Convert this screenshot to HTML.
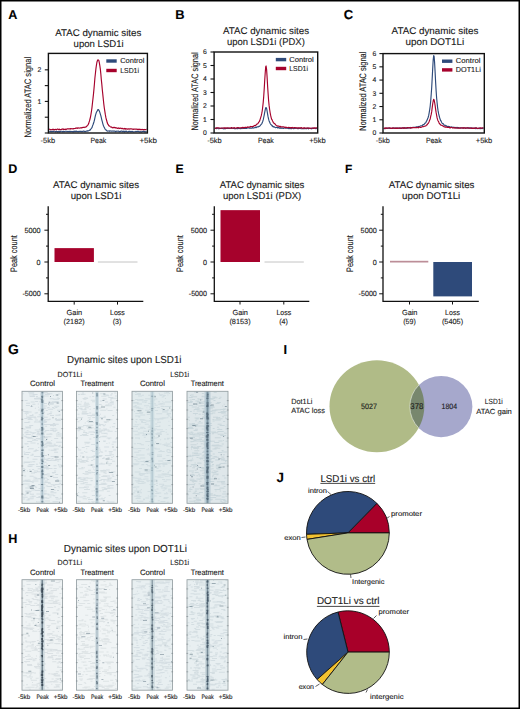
<!DOCTYPE html>
<html><head><meta charset="utf-8"><title>Figure</title>
<style>html,body{margin:0;padding:0;background:#fff;}body{width:520px;height:709px;overflow:hidden;font-family:"Liberation Sans",sans-serif;}svg{display:block;}</style>
</head><body>
<svg width="520" height="709" viewBox="0 0 520 709" font-family="Liberation Sans, sans-serif" text-rendering="geometricPrecision" fill="#1a1a1a"><style>text{stroke:#1a1a1a;stroke-width:0.12px;}</style>
<text x="8.30" y="19.40" font-size="12.6" font-weight="bold" fill="#000">A</text>
<text x="175.30" y="18.80" font-size="12.9" font-weight="bold" fill="#000">B</text>
<text x="343.80" y="19.10" font-size="13.0" font-weight="bold" fill="#000">C</text>
<text x="8.30" y="172.90" font-size="12.5" font-weight="bold" fill="#000">D</text>
<text x="175.40" y="172.80" font-size="12.3" font-weight="bold" fill="#000">E</text>
<text x="345.10" y="172.60" font-size="11.9" font-weight="bold" fill="#000">F</text>
<text x="8.00" y="354.00" font-size="13.9" font-weight="bold" fill="#000">G</text>
<text x="8.20" y="542.90" font-size="12.6" font-weight="bold" fill="#000">H</text>
<text x="283.60" y="353.60" font-size="12.9" font-weight="bold" fill="#000">I</text>
<text x="276.40" y="481.80" font-size="13.4" font-weight="bold" fill="#000">J</text>
<polyline points="49.2,131.45 49.7,131.33 50.2,131.68 50.7,131.27 51.2,131.60 51.7,131.48 52.2,131.26 52.6,131.58 53.1,131.25 53.6,131.52 54.1,131.27 54.6,131.28 55.1,131.51 55.6,131.79 56.1,131.30 56.6,131.37 57.1,131.65 57.6,131.87 58.1,131.61 58.5,131.49 59.0,131.89 59.5,131.24 60.0,131.80 60.5,131.40 61.0,131.30 61.5,131.28 62.0,131.41 62.5,131.76 63.0,131.32 63.5,131.59 64.0,131.63 64.4,131.44 64.9,131.56 65.4,131.22 65.9,131.21 66.4,131.31 66.9,131.64 67.4,131.46 67.9,131.38 68.4,131.56 68.9,131.47 69.4,131.35 69.9,131.69 70.4,131.62 70.8,131.30 71.3,131.53 71.8,131.49 72.3,131.72 72.8,131.62 73.3,131.30 73.8,131.78 74.3,131.17 74.8,131.37 75.3,131.60 75.8,131.17 76.3,131.40 76.7,131.08 77.2,131.51 77.7,131.57 78.2,131.43 78.7,131.64 79.2,131.24 79.7,131.50 80.2,131.42 80.7,131.40 81.2,131.30 81.7,131.56 82.2,131.63 82.7,131.29 83.1,131.42 83.6,130.99 84.1,131.43 84.6,131.38 85.1,131.61 85.6,131.47 86.1,131.08 86.6,131.12 87.1,131.28 87.6,130.77 88.1,130.99 88.6,130.66 89.0,130.45 89.5,130.16 90.0,130.32 90.5,129.41 91.0,128.89 91.5,128.22 92.0,127.59 92.5,125.86 93.0,124.74 93.5,123.23 94.0,121.71 94.5,119.80 94.9,117.90 95.4,115.59 95.9,113.91 96.4,112.31 96.9,111.43 97.4,110.62 97.9,109.63 98.4,109.69 98.9,110.24 99.4,111.18 99.9,112.67 100.4,114.35 100.9,115.93 101.3,117.66 101.8,119.87 102.3,121.69 102.8,123.55 103.3,125.36 103.8,126.52 104.3,127.53 104.8,128.53 105.3,129.32 105.8,129.46 106.3,130.48 106.8,130.72 107.2,131.02 107.7,131.13 108.2,130.96 108.7,131.05 109.2,130.89 109.7,131.30 110.2,130.93 110.7,130.95 111.2,131.06 111.7,131.04 112.2,131.17 112.7,130.98 113.1,130.95 113.6,131.07 114.1,131.04 114.6,131.23 115.1,131.00 115.6,131.61 116.1,131.43 116.6,131.11 117.1,131.19 117.6,131.27 118.1,131.29 118.6,131.13 119.1,131.64 119.5,131.75 120.0,131.39 120.5,131.41 121.0,131.14 121.5,131.15 122.0,131.33 122.5,131.28 123.0,131.68 123.5,131.22 124.0,131.13 124.5,131.78 125.0,131.49 125.4,131.23 125.9,131.51 126.4,131.16 126.9,131.51 127.4,131.83 127.9,131.76 128.4,131.64 128.9,131.34 129.4,131.42 129.9,131.29 130.4,131.71 130.9,131.55 131.4,131.72 131.8,131.41 132.3,131.34 132.8,131.76 133.3,131.88 133.8,131.79 134.3,131.76 134.8,131.77 135.3,131.72 135.8,131.36 136.3,131.57 136.8,131.45 137.3,131.23 137.7,131.23 138.2,131.41 138.7,131.39 139.2,131.70 139.7,131.88 140.2,131.53 140.7,131.87 141.2,131.91 141.7,131.89 142.2,131.47 142.7,131.37 143.2,131.38 143.6,131.36 144.1,131.36 144.6,131.66 145.1,131.85 145.6,131.81 146.1,131.56 146.6,131.68" fill="none" stroke="#2e4a7a" stroke-width="1.15" stroke-linejoin="round"/>
<polyline points="49.2,129.71 49.7,129.20 50.2,129.60 50.7,129.77 51.2,129.68 51.7,129.66 52.2,129.46 52.6,129.25 53.1,129.67 53.6,129.34 54.1,129.67 54.6,129.78 55.1,129.37 55.6,129.37 56.1,129.74 56.6,129.58 57.1,129.18 57.6,129.14 58.1,129.15 58.5,129.67 59.0,129.59 59.5,129.11 60.0,129.58 60.5,129.67 61.0,129.43 61.5,129.20 62.0,129.32 62.5,129.01 63.0,128.91 63.5,129.57 64.0,129.32 64.4,129.21 64.9,129.48 65.4,129.10 65.9,129.39 66.4,129.33 66.9,128.87 67.4,128.87 67.9,128.87 68.4,128.81 68.9,129.02 69.4,128.76 69.9,128.83 70.4,128.60 70.8,129.11 71.3,128.68 71.8,128.71 72.3,128.76 72.8,128.94 73.3,128.56 73.8,128.87 74.3,128.53 74.8,128.51 75.3,128.45 75.8,128.05 76.3,128.30 76.7,128.07 77.2,127.89 77.7,128.39 78.2,127.90 78.7,128.06 79.2,128.18 79.7,128.01 80.2,127.79 80.7,127.87 81.2,127.84 81.7,127.94 82.2,127.40 82.7,127.65 83.1,127.36 83.6,127.30 84.1,127.55 84.6,127.25 85.1,127.14 85.6,127.09 86.1,126.95 86.6,126.30 87.1,125.99 87.6,125.35 88.1,124.62 88.6,123.79 89.0,122.40 89.5,120.92 90.0,118.99 90.5,117.01 91.0,114.09 91.5,110.99 92.0,107.35 92.5,102.74 93.0,98.41 93.5,93.82 94.0,88.68 94.5,83.05 94.9,77.99 95.4,73.44 95.9,68.86 96.4,65.29 96.9,62.27 97.4,60.71 97.9,59.83 98.4,60.01 98.9,60.65 99.4,63.20 99.9,66.21 100.4,69.67 100.9,74.61 101.3,79.51 101.8,84.07 102.3,89.72 102.8,94.37 103.3,99.23 103.8,104.05 104.3,108.00 104.8,111.13 105.3,114.45 105.8,117.17 106.3,119.27 106.8,121.00 107.2,122.56 107.7,124.01 108.2,124.43 108.7,125.51 109.2,125.96 109.7,126.07 110.2,126.60 110.7,127.04 111.2,127.14 111.7,126.96 112.2,127.72 112.7,127.67 113.1,127.88 113.6,127.34 114.1,127.52 114.6,127.43 115.1,128.00 115.6,127.71 116.1,127.66 116.6,127.92 117.1,128.32 117.6,128.31 118.1,127.97 118.6,127.95 119.1,128.54 119.5,128.35 120.0,128.49 120.5,128.11 121.0,128.14 121.5,128.62 122.0,128.49 122.5,128.28 123.0,128.93 123.5,128.76 124.0,128.92 124.5,128.46 125.0,129.04 125.4,128.52 125.9,129.12 126.4,128.86 126.9,128.82 127.4,129.00 127.9,129.29 128.4,128.86 128.9,128.79 129.4,129.10 129.9,128.92 130.4,128.86 130.9,128.92 131.4,128.86 131.8,128.99 132.3,129.09 132.8,129.10 133.3,129.44 133.8,129.13 134.3,129.29 134.8,129.08 135.3,129.22 135.8,129.00 136.3,129.18 136.8,129.02 137.3,129.54 137.7,129.42 138.2,129.18 138.7,129.39 139.2,129.72 139.7,129.15 140.2,129.65 140.7,129.39 141.2,129.44 141.7,129.69 142.2,129.38 142.7,129.47 143.2,129.60 143.6,129.81 144.1,129.37 144.6,129.71 145.1,129.63 145.6,129.58 146.1,129.43 146.6,129.39" fill="none" stroke="#a6022c" stroke-width="1.15" stroke-linejoin="round"/>
<rect x="48.4" y="53.4" width="99.00" height="79.60" fill="none" stroke="#111" stroke-width="1.4"/>
<line x1="44.8" y1="69.83" x2="48.4" y2="69.83" stroke="#111" stroke-width="1.1"/>
<text x="41.40" y="72.23" font-size="6.8" text-anchor="end">2</text>
<line x1="44.8" y1="85.62" x2="48.4" y2="85.62" stroke="#111" stroke-width="1.1"/>
<line x1="44.8" y1="101.41" x2="48.4" y2="101.41" stroke="#111" stroke-width="1.1"/>
<text x="41.40" y="103.81" font-size="6.8" text-anchor="end">1</text>
<line x1="44.8" y1="117.21" x2="48.4" y2="117.21" stroke="#111" stroke-width="1.1"/>
<line x1="44.8" y1="133.00" x2="48.4" y2="133.00" stroke="#111" stroke-width="1.1"/>
<text x="98.30" y="35.90" font-size="9.7" text-anchor="middle" textLength="86.10" lengthAdjust="spacingAndGlyphs">ATAC dynamic sites</text>
<text x="98.65" y="46.90" font-size="9.7" text-anchor="middle" textLength="50.10" lengthAdjust="spacingAndGlyphs">upon LSD1i</text>
<rect x="106.3" y="59.3" width="10.4" height="3.4" fill="#2e4a7a"/>
<rect x="106.3" y="68.8" width="10.4" height="3.4" fill="#a6022c"/>
<text x="120.20" y="63.00" font-size="7.2" textLength="24.20" lengthAdjust="spacingAndGlyphs">Control</text>
<text x="120.20" y="72.70" font-size="7.2" textLength="18.80" lengthAdjust="spacingAndGlyphs">LSD1i</text>
<text x="30.50" y="97.25" font-size="9.4" text-anchor="middle" textLength="80.70" lengthAdjust="spacingAndGlyphs" transform="rotate(-90 30.50 97.25)">Normalized ATAC signal</text>
<text x="47.80" y="143.00" font-size="7.6" text-anchor="middle" textLength="14.50" lengthAdjust="spacingAndGlyphs">-5kb</text>
<text x="98.40" y="143.00" font-size="7.6" text-anchor="middle" textLength="15.80" lengthAdjust="spacingAndGlyphs">Peak</text>
<text x="148.20" y="143.00" font-size="7.6" text-anchor="middle" textLength="17.50" lengthAdjust="spacingAndGlyphs">+5kb</text>
<polyline points="214.9,128.19 215.4,128.24 215.9,128.20 216.4,128.67 216.9,128.33 217.4,128.26 217.9,128.20 218.3,128.73 218.8,128.75 219.3,128.61 219.8,128.34 220.3,128.31 220.8,128.34 221.3,128.46 221.8,128.25 222.3,128.45 222.8,128.32 223.3,128.80 223.8,128.81 224.3,128.51 224.8,128.30 225.2,128.80 225.7,128.34 226.2,128.37 226.7,128.12 227.2,128.38 227.7,128.45 228.2,128.47 228.7,128.25 229.2,128.46 229.7,128.11 230.2,128.29 230.7,128.16 231.2,128.38 231.7,128.13 232.1,128.11 232.6,128.30 233.1,128.25 233.6,128.49 234.1,128.45 234.6,128.60 235.1,128.53 235.6,128.57 236.1,128.68 236.6,128.33 237.1,128.28 237.6,128.74 238.1,128.15 238.6,128.55 239.0,128.49 239.5,128.06 240.0,128.61 240.5,128.64 241.0,128.45 241.5,128.52 242.0,128.56 242.5,128.08 243.0,128.34 243.5,128.32 244.0,128.54 244.5,128.51 245.0,128.51 245.5,128.33 245.9,128.53 246.4,128.37 246.9,128.36 247.4,128.02 247.9,127.86 248.4,127.92 248.9,128.05 249.4,127.85 249.9,128.34 250.4,128.12 250.9,128.14 251.4,128.10 251.9,128.10 252.3,127.93 252.8,127.54 253.3,128.05 253.8,127.96 254.3,127.72 254.8,127.67 255.3,127.68 255.8,127.17 256.3,127.54 256.8,127.08 257.3,126.81 257.8,126.78 258.3,126.92 258.8,126.32 259.2,126.42 259.7,126.26 260.2,125.52 260.7,124.95 261.2,124.41 261.7,123.78 262.2,122.86 262.7,121.50 263.2,119.92 263.7,117.50 264.2,115.07 264.7,112.33 265.2,109.92 265.7,107.66 266.1,107.48 266.6,108.47 267.1,111.03 267.6,114.04 268.1,116.97 268.6,119.19 269.1,120.94 269.6,122.05 270.1,123.29 270.6,124.10 271.1,124.78 271.6,125.07 272.1,126.05 272.6,125.92 273.0,126.76 273.5,126.97 274.0,126.54 274.5,127.02 275.0,127.42 275.5,127.65 276.0,127.40 276.5,127.37 277.0,127.41 277.5,128.00 278.0,127.56 278.5,127.87 279.0,127.62 279.5,127.93 279.9,128.28 280.4,127.74 280.9,128.26 281.4,128.07 281.9,128.36 282.4,128.26 282.9,127.95 283.4,128.44 283.9,128.18 284.4,127.87 284.9,127.87 285.4,128.23 285.9,128.22 286.3,128.13 286.8,128.03 287.3,128.18 287.8,128.17 288.3,128.55 288.8,127.97 289.3,128.51 289.8,128.58 290.3,128.08 290.8,128.65 291.3,128.51 291.8,128.65 292.3,128.23 292.8,128.29 293.2,128.31 293.7,128.74 294.2,128.46 294.7,128.31 295.2,128.36 295.7,128.26 296.2,128.10 296.7,128.14 297.2,128.66 297.7,128.28 298.2,128.74 298.7,128.26 299.2,128.28 299.7,128.45 300.1,128.23 300.6,128.36 301.1,128.77 301.6,128.72 302.1,128.67 302.6,128.55 303.1,128.75 303.6,128.77 304.1,128.50 304.6,128.62 305.1,128.15 305.6,128.63 306.1,128.44 306.6,128.65 307.0,128.58 307.5,128.33 308.0,128.16 308.5,128.78 309.0,128.22 309.5,128.46 310.0,128.38 310.5,128.34 311.0,128.65 311.5,128.82 312.0,128.32 312.5,128.60 313.0,128.35 313.5,128.53 313.9,128.42 314.4,128.26 314.9,128.26 315.4,128.29 315.9,128.78 316.4,128.50 316.9,128.30" fill="none" stroke="#2e4a7a" stroke-width="1.15" stroke-linejoin="round"/>
<polyline points="214.9,128.43 215.4,128.49 215.9,128.10 216.4,127.88 216.9,127.92 217.4,127.84 217.9,128.02 218.3,127.84 218.8,127.94 219.3,127.95 219.8,128.16 220.3,128.38 220.8,128.28 221.3,128.04 221.8,128.04 222.3,128.11 222.8,128.00 223.3,127.97 223.8,127.77 224.3,127.92 224.8,128.40 225.2,127.81 225.7,128.06 226.2,128.15 226.7,128.31 227.2,127.85 227.7,127.88 228.2,127.86 228.7,127.96 229.2,127.98 229.7,128.33 230.2,128.25 230.7,128.26 231.2,127.66 231.7,127.66 232.1,128.12 232.6,128.24 233.1,127.94 233.6,128.01 234.1,127.59 234.6,127.85 235.1,128.21 235.6,128.13 236.1,128.14 236.6,128.21 237.1,127.69 237.6,127.58 238.1,127.59 238.6,127.83 239.0,127.93 239.5,128.09 240.0,127.92 240.5,127.85 241.0,127.91 241.5,127.67 242.0,127.71 242.5,127.33 243.0,127.82 243.5,127.41 244.0,127.86 244.5,127.64 245.0,127.36 245.5,127.20 245.9,127.25 246.4,127.48 246.9,127.48 247.4,127.01 247.9,126.93 248.4,127.19 248.9,127.17 249.4,126.96 249.9,126.77 250.4,126.96 250.9,126.45 251.4,126.56 251.9,126.56 252.3,126.79 252.8,126.44 253.3,126.45 253.8,126.00 254.3,125.65 254.8,125.44 255.3,125.71 255.8,125.25 256.3,124.67 256.8,124.11 257.3,124.03 257.8,123.67 258.3,122.92 258.8,122.13 259.2,121.61 259.7,120.82 260.2,119.14 260.7,117.55 261.2,115.95 261.7,113.72 262.2,111.01 262.7,106.97 263.2,102.65 263.7,96.62 264.2,89.11 264.7,80.56 265.2,72.93 265.7,66.70 266.1,65.97 266.6,69.64 267.1,77.13 267.6,85.98 268.1,93.48 268.6,100.49 269.1,105.39 269.6,109.27 270.1,112.49 270.6,115.14 271.1,117.30 271.6,119.09 272.1,119.82 272.6,121.05 273.0,121.79 273.5,123.05 274.0,123.07 274.5,123.53 275.0,123.97 275.5,124.59 276.0,125.27 276.5,125.55 277.0,125.69 277.5,126.10 278.0,126.25 278.5,126.00 279.0,126.06 279.5,126.72 279.9,126.71 280.4,126.33 280.9,126.87 281.4,126.77 281.9,126.85 282.4,126.90 282.9,126.85 283.4,126.80 283.9,127.06 284.4,127.16 284.9,127.64 285.4,127.10 285.9,127.73 286.3,127.24 286.8,127.39 287.3,127.75 287.8,127.78 288.3,127.54 288.8,127.30 289.3,127.62 289.8,127.58 290.3,127.99 290.8,127.50 291.3,127.64 291.8,128.04 292.3,127.45 292.8,127.73 293.2,128.03 293.7,128.01 294.2,127.52 294.7,127.53 295.2,127.57 295.7,128.18 296.2,127.73 296.7,128.08 297.2,128.20 297.7,127.82 298.2,127.78 298.7,128.27 299.2,128.04 299.7,127.80 300.1,128.13 300.6,127.86 301.1,127.84 301.6,127.66 302.1,128.19 302.6,128.31 303.1,128.12 303.6,128.34 304.1,127.70 304.6,127.86 305.1,128.03 305.6,128.37 306.1,128.38 306.6,127.99 307.0,127.90 307.5,128.03 308.0,128.07 308.5,128.38 309.0,127.87 309.5,128.30 310.0,128.26 310.5,128.33 311.0,128.30 311.5,128.18 312.0,127.99 312.5,127.99 313.0,128.02 313.5,128.32 313.9,127.83 314.4,127.92 314.9,128.31 315.4,127.96 315.9,127.83 316.4,127.81 316.9,128.18" fill="none" stroke="#a6022c" stroke-width="1.15" stroke-linejoin="round"/>
<rect x="214.1" y="52.0" width="103.60" height="81.00" fill="none" stroke="#111" stroke-width="1.4"/>
<line x1="210.5" y1="133.00" x2="214.1" y2="133.00" stroke="#111" stroke-width="1.1"/>
<text x="206.90" y="135.40" font-size="6.8" text-anchor="end">0</text>
<line x1="210.5" y1="119.50" x2="214.1" y2="119.50" stroke="#111" stroke-width="1.1"/>
<text x="206.90" y="121.90" font-size="6.8" text-anchor="end">1</text>
<line x1="210.5" y1="106.00" x2="214.1" y2="106.00" stroke="#111" stroke-width="1.1"/>
<text x="206.90" y="108.40" font-size="6.8" text-anchor="end">2</text>
<line x1="210.5" y1="92.50" x2="214.1" y2="92.50" stroke="#111" stroke-width="1.1"/>
<text x="206.90" y="94.90" font-size="6.8" text-anchor="end">3</text>
<line x1="210.5" y1="79.00" x2="214.1" y2="79.00" stroke="#111" stroke-width="1.1"/>
<text x="206.90" y="81.40" font-size="6.8" text-anchor="end">4</text>
<line x1="210.5" y1="65.50" x2="214.1" y2="65.50" stroke="#111" stroke-width="1.1"/>
<text x="206.90" y="67.90" font-size="6.8" text-anchor="end">5</text>
<line x1="210.5" y1="52.00" x2="214.1" y2="52.00" stroke="#111" stroke-width="1.1"/>
<text x="206.90" y="54.40" font-size="6.8" text-anchor="end">6</text>
<text x="266.05" y="34.00" font-size="9.7" text-anchor="middle" textLength="85.90" lengthAdjust="spacingAndGlyphs">ATAC dynamic sites</text>
<text x="265.85" y="45.20" font-size="9.7" text-anchor="middle" textLength="77.90" lengthAdjust="spacingAndGlyphs">upon LSD1i (PDX)</text>
<rect x="275.8" y="57.9" width="10.4" height="3.4" fill="#2e4a7a"/>
<rect x="275.8" y="66.8" width="10.4" height="3.4" fill="#a6022c"/>
<text x="289.20" y="61.60" font-size="7.2" textLength="24.60" lengthAdjust="spacingAndGlyphs">Control</text>
<text x="289.20" y="70.70" font-size="7.2" textLength="18.80" lengthAdjust="spacingAndGlyphs">LSD1i</text>
<text x="198.00" y="91.50" font-size="9.4" text-anchor="middle" textLength="78.20" lengthAdjust="spacingAndGlyphs" transform="rotate(-90 198.00 91.50)">Normalized ATAC signal</text>
<text x="214.50" y="143.00" font-size="7.6" text-anchor="middle" textLength="14.50" lengthAdjust="spacingAndGlyphs">-5kb</text>
<text x="265.90" y="143.00" font-size="7.6" text-anchor="middle" textLength="15.80" lengthAdjust="spacingAndGlyphs">Peak</text>
<text x="317.50" y="143.00" font-size="7.6" text-anchor="middle" textLength="16.60" lengthAdjust="spacingAndGlyphs">+5kb</text>
<polyline points="383.8,128.21 384.3,128.66 384.8,128.59 385.3,128.66 385.8,128.15 386.3,128.02 386.8,128.03 387.3,128.30 387.7,128.45 388.2,128.26 388.7,128.11 389.2,128.23 389.7,128.37 390.2,128.40 390.7,128.45 391.2,128.51 391.7,128.38 392.2,127.99 392.7,128.49 393.2,128.10 393.7,128.29 394.2,128.14 394.7,128.39 395.2,128.01 395.6,128.03 396.1,128.02 396.6,127.95 397.1,128.46 397.6,128.23 398.1,128.05 398.6,128.09 399.1,128.50 399.6,128.15 400.1,127.94 400.6,128.33 401.1,128.21 401.6,128.44 402.1,127.80 402.6,128.05 403.0,128.28 403.5,128.28 404.0,128.32 404.5,127.69 405.0,127.85 405.5,127.71 406.0,127.74 406.5,128.27 407.0,127.97 407.5,128.19 408.0,127.78 408.5,128.10 409.0,127.78 409.5,127.62 410.0,127.96 410.5,128.04 410.9,127.42 411.4,127.73 411.9,127.71 412.4,127.39 412.9,127.45 413.4,127.24 413.9,127.24 414.4,127.22 414.9,127.40 415.4,127.38 415.9,127.00 416.4,126.79 416.9,126.93 417.4,127.09 417.9,126.65 418.3,126.64 418.8,126.45 419.3,126.74 419.8,126.42 420.3,125.93 420.8,125.79 421.3,125.81 421.8,125.70 422.3,125.53 422.8,124.88 423.3,124.62 423.8,124.65 424.3,124.05 424.8,123.50 425.3,122.98 425.8,122.81 426.2,121.62 426.7,120.93 427.2,119.73 427.7,118.50 428.2,117.27 428.7,115.45 429.2,112.62 429.7,109.50 430.2,106.06 430.7,100.85 431.2,94.55 431.7,87.53 432.2,78.11 432.7,68.64 433.2,59.79 433.7,55.48 434.1,56.37 434.6,62.67 435.1,71.88 435.6,81.90 436.1,90.53 436.6,97.77 437.1,102.81 437.6,107.59 438.1,110.88 438.6,113.72 439.1,115.65 439.6,117.51 440.1,119.10 440.6,120.56 441.1,120.97 441.5,122.05 442.0,122.96 442.5,123.66 443.0,123.63 443.5,124.01 444.0,124.96 444.5,125.31 445.0,125.26 445.5,125.21 446.0,126.05 446.5,125.88 447.0,126.42 447.5,126.38 448.0,126.67 448.5,126.34 449.0,126.90 449.4,126.61 449.9,126.84 450.4,127.24 450.9,127.31 451.4,126.94 451.9,127.03 452.4,127.23 452.9,127.37 453.4,127.33 453.9,127.20 454.4,127.34 454.9,127.72 455.4,127.88 455.9,127.32 456.4,127.72 456.8,127.89 457.3,127.42 457.8,128.01 458.3,127.54 458.8,127.90 459.3,127.89 459.8,127.97 460.3,127.77 460.8,127.87 461.3,128.00 461.8,127.91 462.3,128.09 462.8,127.96 463.3,127.97 463.8,127.70 464.3,128.13 464.7,128.05 465.2,127.89 465.7,128.27 466.2,128.30 466.7,128.08 467.2,127.90 467.7,128.12 468.2,127.87 468.7,127.89 469.2,128.12 469.7,127.89 470.2,128.14 470.7,128.20 471.2,127.88 471.7,128.30 472.1,127.92 472.6,128.38 473.1,128.42 473.6,128.24 474.1,127.93 474.6,128.25 475.1,128.17 475.6,128.57 476.1,128.01 476.6,128.52 477.1,128.62 477.6,128.44 478.1,128.51 478.6,128.08 479.1,128.63 479.6,128.29 480.0,128.62 480.5,128.60 481.0,128.08 481.5,128.52 482.0,128.62 482.5,128.02 483.0,128.22 483.5,128.51" fill="none" stroke="#2e4a7a" stroke-width="1.15" stroke-linejoin="round"/>
<polyline points="383.8,127.92 384.3,128.44 384.8,128.00 385.3,128.38 385.8,127.91 386.3,128.16 386.8,128.45 387.3,127.95 387.7,127.98 388.2,128.15 388.7,128.02 389.2,127.82 389.7,127.92 390.2,127.90 390.7,128.44 391.2,128.26 391.7,128.41 392.2,127.90 392.7,128.33 393.2,127.86 393.7,128.14 394.2,128.22 394.7,128.02 395.2,128.38 395.6,128.15 396.1,128.16 396.6,128.37 397.1,127.82 397.6,128.44 398.1,128.18 398.6,128.02 399.1,128.29 399.6,127.92 400.1,128.42 400.6,128.13 401.1,127.97 401.6,128.25 402.1,128.02 402.6,127.82 403.0,128.22 403.5,127.72 404.0,128.26 404.5,127.85 405.0,128.12 405.5,128.35 406.0,128.06 406.5,128.11 407.0,127.85 407.5,127.63 408.0,127.64 408.5,127.71 409.0,128.03 409.5,127.88 410.0,127.93 410.5,128.18 410.9,127.63 411.4,127.69 411.9,127.97 412.4,127.51 412.9,127.48 413.4,127.70 413.9,127.51 414.4,127.66 414.9,127.54 415.4,127.77 415.9,127.74 416.4,127.44 416.9,127.70 417.4,127.56 417.9,127.28 418.3,127.80 418.8,127.27 419.3,127.15 419.8,127.05 420.3,127.36 420.8,127.45 421.3,127.31 421.8,126.96 422.3,126.76 422.8,126.47 423.3,126.78 423.8,126.57 424.3,126.26 424.8,126.27 425.3,125.90 425.8,125.98 426.2,125.53 426.7,124.82 427.2,124.83 427.7,123.70 428.2,123.39 428.7,122.50 429.2,121.40 429.7,120.03 430.2,118.98 430.7,116.47 431.2,114.38 431.7,111.64 432.2,107.56 432.7,103.90 433.2,101.01 433.7,99.23 434.1,99.76 434.6,102.28 435.1,105.32 435.6,109.10 436.1,112.44 436.6,115.06 437.1,117.91 437.6,119.63 438.1,121.01 438.6,121.65 439.1,123.14 439.6,123.81 440.1,124.21 440.6,124.90 441.1,125.11 441.5,125.30 442.0,125.51 442.5,125.84 443.0,125.92 443.5,126.31 444.0,126.77 444.5,126.87 445.0,127.10 445.5,127.11 446.0,126.90 446.5,127.18 447.0,127.18 447.5,127.50 448.0,127.37 448.5,127.25 449.0,127.56 449.4,127.84 449.9,127.36 450.4,127.86 450.9,127.29 451.4,127.49 451.9,127.51 452.4,127.89 452.9,128.06 453.4,127.94 453.9,127.67 454.4,128.08 454.9,127.71 455.4,127.67 455.9,128.15 456.4,127.97 456.8,128.03 457.3,128.03 457.8,128.26 458.3,127.92 458.8,128.19 459.3,128.10 459.8,128.22 460.3,127.94 460.8,128.15 461.3,128.05 461.8,127.87 462.3,127.81 462.8,128.11 463.3,127.73 463.8,128.32 464.3,127.79 464.7,127.72 465.2,127.78 465.7,128.36 466.2,127.96 466.7,127.82 467.2,127.74 467.7,127.76 468.2,128.22 468.7,128.18 469.2,128.23 469.7,128.26 470.2,127.80 470.7,128.17 471.2,128.01 471.7,128.33 472.1,128.34 472.6,128.39 473.1,127.82 473.6,128.38 474.1,128.41 474.6,128.44 475.1,127.85 475.6,127.93 476.1,127.86 476.6,127.81 477.1,128.38 477.6,128.36 478.1,128.24 478.6,128.37 479.1,128.24 479.6,128.00 480.0,127.87 480.5,127.87 481.0,128.33 481.5,127.95 482.0,128.03 482.5,128.11 483.0,127.83 483.5,127.99" fill="none" stroke="#a6022c" stroke-width="1.15" stroke-linejoin="round"/>
<rect x="383.0" y="53.6" width="101.30" height="79.40" fill="none" stroke="#111" stroke-width="1.4"/>
<line x1="379.4" y1="133.00" x2="383.0" y2="133.00" stroke="#111" stroke-width="1.1"/>
<text x="376.30" y="135.40" font-size="6.8" text-anchor="end">0</text>
<line x1="379.4" y1="119.77" x2="383.0" y2="119.77" stroke="#111" stroke-width="1.1"/>
<text x="376.30" y="122.17" font-size="6.8" text-anchor="end">1</text>
<line x1="379.4" y1="106.53" x2="383.0" y2="106.53" stroke="#111" stroke-width="1.1"/>
<text x="376.30" y="108.93" font-size="6.8" text-anchor="end">2</text>
<line x1="379.4" y1="93.30" x2="383.0" y2="93.30" stroke="#111" stroke-width="1.1"/>
<text x="376.30" y="95.70" font-size="6.8" text-anchor="end">3</text>
<line x1="379.4" y1="80.07" x2="383.0" y2="80.07" stroke="#111" stroke-width="1.1"/>
<text x="376.30" y="82.47" font-size="6.8" text-anchor="end">4</text>
<line x1="379.4" y1="66.83" x2="383.0" y2="66.83" stroke="#111" stroke-width="1.1"/>
<text x="376.30" y="69.23" font-size="6.8" text-anchor="end">5</text>
<line x1="379.4" y1="53.60" x2="383.0" y2="53.60" stroke="#111" stroke-width="1.1"/>
<text x="376.30" y="56.00" font-size="6.8" text-anchor="end">6</text>
<text x="435.00" y="34.00" font-size="9.7" text-anchor="middle" textLength="86.80" lengthAdjust="spacingAndGlyphs">ATAC dynamic sites</text>
<text x="434.80" y="45.20" font-size="9.7" text-anchor="middle" textLength="58.80" lengthAdjust="spacingAndGlyphs">upon DOT1Li</text>
<rect x="442.0" y="59.5" width="10.4" height="3.4" fill="#2e4a7a"/>
<rect x="442.0" y="68.2" width="10.4" height="3.4" fill="#a6022c"/>
<text x="455.80" y="63.20" font-size="7.2" textLength="24.70" lengthAdjust="spacingAndGlyphs">Control</text>
<text x="455.80" y="72.10" font-size="7.2" textLength="25.00" lengthAdjust="spacingAndGlyphs">DOT1Li</text>
<text x="366.50" y="91.20" font-size="9.4" text-anchor="middle" textLength="78.90" lengthAdjust="spacingAndGlyphs" transform="rotate(-90 366.50 91.20)">Normalized ATAC signal</text>
<text x="382.80" y="143.00" font-size="7.6" text-anchor="middle" textLength="14.00" lengthAdjust="spacingAndGlyphs">-5kb</text>
<text x="433.80" y="143.00" font-size="7.6" text-anchor="middle" textLength="15.80" lengthAdjust="spacingAndGlyphs">Peak</text>
<text x="484.00" y="143.00" font-size="7.6" text-anchor="middle" textLength="16.50" lengthAdjust="spacingAndGlyphs">+5kb</text>
<rect x="54.5" y="248.12" width="39.40" height="13.88" fill="#a6022c"/>
<line x1="97.9" y1="262.0" x2="137.5" y2="262.0" stroke="#c4c4c4" stroke-width="1"/>
<polyline points="48.2,206.2 48.2,301.4 143.3,301.4" fill="none" stroke="#111" stroke-width="1.3"/>
<line x1="46.0" y1="214.30" x2="48.2" y2="214.30" stroke="#111" stroke-width="1"/>
<line x1="44.400000000000006" y1="230.20" x2="48.2" y2="230.20" stroke="#111" stroke-width="1"/>
<text x="40.60" y="232.80" font-size="7.4" text-anchor="end" textLength="16.20" lengthAdjust="spacingAndGlyphs">5000</text>
<line x1="46.0" y1="246.10" x2="48.2" y2="246.10" stroke="#111" stroke-width="1"/>
<line x1="44.400000000000006" y1="262.00" x2="48.2" y2="262.00" stroke="#111" stroke-width="1"/>
<text x="40.60" y="264.60" font-size="7.4" text-anchor="end" textLength="4.00" lengthAdjust="spacingAndGlyphs">0</text>
<line x1="46.0" y1="277.90" x2="48.2" y2="277.90" stroke="#111" stroke-width="1"/>
<line x1="44.400000000000006" y1="293.80" x2="48.2" y2="293.80" stroke="#111" stroke-width="1"/>
<text x="40.60" y="296.40" font-size="7.4" text-anchor="end" textLength="18.20" lengthAdjust="spacingAndGlyphs">-5000</text>
<line x1="74.2" y1="301.4" x2="74.2" y2="304.59999999999997" stroke="#111" stroke-width="1"/>
<line x1="117.5" y1="301.4" x2="117.5" y2="304.59999999999997" stroke="#111" stroke-width="1"/>
<text x="74.40" y="314.60" font-size="7.4" text-anchor="middle" textLength="15.60" lengthAdjust="spacingAndGlyphs">Gain</text>
<text x="74.20" y="323.80" font-size="7.4" text-anchor="middle" textLength="21.20" lengthAdjust="spacingAndGlyphs">(2182)</text>
<text x="117.40" y="314.60" font-size="7.4" text-anchor="middle" textLength="14.80" lengthAdjust="spacingAndGlyphs">Loss</text>
<text x="117.00" y="323.80" font-size="7.4" text-anchor="middle" textLength="8.70" lengthAdjust="spacingAndGlyphs">(3)</text>
<text x="96.05" y="188.30" font-size="9.7" text-anchor="middle" textLength="85.90" lengthAdjust="spacingAndGlyphs">ATAC dynamic sites</text>
<text x="96.05" y="199.30" font-size="9.7" text-anchor="middle" textLength="50.70" lengthAdjust="spacingAndGlyphs">upon LSD1i</text>
<text x="17.00" y="253.60" font-size="9.4" text-anchor="middle" textLength="36.80" lengthAdjust="spacingAndGlyphs" transform="rotate(-90 17.00 253.60)">Peak count</text>
<rect x="220.5" y="210.15" width="39.50" height="51.85" fill="#a6022c"/>
<line x1="264.5" y1="262.0" x2="303.8" y2="262.0" stroke="#c4c4c4" stroke-width="1"/>
<polyline points="214.3,206.2 214.3,301.3 309.3,301.3" fill="none" stroke="#111" stroke-width="1.3"/>
<line x1="212.10000000000002" y1="214.30" x2="214.3" y2="214.30" stroke="#111" stroke-width="1"/>
<line x1="210.5" y1="230.20" x2="214.3" y2="230.20" stroke="#111" stroke-width="1"/>
<text x="207.00" y="232.80" font-size="7.4" text-anchor="end" textLength="16.20" lengthAdjust="spacingAndGlyphs">5000</text>
<line x1="212.10000000000002" y1="246.10" x2="214.3" y2="246.10" stroke="#111" stroke-width="1"/>
<line x1="210.5" y1="262.00" x2="214.3" y2="262.00" stroke="#111" stroke-width="1"/>
<text x="207.00" y="264.60" font-size="7.4" text-anchor="end" textLength="4.00" lengthAdjust="spacingAndGlyphs">0</text>
<line x1="212.10000000000002" y1="277.90" x2="214.3" y2="277.90" stroke="#111" stroke-width="1"/>
<line x1="210.5" y1="293.80" x2="214.3" y2="293.80" stroke="#111" stroke-width="1"/>
<text x="207.00" y="296.40" font-size="7.4" text-anchor="end" textLength="18.20" lengthAdjust="spacingAndGlyphs">-5000</text>
<line x1="240.0" y1="301.3" x2="240.0" y2="304.5" stroke="#111" stroke-width="1"/>
<line x1="283.8" y1="301.3" x2="283.8" y2="304.5" stroke="#111" stroke-width="1"/>
<text x="240.20" y="314.60" font-size="7.4" text-anchor="middle" textLength="15.60" lengthAdjust="spacingAndGlyphs">Gain</text>
<text x="240.00" y="323.80" font-size="7.4" text-anchor="middle" textLength="21.20" lengthAdjust="spacingAndGlyphs">(8153)</text>
<text x="283.80" y="314.60" font-size="7.4" text-anchor="middle" textLength="14.80" lengthAdjust="spacingAndGlyphs">Loss</text>
<text x="283.50" y="323.80" font-size="7.4" text-anchor="middle" textLength="8.70" lengthAdjust="spacingAndGlyphs">(4)</text>
<text x="262.10" y="188.30" font-size="9.7" text-anchor="middle" textLength="84.60" lengthAdjust="spacingAndGlyphs">ATAC dynamic sites</text>
<text x="262.15" y="199.30" font-size="9.7" text-anchor="middle" textLength="78.30" lengthAdjust="spacingAndGlyphs">upon LSD1i (PDX)</text>
<text x="183.00" y="253.60" font-size="9.4" text-anchor="middle" textLength="36.80" lengthAdjust="spacingAndGlyphs" transform="rotate(-90 183.00 253.60)">Peak count</text>
<rect x="390.0" y="260.8" width="38.30" height="1.7" fill="#bc8e98"/>
<rect x="433.3" y="262.00" width="38.70" height="34.38" fill="#2e4a7a"/>
<polyline points="383.0,206.2 383.0,301.3 478.8,301.3" fill="none" stroke="#111" stroke-width="1.3"/>
<line x1="380.8" y1="214.30" x2="383.0" y2="214.30" stroke="#111" stroke-width="1"/>
<line x1="379.2" y1="230.20" x2="383.0" y2="230.20" stroke="#111" stroke-width="1"/>
<text x="376.80" y="232.80" font-size="7.4" text-anchor="end" textLength="16.20" lengthAdjust="spacingAndGlyphs">5000</text>
<line x1="380.8" y1="246.10" x2="383.0" y2="246.10" stroke="#111" stroke-width="1"/>
<line x1="379.2" y1="262.00" x2="383.0" y2="262.00" stroke="#111" stroke-width="1"/>
<text x="376.80" y="264.60" font-size="7.4" text-anchor="end" textLength="4.00" lengthAdjust="spacingAndGlyphs">0</text>
<line x1="380.8" y1="277.90" x2="383.0" y2="277.90" stroke="#111" stroke-width="1"/>
<line x1="379.2" y1="293.80" x2="383.0" y2="293.80" stroke="#111" stroke-width="1"/>
<text x="376.80" y="296.40" font-size="7.4" text-anchor="end" textLength="18.20" lengthAdjust="spacingAndGlyphs">-5000</text>
<line x1="409.5" y1="301.3" x2="409.5" y2="304.5" stroke="#111" stroke-width="1"/>
<line x1="452.5" y1="301.3" x2="452.5" y2="304.5" stroke="#111" stroke-width="1"/>
<text x="409.70" y="314.60" font-size="7.4" text-anchor="middle" textLength="15.60" lengthAdjust="spacingAndGlyphs">Gain</text>
<text x="409.50" y="323.80" font-size="7.4" text-anchor="middle" textLength="12.50" lengthAdjust="spacingAndGlyphs">(59)</text>
<text x="452.50" y="314.60" font-size="7.4" text-anchor="middle" textLength="14.80" lengthAdjust="spacingAndGlyphs">Loss</text>
<text x="452.50" y="323.80" font-size="7.4" text-anchor="middle" textLength="21.20" lengthAdjust="spacingAndGlyphs">(5405)</text>
<text x="431.60" y="188.30" font-size="9.7" text-anchor="middle" textLength="85.60" lengthAdjust="spacingAndGlyphs">ATAC dynamic sites</text>
<text x="431.15" y="199.30" font-size="9.7" text-anchor="middle" textLength="58.30" lengthAdjust="spacingAndGlyphs">upon DOT1Li</text>
<text x="352.70" y="253.60" font-size="9.4" text-anchor="middle" textLength="36.80" lengthAdjust="spacingAndGlyphs" transform="rotate(-90 352.70 253.60)">Peak count</text>
<text x="124.30" y="363.20" font-size="10.2" text-anchor="middle" textLength="114.40" lengthAdjust="spacingAndGlyphs">Dynamic sites upon LSD1i</text>
<text x="69.80" y="376.80" font-size="7.4" text-anchor="middle" textLength="24.40" lengthAdjust="spacingAndGlyphs">DOT1Li</text>
<text x="179.65" y="376.80" font-size="7.4" text-anchor="middle" textLength="19.00" lengthAdjust="spacingAndGlyphs">LSD1i</text>
<text x="42.50" y="386.30" font-size="7.8" text-anchor="middle" textLength="25.00" lengthAdjust="spacingAndGlyphs">Control</text>
<text x="97.15" y="386.30" font-size="7.8" text-anchor="middle" textLength="33.10" lengthAdjust="spacingAndGlyphs">Treatment</text>
<text x="152.40" y="386.30" font-size="7.8" text-anchor="middle" textLength="25.00" lengthAdjust="spacingAndGlyphs">Control</text>
<text x="207.25" y="386.30" font-size="7.8" text-anchor="middle" textLength="33.00" lengthAdjust="spacingAndGlyphs">Treatment</text>
<rect x="22.0" y="391.3" width="40.50" height="112.00" fill="#eaf0f2"/>
<path d="M24.1 475.5h2v1h-2zM51.5 458.1h2v1h-2zM53.7 459.9h3v1h-3zM53.0 395.0h1v1h-1zM50.1 429.9h4v1h-4zM24.0 454.1h5v1h-5zM52.4 401.6h5v1h-5zM32.0 439.7h6v1h-6zM29.6 475.7h4v1h-4zM22.5 445.8h1v1h-1zM48.0 482.7h3v1h-3zM44.2 497.3h3v1h-3zM31.7 495.8h4v1h-4zM53.2 495.2h2v1h-2zM41.2 403.7h2v1h-2zM49.1 445.7h5v1h-5zM41.9 403.1h5v1h-5zM35.8 435.9h2v1h-2zM55.2 473.9h3v1h-3zM55.1 394.4h3v1h-3zM33.8 438.9h2v1h-2zM40.3 433.5h4v1h-4zM30.5 442.5h5v1h-5zM43.6 467.7h4v1h-4zM45.5 430.1h4v1h-4zM42.1 487.4h2v1h-2zM46.7 473.5h3v1h-3zM39.9 467.7h2v1h-2zM44.3 405.5h2v1h-2zM46.0 468.5h3v1h-3zM29.2 424.9h4v1h-4zM51.1 459.8h5v1h-5zM27.7 418.9h5v1h-5zM45.1 430.1h2v1h-2zM34.7 412.5h2v1h-2zM57.0 409.8h5v1h-5zM25.8 434.0h5v1h-5zM52.4 472.6h2v1h-2zM32.4 403.7h3v1h-3zM33.2 489.3h1v1h-1zM23.6 435.7h3v1h-3zM37.1 416.2h6v1h-6zM32.6 394.0h5v1h-5zM45.2 436.3h2v1h-2zM30.8 485.8h5v1h-5zM42.3 474.3h5v1h-5zM53.5 465.3h3v1h-3zM53.0 477.1h5v1h-5zM42.7 416.8h5v1h-5zM46.6 441.7h2v1h-2zM32.1 469.0h2v1h-2zM31.2 435.8h3v1h-3zM44.3 419.2h5v1h-5zM40.1 393.8h3v1h-3zM36.2 466.1h6v1h-6zM28.5 463.9h6v1h-6zM22.7 483.4h6v1h-6zM23.8 451.6h1v1h-1zM49.4 496.6h2v1h-2zM42.0 402.8h2v1h-2zM38.7 414.2h4v1h-4zM41.2 462.2h3v1h-3zM34.8 429.5h6v1h-6zM55.4 414.8h5v1h-5zM28.7 448.3h5v1h-5zM50.7 459.4h1v1h-1zM24.3 421.9h5v1h-5zM24.6 399.9h3v1h-3zM45.5 466.1h3v1h-3zM31.8 416.4h4v1h-4zM36.3 496.9h5v1h-5zM60.0 497.7h2v1h-2zM30.1 405.9h3v1h-3zM24.6 479.7h6v1h-6zM40.1 453.7h2v1h-2zM53.2 407.7h2v1h-2zM44.6 482.0h5v1h-5zM36.3 501.6h6v1h-6zM40.9 405.4h6v1h-6zM38.2 478.1h6v1h-6zM32.4 433.1h2v1h-2zM59.6 466.5h2v1h-2zM22.4 471.3h3v1h-3zM35.9 463.8h2v1h-2zM40.5 438.9h2v1h-2zM25.3 490.6h5v1h-5zM57.5 485.9h2v1h-2zM25.6 453.9h1v1h-1zM52.0 407.1h2v1h-2zM34.0 455.9h6v1h-6zM22.7 496.7h5v1h-5zM32.5 458.7h5v1h-5zM27.4 417.4h4v1h-4zM37.6 478.3h6v1h-6zM56.6 479.0h2v1h-2zM45.4 467.6h2v1h-2zM25.4 491.1h6v1h-6zM50.6 484.2h4v1h-4zM41.0 415.1h2v1h-2zM51.2 440.0h1v1h-1zM43.9 420.8h1v1h-1zM53.6 443.8h2v1h-2zM24.4 443.2h4v1h-4zM48.8 418.8h2v1h-2zM42.7 486.9h2v1h-2zM28.5 427.0h1v1h-1zM41.9 465.0h5v1h-5zM38.1 438.6h6v1h-6zM24.9 461.9h5v1h-5zM44.9 393.9h5v1h-5zM48.9 494.4h1v1h-1zM52.9 402.0h2v1h-2zM40.2 490.7h3v1h-3zM30.6 437.5h1v1h-1zM35.1 486.7h2v1h-2zM35.2 477.5h2v1h-2zM50.0 414.9h4v1h-4zM34.9 419.4h3v1h-3zM54.5 423.9h1v1h-1zM39.0 428.4h6v1h-6zM55.4 429.7h2v1h-2zM47.1 479.0h2v1h-2zM29.6 470.3h2v1h-2zM44.5 461.7h2v1h-2zM56.1 435.6h6v1h-6zM54.1 451.8h4v1h-4zM37.8 403.6h1v1h-1zM29.7 493.3h1v1h-1zM49.8 398.2h4v1h-4zM55.0 459.1h4v1h-4zM27.6 466.0h4v1h-4zM43.1 466.8h5v1h-5zM23.8 461.5h2v1h-2zM48.9 402.8h5v1h-5zM55.2 438.1h2v1h-2zM57.9 464.0h1v1h-1zM55.3 406.9h2v1h-2zM43.6 420.1h2v1h-2zM29.3 395.4h2v1h-2zM39.1 462.5h1v1h-1zM41.7 449.2h1v1h-1zM26.3 481.1h6v1h-6zM47.3 436.3h4v1h-4zM22.8 434.3h1v1h-1zM58.0 464.4h4v1h-4zM40.3 437.1h2v1h-2zM25.5 443.7h1v1h-1zM46.1 438.7h2v1h-2zM48.9 405.0h1v1h-1zM25.3 487.6h6v1h-6zM40.2 422.0h2v1h-2zM31.0 472.6h4v1h-4zM57.3 432.0h2v1h-2zM47.2 486.0h5v1h-5zM48.8 424.0h5v1h-5zM47.8 442.4h4v1h-4zM56.9 397.4h2v1h-2zM22.7 393.2h1v1h-1zM46.3 459.9h5v1h-5zM33.8 472.1h3v1h-3zM58.6 483.8h2v1h-2zM24.4 432.2h4v1h-4zM48.4 443.5h4v1h-4zM27.8 479.6h2v1h-2zM58.5 409.7h2v1h-2zM36.5 434.2h6v1h-6zM37.6 421.6h6v1h-6zM41.5 423.9h6v1h-6zM46.5 463.5h1v1h-1zM50.3 428.3h6v1h-6zM48.4 393.3h4v1h-4zM45.1 425.7h2v1h-2zM58.3 418.8h3v1h-3zM47.6 458.0h3v1h-3zM52.9 422.9h2v1h-2zM34.8 421.2h1v1h-1zM44.5 481.7h2v1h-2zM23.7 483.6h6v1h-6zM52.5 501.2h6v1h-6zM32.7 485.6h2v1h-2zM40.9 477.4h6v1h-6zM35.1 401.0h3v1h-3zM39.7 433.7h4v1h-4zM47.7 494.5h6v1h-6zM34.0 398.0h2v1h-2zM39.5 414.4h3v1h-3zM44.5 392.6h2v1h-2zM39.3 401.3h3v1h-3zM34.3 398.5h6v1h-6zM43.7 490.6h3v1h-3zM40.0 444.2h6v1h-6zM29.5 415.1h4v1h-4zM29.3 469.0h1v1h-1zM44.2 431.2h2v1h-2zM39.8 408.1h6v1h-6zM58.2 446.1h1v1h-1zM25.9 461.5h6v1h-6zM25.1 426.5h6v1h-6zM35.7 448.9h1v1h-1zM26.0 414.2h1v1h-1zM51.7 445.3h6v1h-6zM30.0 493.8h4v1h-4zM38.4 496.1h2v1h-2zM42.4 458.8h6v1h-6zM31.9 395.8h2v1h-2zM60.0 433.4h2v1h-2zM24.3 453.1h1v1h-1zM46.2 445.3h6v1h-6zM53.1 398.7h6v1h-6zM45.3 493.4h4v1h-4zM55.8 420.0h5v1h-5zM30.7 401.5h4v1h-4zM40.0 411.8h5v1h-5zM27.7 498.2h6v1h-6zM30.0 395.9h5v1h-5zM58.0 398.1h2v1h-2zM54.8 484.0h4v1h-4zM32.3 448.3h1v1h-1zM44.9 500.4h5v1h-5zM26.2 426.7h1v1h-1zM58.8 466.3h1v1h-1zM44.7 440.3h2v1h-2zM26.0 427.4h5v1h-5zM37.1 433.0h2v1h-2zM28.5 417.9h3v1h-3zM57.0 490.1h2v1h-2zM48.8 413.1h3v1h-3zM28.4 483.5h1v1h-1zM58.6 487.3h1v1h-1zM27.2 441.0h5v1h-5zM58.3 434.1h1v1h-1zM46.7 441.5h1v1h-1zM34.5 417.4h2v1h-2zM46.7 407.4h1v1h-1zM50.2 411.5h2v1h-2zM42.7 407.6h3v1h-3zM27.4 437.8h6v1h-6zM28.2 421.5h2v1h-2zM32.4 480.4h6v1h-6zM40.9 426.7h2v1h-2zM26.5 499.6h3v1h-3zM46.8 478.6h1v1h-1zM43.5 483.8h2v1h-2zM32.3 413.9h1v1h-1zM38.7 420.5h2v1h-2zM57.4 402.4h2v1h-2zM38.1 409.5h2v1h-2zM46.9 424.0h6v1h-6zM22.9 480.7h5v1h-5zM41.7 440.5h2v1h-2zM50.5 449.7h6v1h-6zM35.9 396.1h2v1h-2zM30.4 454.7h3v1h-3zM54.3 449.2h2v1h-2zM49.3 413.3h2v1h-2zM54.5 489.8h1v1h-1zM39.6 421.8h5v1h-5zM27.5 465.6h2v1h-2zM50.6 456.0h5v1h-5zM22.7 468.0h2v1h-2zM37.0 471.3h4v1h-4zM42.5 430.0h1v1h-1zM54.2 487.0h2v1h-2zM25.6 436.8h3v1h-3zM38.5 487.9h6v1h-6zM31.7 453.8h2v1h-2zM23.7 469.1h2v1h-2zM43.7 392.1h4v1h-4zM55.8 498.5h4v1h-4zM27.0 470.5h1v1h-1zM50.4 492.3h6v1h-6zM46.4 433.7h6v1h-6zM52.7 423.8h6v1h-6zM59.4 446.2h1v1h-1zM23.2 480.4h4v1h-4zM23.1 498.4h2v1h-2zM45.8 410.1h2v1h-2zM31.8 481.8h2v1h-2zM23.1 493.9h1v1h-1zM29.1 393.6h5v1h-5zM45.2 442.8h4v1h-4zM48.9 403.0h2v1h-2zM25.5 411.4h6v1h-6zM27.0 446.1h2v1h-2zM49.6 403.7h4v1h-4zM38.1 406.7h1v1h-1zM30.5 416.7h4v1h-4zM42.3 474.0h5v1h-5zM58.2 393.6h2v1h-2zM35.9 438.0h5v1h-5zM42.7 395.6h6v1h-6zM52.5 429.0h1v1h-1zM54.1 470.6h2v1h-2zM55.6 480.4h6v1h-6zM53.2 485.2h2v1h-2zM34.9 407.8h1v1h-1zM54.9 419.1h5v1h-5zM46.8 392.9h3v1h-3zM42.9 399.2h1v1h-1zM29.7 465.5h3v1h-3zM27.6 498.7h2v1h-2zM56.1 441.7h6v1h-6zM53.8 489.2h1v1h-1zM23.6 462.4h1v1h-1zM57.1 460.4h2v1h-2zM41.2 493.7h5v1h-5zM25.9 405.0h4v1h-4zM39.2 496.6h1v1h-1zM26.6 430.0h2v1h-2zM26.9 457.2h2v1h-2zM54.7 400.9h4v1h-4zM41.5 408.0h4v1h-4zM42.2 489.3h1v1h-1zM43.6 421.9h3v1h-3zM25.4 451.9h5v1h-5zM37.7 468.3h6v1h-6zM46.9 413.8h2v1h-2zM35.1 490.1h5v1h-5zM45.5 443.4h2v1h-2zM23.5 428.4h2v1h-2zM41.7 433.9h2v1h-2zM36.5 493.6h4v1h-4zM55.0 417.9h2v1h-2zM34.0 421.4h4v1h-4zM33.5 476.8h2v1h-2zM43.2 458.5h2v1h-2zM39.0 398.4h2v1h-2zM53.1 430.7h3v1h-3zM26.0 416.5h6v1h-6zM48.1 408.7h5v1h-5zM47.6 407.1h2v1h-2zM45.7 485.4h2v1h-2zM50.7 402.1h6v1h-6zM47.5 475.5h6v1h-6zM32.2 461.2h3v1h-3zM54.2 405.7h5v1h-5zM25.8 436.9h6v1h-6zM43.3 446.6h4v1h-4zM27.7 485.4h4v1h-4zM55.4 458.6h2v1h-2zM53.7 468.1h3v1h-3zM49.7 423.9h2v1h-2zM41.7 457.3h3v1h-3zM33.5 478.5h5v1h-5zM55.9 433.6h6v1h-6zM29.3 425.2h2v1h-2zM38.8 433.2h2v1h-2zM25.6 493.2h2v1h-2zM59.0 458.7h2v1h-2zM58.6 414.2h2v1h-2zM55.2 497.1h3v1h-3zM24.1 454.0h1v1h-1zM33.4 450.8h3v1h-3zM42.7 501.8h2v1h-2zM51.9 471.9h4v1h-4zM36.7 431.1h3v1h-3zM46.6 441.6h4v1h-4zM48.6 449.6h1v1h-1zM38.2 446.9h1v1h-1zM41.9 455.0h5v1h-5zM58.9 445.3h2v1h-2zM50.6 490.9h3v1h-3zM34.6 450.1h4v1h-4zM25.4 431.6h6v1h-6zM59.4 482.8h2v1h-2zM28.6 464.0h4v1h-4zM48.4 482.2h2v1h-2zM54.2 438.1h4v1h-4zM42.2 481.7h2v1h-2zM41.4 412.4h2v1h-2zM24.6 454.0h2v1h-2zM36.0 501.3h1v1h-1zM47.5 468.0h5v1h-5zM52.9 425.5h1v1h-1zM41.6 492.8h5v1h-5zM53.4 456.3h3v1h-3zM23.3 410.9h5v1h-5zM41.1 421.0h6v1h-6zM53.6 448.4h5v1h-5zM44.1 437.0h2v1h-2zM28.0 448.8h1v1h-1zM26.1 402.7h4v1h-4zM58.2 445.7h2v1h-2zM44.9 480.6h3v1h-3zM47.6 467.2h1v1h-1zM33.9 470.6h4v1h-4zM32.7 395.2h2v1h-2zM25.8 491.4h5v1h-5zM24.6 412.8h4v1h-4zM36.1 397.6h4v1h-4zM43.8 497.5h3v1h-3zM24.3 417.9h3v1h-3zM24.0 494.4h2v1h-2zM28.2 392.3h6v1h-6zM50.0 425.1h6v1h-6zM31.3 489.5h4v1h-4zM31.7 434.6h1v1h-1zM42.7 437.2h5v1h-5zM54.6 445.1h3v1h-3zM51.7 401.3h6v1h-6zM35.9 412.2h2v1h-2zM37.3 431.7h2v1h-2zM42.5 434.2h2v1h-2zM46.3 497.7h3v1h-3zM52.8 430.4h3v1h-3zM37.0 443.2h2v1h-2zM31.3 395.5h2v1h-2zM23.2 480.5h5v1h-5zM49.1 401.8h2v1h-2zM43.0 478.5h2v1h-2zM38.2 483.9h4v1h-4zM30.4 432.2h6v1h-6zM49.7 433.2h2v1h-2zM29.8 496.6h4v1h-4z" fill="#b4c4cc" opacity="0.42"/>
<path d="M29.6 486.4h4v1h-4zM58.9 501.8h1v1h-1zM54.6 456.5h4v1h-4zM42.6 436.2h2v1h-2zM29.9 487.9h4v1h-4zM48.7 401.7h1v1h-1zM50.2 476.0h2v1h-2zM47.9 454.3h1v1h-1zM22.9 470.1h2v1h-2zM52.5 417.2h1v1h-1zM48.1 403.6h1v1h-1zM55.1 480.5h4v1h-4zM29.6 470.9h2v1h-2zM31.1 405.5h1v1h-1zM32.7 436.1h3v1h-3zM50.9 489.1h3v1h-3zM58.7 411.1h1v1h-1zM48.1 464.9h2v1h-2zM56.3 394.4h2v1h-2zM31.5 485.1h3v1h-3zM56.6 402.4h2v1h-2zM26.7 492.4h2v1h-2zM50.0 396.1h1v1h-1zM46.0 439.1h1v1h-1z" fill="#3f5868" opacity="0.5"/>
<rect x="40.25" y="391.3" width="4" height="112.00" fill="#c9dae2" opacity="0.75"/>
<rect x="41.55" y="391.3" width="1.4" height="112.00" fill="#7890a0" opacity="0.4"/>
<path d="M41.4 408.8h2.2v1.5h-2.2zM41.3 495.4h2v1h-2zM41.1 470.6h2v2h-2zM41.6 455.0h2.1v1h-2.1zM41.0 477.2h2.2v1h-2.2zM41.3 456.1h2.3v1h-2.3zM41.1 395.7h2.1v1.5h-2.1zM41.3 401.1h2.1v2h-2.1zM40.8 459.4h2.4v1h-2.4zM41.3 496.2h1.7v1.5h-1.7zM41.5 473.0h2.1v2h-2.1zM41.1 466.2h1.9v1h-1.9zM41.7 412.5h1.9v1.5h-1.9zM41.7 409.6h1.6v1h-1.6zM40.9 419.1h1.9v1.5h-1.9zM41.5 401.8h1.7v1h-1.7zM41.6 469.5h1.5v1h-1.5zM41.4 392.2h2.1v1h-2.1zM40.9 430.3h2.3v1h-2.3zM41.4 418.1h2v1h-2zM41.0 475.4h1.9v1h-1.9zM41.5 442.4h2v1h-2zM41.4 423.5h1.5v1h-1.5zM41.4 490.3h1.4v1h-1.4zM40.9 441.0h2.1v1.5h-2.1zM41.2 454.3h1.8v1h-1.8zM41.9 443.2h1.4v2h-1.4zM41.9 470.6h1.5v1.5h-1.5zM41.4 445.5h1.5v1h-1.5zM41.0 427.1h2.2v1h-2.2zM41.6 460.8h2v1.5h-2zM41.4 400.2h2.1v1h-2.1zM41.0 484.1h2.2v1h-2.2zM41.4 449.5h2.4v1h-2.4zM41.3 470.8h1.5v1.5h-1.5zM41.2 462.9h1.8v1h-1.8zM41.3 452.3h1.8v1.5h-1.8zM41.5 396.1h1.6v2h-1.6zM41.1 495.7h2.3v2h-2.3zM41.3 501.3h2.1v1h-2.1zM41.2 416.7h1.5v2h-1.5zM41.5 396.0h1.5v1h-1.5zM41.1 432.6h1.6v2h-1.6zM41.1 399.5h1.5v2h-1.5zM40.7 398.5h2.3v1h-2.3zM40.9 409.7h2.3v2h-2.3zM41.2 466.0h2.2v2h-2.2zM41.5 427.3h1.5v1h-1.5zM41.2 497.6h2.4v1h-2.4zM41.3 428.1h2.1v2h-2.1zM41.2 444.6h2.4v1.5h-2.4zM41.2 450.1h2.3v1h-2.3zM41.6 473.1h1.6v1h-1.6zM41.3 432.6h2.1v2h-2.1zM41.3 418.1h1.8v1.5h-1.8z" fill="#2f4858" opacity="0.5"/>
<rect x="22.0" y="391.3" width="40.50" height="112.00" fill="none" stroke="#939ea2" stroke-width="0.85"/>
<path d="M21.4 400.6h1.8M61.3 400.6h1.8M21.4 410.0h1.8M61.3 410.0h1.8M21.4 419.3h1.8M61.3 419.3h1.8M21.4 428.6h1.8M61.3 428.6h1.8M21.4 438.0h1.8M61.3 438.0h1.8M21.4 447.3h1.8M61.3 447.3h1.8M21.4 456.6h1.8M61.3 456.6h1.8M21.4 466.0h1.8M61.3 466.0h1.8M21.4 475.3h1.8M61.3 475.3h1.8M21.4 484.6h1.8M61.3 484.6h1.8M21.4 494.0h1.8M61.3 494.0h1.8" stroke="#7a858a" stroke-width="0.6"/>
<text x="24.10" y="511.70" font-size="6.4" text-anchor="middle" textLength="12.20" lengthAdjust="spacingAndGlyphs" fill="#222">-5kb</text>
<text x="42.65" y="511.70" font-size="6.4" text-anchor="middle" textLength="12.30" lengthAdjust="spacingAndGlyphs" fill="#222">Peak</text>
<text x="60.70" y="511.70" font-size="6.4" text-anchor="middle" textLength="13.80" lengthAdjust="spacingAndGlyphs" fill="#222">+5kb</text>
<rect x="76.5" y="391.3" width="41.00" height="112.00" fill="#ecf1f3"/>
<path d="M85.8 498.5h1v1h-1zM97.8 404.0h2v1h-2zM105.6 463.3h6v1h-6zM97.2 419.4h2v1h-2zM85.3 442.2h3v1h-3zM97.6 404.1h4v1h-4zM109.9 454.2h4v1h-4zM90.8 399.7h6v1h-6zM81.8 447.1h3v1h-3zM102.8 475.2h4v1h-4zM101.5 497.6h1v1h-1zM80.5 483.3h4v1h-4zM97.2 498.5h3v1h-3zM98.4 477.2h2v1h-2zM91.1 459.9h2v1h-2zM85.7 432.7h3v1h-3zM104.5 497.1h1v1h-1zM88.0 469.7h3v1h-3zM110.8 401.3h3v1h-3zM83.7 404.3h6v1h-6zM107.6 410.1h5v1h-5zM106.6 480.4h5v1h-5zM100.9 482.7h5v1h-5zM86.2 448.3h1v1h-1zM111.3 471.3h4v1h-4zM109.0 430.6h1v1h-1zM97.9 480.3h2v1h-2zM78.1 492.1h1v1h-1zM86.6 412.9h2v1h-2zM77.6 500.8h3v1h-3zM81.0 393.9h3v1h-3zM79.7 420.1h1v1h-1zM98.1 423.6h2v1h-2zM100.5 483.9h5v1h-5zM108.7 451.0h4v1h-4zM103.8 421.3h5v1h-5zM77.3 429.4h3v1h-3zM95.5 445.0h2v1h-2zM108.3 395.5h1v1h-1zM100.6 462.8h2v1h-2zM91.1 444.1h4v1h-4zM103.4 441.1h2v1h-2zM110.3 459.0h2v1h-2zM91.0 449.9h1v1h-1zM111.1 456.7h2v1h-2zM85.1 482.0h1v1h-1zM93.4 455.3h5v1h-5zM111.9 426.3h3v1h-3zM99.0 428.4h2v1h-2zM86.6 488.3h1v1h-1zM78.5 407.7h4v1h-4zM81.9 434.0h5v1h-5zM96.5 420.5h1v1h-1zM97.7 456.1h4v1h-4zM114.9 395.4h2v1h-2zM109.7 402.1h4v1h-4zM106.5 461.5h2v1h-2zM80.3 479.0h5v1h-5zM104.2 488.0h6v1h-6zM103.0 425.2h2v1h-2zM88.5 431.6h6v1h-6zM98.7 430.3h6v1h-6zM102.9 428.5h4v1h-4zM88.7 427.3h5v1h-5zM93.4 432.1h6v1h-6zM107.9 501.6h2v1h-2zM82.0 392.4h2v1h-2zM99.9 436.3h6v1h-6zM98.1 425.0h3v1h-3zM99.3 407.5h2v1h-2zM87.7 471.8h5v1h-5zM100.8 498.2h4v1h-4zM113.1 456.0h1v1h-1zM99.8 425.2h1v1h-1zM114.7 431.0h2v1h-2zM100.5 471.2h6v1h-6zM109.8 426.8h1v1h-1zM87.4 420.0h2v1h-2zM106.7 460.8h1v1h-1zM103.8 415.7h2v1h-2zM93.6 490.2h3v1h-3zM110.0 463.1h2v1h-2zM86.1 397.9h2v1h-2zM99.9 400.4h2v1h-2zM104.9 455.1h6v1h-6zM81.6 412.4h5v1h-5zM100.2 393.3h4v1h-4zM112.2 415.0h2v1h-2zM110.1 394.6h2v1h-2zM92.0 466.6h3v1h-3zM83.5 486.9h2v1h-2zM78.4 460.7h6v1h-6zM106.6 500.7h2v1h-2zM86.4 442.8h3v1h-3zM77.8 426.6h1v1h-1zM111.8 397.8h5v1h-5zM102.6 483.8h4v1h-4zM80.4 408.8h2v1h-2zM97.1 484.4h2v1h-2zM108.1 438.3h2v1h-2zM101.6 487.2h4v1h-4zM102.0 458.0h2v1h-2zM85.6 459.9h2v1h-2zM101.3 475.9h6v1h-6zM99.1 463.5h6v1h-6zM112.4 441.6h4v1h-4zM90.7 450.1h2v1h-2zM81.9 392.6h2v1h-2zM80.5 480.9h3v1h-3zM82.6 461.0h2v1h-2zM105.1 401.5h3v1h-3zM101.4 405.1h1v1h-1zM95.1 452.9h4v1h-4zM86.7 458.5h2v1h-2zM82.1 411.2h5v1h-5zM107.1 477.6h5v1h-5zM77.9 477.5h4v1h-4zM93.8 486.5h2v1h-2zM101.2 429.6h2v1h-2zM90.2 415.0h6v1h-6zM107.9 403.5h6v1h-6zM77.3 480.7h5v1h-5zM102.0 430.3h3v1h-3zM98.5 436.9h2v1h-2zM112.1 460.8h3v1h-3zM78.0 393.9h2v1h-2zM92.2 417.1h5v1h-5zM89.3 438.6h2v1h-2zM88.3 501.4h2v1h-2zM114.5 478.9h2v1h-2zM109.1 487.6h3v1h-3zM113.4 406.7h2v1h-2zM87.7 428.2h2v1h-2zM109.4 419.2h3v1h-3zM103.0 457.6h2v1h-2zM84.7 397.4h3v1h-3zM84.0 489.1h6v1h-6zM78.6 477.0h2v1h-2zM83.6 487.0h3v1h-3zM103.1 480.5h2v1h-2zM114.2 392.6h2v1h-2zM82.6 472.9h2v1h-2zM106.4 442.9h1v1h-1zM80.2 429.1h3v1h-3zM102.2 489.0h5v1h-5zM99.9 413.8h1v1h-1zM101.2 395.8h5v1h-5zM98.5 455.1h4v1h-4zM80.5 393.8h5v1h-5zM79.3 403.8h2v1h-2zM113.1 449.6h3v1h-3zM83.9 467.3h1v1h-1zM101.1 451.8h2v1h-2zM97.7 484.3h1v1h-1zM90.6 415.4h1v1h-1zM104.9 421.7h2v1h-2zM77.4 421.3h2v1h-2zM84.5 396.9h1v1h-1zM95.9 431.6h6v1h-6zM89.6 396.2h1v1h-1zM97.1 452.2h3v1h-3zM91.3 501.3h5v1h-5zM102.2 435.7h5v1h-5zM97.5 433.9h2v1h-2zM91.7 434.1h2v1h-2zM106.9 490.7h3v1h-3zM77.0 458.7h5v1h-5zM103.4 472.2h2v1h-2zM108.5 464.8h2v1h-2zM110.0 478.1h1v1h-1zM78.6 468.2h5v1h-5zM103.1 440.4h2v1h-2zM88.0 498.9h5v1h-5zM95.5 463.1h1v1h-1zM95.9 457.0h3v1h-3zM85.6 461.1h3v1h-3zM107.6 430.8h5v1h-5zM92.3 449.7h1v1h-1zM100.8 482.8h4v1h-4zM101.6 451.6h1v1h-1zM112.3 476.1h2v1h-2zM111.7 443.8h2v1h-2zM89.1 456.7h5v1h-5zM84.9 407.3h4v1h-4zM95.0 449.4h6v1h-6zM83.0 432.0h4v1h-4zM82.9 482.3h5v1h-5zM83.4 496.2h3v1h-3zM107.6 487.4h6v1h-6zM89.5 431.5h1v1h-1zM104.9 405.2h6v1h-6zM103.8 433.0h2v1h-2zM90.5 480.3h2v1h-2zM87.8 464.7h4v1h-4zM92.0 501.7h2v1h-2zM80.8 461.7h5v1h-5zM105.1 475.4h5v1h-5zM77.0 406.0h2v1h-2zM96.3 417.8h3v1h-3zM96.9 480.1h2v1h-2zM77.5 413.8h2v1h-2zM86.3 456.8h4v1h-4zM104.4 421.9h2v1h-2zM86.6 420.9h2v1h-2zM80.2 461.8h3v1h-3zM79.9 405.8h6v1h-6zM86.8 477.8h6v1h-6zM105.1 433.1h1v1h-1zM104.9 424.2h1v1h-1zM92.9 458.7h3v1h-3zM90.3 434.1h2v1h-2zM81.5 459.9h4v1h-4zM101.3 432.7h6v1h-6zM84.0 486.6h5v1h-5zM106.6 433.5h1v1h-1zM91.9 494.9h4v1h-4zM103.6 394.4h5v1h-5zM97.3 494.8h4v1h-4zM106.5 437.4h5v1h-5zM83.4 398.8h3v1h-3zM95.2 448.1h3v1h-3zM77.1 417.3h6v1h-6zM92.2 396.1h2v1h-2zM87.2 428.0h5v1h-5zM105.6 404.6h3v1h-3zM109.4 454.6h2v1h-2zM80.8 401.3h1v1h-1zM84.2 441.8h6v1h-6zM100.2 470.1h6v1h-6zM109.1 452.4h3v1h-3zM91.6 456.1h5v1h-5zM107.4 487.9h3v1h-3zM89.1 412.6h2v1h-2zM84.1 451.1h1v1h-1zM86.3 426.2h4v1h-4zM102.3 424.6h2v1h-2zM95.9 438.0h3v1h-3zM88.9 419.0h1v1h-1zM106.8 486.2h3v1h-3zM88.5 406.1h2v1h-2zM97.4 432.9h2v1h-2zM101.3 470.0h3v1h-3zM90.8 480.1h2v1h-2zM94.3 469.6h2v1h-2zM78.6 426.3h5v1h-5zM79.3 496.6h4v1h-4zM87.9 421.8h6v1h-6zM91.9 413.7h6v1h-6zM107.6 457.0h2v1h-2zM92.0 471.9h3v1h-3zM110.5 398.0h2v1h-2zM108.9 405.3h3v1h-3zM109.9 399.5h2v1h-2zM94.9 393.2h4v1h-4zM96.7 480.0h5v1h-5zM85.1 471.1h3v1h-3zM87.2 414.9h5v1h-5zM82.3 477.4h6v1h-6zM84.1 402.7h5v1h-5zM84.7 401.7h1v1h-1zM93.1 464.3h1v1h-1zM103.9 440.4h2v1h-2zM82.6 397.9h3v1h-3zM81.5 409.3h5v1h-5zM87.8 417.3h3v1h-3zM105.8 469.6h4v1h-4zM82.3 492.3h5v1h-5zM97.9 415.3h2v1h-2zM99.7 417.1h6v1h-6zM89.7 408.8h1v1h-1zM85.4 451.8h2v1h-2zM84.6 408.0h1v1h-1zM93.3 466.6h2v1h-2zM78.3 430.4h1v1h-1zM109.5 501.6h5v1h-5zM96.0 423.7h4v1h-4zM77.5 477.9h2v1h-2zM84.7 422.5h1v1h-1zM99.8 451.3h2v1h-2zM84.7 443.5h1v1h-1zM107.5 484.9h6v1h-6zM99.0 424.7h2v1h-2zM98.6 498.4h4v1h-4zM84.3 408.4h2v1h-2zM78.7 428.4h2v1h-2zM94.8 428.0h3v1h-3zM83.7 478.6h2v1h-2zM107.9 471.5h2v1h-2zM80.4 452.5h3v1h-3zM82.4 435.0h6v1h-6zM78.1 448.3h1v1h-1zM93.1 468.5h1v1h-1zM98.4 430.6h3v1h-3zM104.7 472.7h2v1h-2zM83.3 495.5h2v1h-2zM77.0 462.8h2v1h-2zM93.3 408.1h6v1h-6zM81.0 418.0h1v1h-1zM95.9 450.8h2v1h-2zM89.6 418.8h1v1h-1zM96.3 447.5h4v1h-4zM113.3 422.9h2v1h-2zM84.2 405.6h4v1h-4zM104.7 450.6h2v1h-2zM111.0 393.3h2v1h-2zM96.0 478.9h1v1h-1zM84.5 473.7h4v1h-4zM106.4 408.6h1v1h-1zM115.1 438.4h2v1h-2zM95.7 423.8h4v1h-4zM80.1 455.5h1v1h-1zM86.2 477.2h2v1h-2zM102.7 398.5h4v1h-4zM79.6 428.8h2v1h-2zM78.4 459.9h1v1h-1zM83.0 425.1h5v1h-5zM108.7 442.6h1v1h-1zM77.2 495.4h2v1h-2zM106.2 395.2h3v1h-3zM85.2 472.6h6v1h-6zM82.7 479.7h5v1h-5zM81.6 413.5h6v1h-6zM103.1 469.8h2v1h-2zM116.1 479.0h1v1h-1zM78.2 449.6h3v1h-3zM111.7 474.6h2v1h-2zM79.0 487.3h5v1h-5zM110.1 478.4h1v1h-1zM102.4 498.8h1v1h-1zM82.7 498.2h4v1h-4zM104.1 446.4h5v1h-5zM108.6 495.1h2v1h-2zM106.2 483.5h1v1h-1zM100.2 409.8h6v1h-6zM107.7 478.2h3v1h-3zM94.4 474.2h6v1h-6zM96.2 496.0h4v1h-4zM79.5 478.1h1v1h-1zM85.5 484.2h6v1h-6zM86.0 456.5h2v1h-2zM85.4 446.0h4v1h-4zM108.3 397.1h5v1h-5zM104.5 479.2h5v1h-5zM104.2 429.4h5v1h-5zM92.0 401.2h3v1h-3zM100.6 479.0h5v1h-5zM97.9 483.9h5v1h-5zM87.3 424.8h6v1h-6zM77.4 403.8h4v1h-4zM93.2 437.0h6v1h-6zM94.4 428.6h2v1h-2zM80.0 435.1h2v1h-2zM100.0 423.9h3v1h-3zM115.9 412.3h1v1h-1zM92.0 451.0h3v1h-3zM81.4 467.0h2v1h-2zM91.6 490.6h1v1h-1zM87.0 497.3h3v1h-3zM83.2 430.4h2v1h-2zM97.8 490.3h6v1h-6z" fill="#b4c4cc" opacity="0.385"/>
<path d="M88.3 426.8h3v1h-3zM105.6 458.6h4v1h-4zM92.2 392.6h1v1h-1zM80.9 418.7h1v1h-1zM106.3 419.3h4v1h-4zM102.8 500.3h2v1h-2zM101.0 406.5h4v1h-4zM102.4 400.0h2v1h-2zM88.9 421.0h4v1h-4zM90.7 464.6h2v1h-2zM111.9 480.9h3v1h-3zM112.5 446.6h1v1h-1zM103.4 393.6h2v1h-2zM98.8 441.0h1v1h-1zM109.2 472.1h4v1h-4zM78.1 427.5h3v1h-3zM77.1 495.0h1v1h-1zM82.3 456.5h2v1h-2zM95.3 501.7h4v1h-4zM106.2 462.4h1v1h-1zM100.9 418.3h2v1h-2z" fill="#3f5868" opacity="0.45"/>
<rect x="95.00" y="391.3" width="4" height="112.00" fill="#cddde4" opacity="0.8"/>
<rect x="96.30" y="391.3" width="1.4" height="112.00" fill="#8aa2b0" opacity="0.4"/>
<path d="M96.1 394.4h2v2h-2zM96.2 480.3h1.8v2h-1.8zM96.0 499.0h1.7v1.5h-1.7zM96.2 483.5h1.5v1h-1.5zM95.7 429.9h2v1h-2zM96.1 473.0h1.4v1.5h-1.4zM96.3 456.3h2.1v1.5h-2.1zM95.8 412.2h2.2v2h-2.2zM96.3 427.0h1.4v1h-1.4zM95.9 431.5h1.9v2h-1.9zM96.6 414.1h1.5v2h-1.5zM95.9 436.6h1.7v1.5h-1.7zM96.4 422.3h1.2v2h-1.2zM95.9 421.9h2v2h-2zM96.2 423.4h1.7v1.5h-1.7zM96.2 392.9h1.6v1.5h-1.6zM96.0 495.2h1.6v1h-1.6zM95.6 488.1h2.1v2h-2.1zM96.3 470.0h2v1h-2zM96.2 498.2h1.8v1h-1.8zM96.4 435.1h2v1.5h-2zM96.1 446.7h1.6v1h-1.6zM96.2 407.4h1.9v2h-1.9zM95.8 490.9h1.9v1.5h-1.9zM95.7 493.5h1.9v1h-1.9zM96.0 465.2h2.1v2h-2.1zM96.5 471.9h1.4v1h-1.4zM96.5 465.6h1.4v1h-1.4zM96.1 490.6h2.1v2h-2.1zM96.1 406.1h2.1v2h-2.1zM95.7 421.9h1.8v1.5h-1.8zM95.9 491.2h1.8v1.5h-1.8zM96.3 499.0h1.9v1.5h-1.9zM96.1 448.6h1.2v1.5h-1.2zM96.5 442.0h1.4v2h-1.4z" fill="#3f5868" opacity="0.4"/>
<rect x="76.5" y="391.3" width="41.00" height="112.00" fill="none" stroke="#939ea2" stroke-width="0.85"/>
<path d="M75.9 400.6h1.8M116.3 400.6h1.8M75.9 410.0h1.8M116.3 410.0h1.8M75.9 419.3h1.8M116.3 419.3h1.8M75.9 428.6h1.8M116.3 428.6h1.8M75.9 438.0h1.8M116.3 438.0h1.8M75.9 447.3h1.8M116.3 447.3h1.8M75.9 456.6h1.8M116.3 456.6h1.8M75.9 466.0h1.8M116.3 466.0h1.8M75.9 475.3h1.8M116.3 475.3h1.8M75.9 484.6h1.8M116.3 484.6h1.8M75.9 494.0h1.8M116.3 494.0h1.8" stroke="#7a858a" stroke-width="0.6"/>
<text x="78.60" y="511.70" font-size="6.4" text-anchor="middle" textLength="12.20" lengthAdjust="spacingAndGlyphs" fill="#222">-5kb</text>
<text x="97.15" y="511.70" font-size="6.4" text-anchor="middle" textLength="12.30" lengthAdjust="spacingAndGlyphs" fill="#222">Peak</text>
<text x="115.20" y="511.70" font-size="6.4" text-anchor="middle" textLength="13.80" lengthAdjust="spacingAndGlyphs" fill="#222">+5kb</text>
<rect x="132.0" y="391.3" width="40.50" height="112.00" fill="#e2ebed"/>
<path d="M151.4 499.5h2v1h-2zM152.2 480.7h4v1h-4zM153.2 443.2h1v1h-1zM140.6 461.1h3v1h-3zM168.9 450.2h2v1h-2zM140.6 479.2h2v1h-2zM143.0 499.1h2v1h-2zM151.6 395.0h4v1h-4zM138.2 481.1h6v1h-6zM148.4 398.6h2v1h-2zM141.9 401.5h5v1h-5zM147.9 448.1h1v1h-1zM147.0 465.2h4v1h-4zM163.6 497.7h1v1h-1zM157.2 419.4h2v1h-2zM149.0 406.4h5v1h-5zM168.1 488.8h3v1h-3zM148.6 429.3h4v1h-4zM136.5 409.9h2v1h-2zM138.9 472.9h6v1h-6zM132.9 477.4h4v1h-4zM156.2 413.3h6v1h-6zM139.9 475.0h2v1h-2zM165.3 474.1h6v1h-6zM168.1 471.4h1v1h-1zM132.9 430.7h5v1h-5zM132.8 486.9h3v1h-3zM158.4 451.0h5v1h-5zM145.1 409.7h4v1h-4zM143.3 430.7h5v1h-5zM134.0 410.9h1v1h-1zM148.3 394.8h2v1h-2zM148.2 402.9h5v1h-5zM165.7 431.8h1v1h-1zM150.2 400.7h3v1h-3zM162.4 444.2h2v1h-2zM165.4 485.4h6v1h-6zM152.5 447.7h4v1h-4zM145.7 464.1h2v1h-2zM159.2 496.0h2v1h-2zM148.0 472.5h4v1h-4zM138.2 490.6h3v1h-3zM137.2 393.0h3v1h-3zM159.9 450.3h2v1h-2zM132.7 483.3h1v1h-1zM135.2 477.8h6v1h-6zM166.0 450.6h2v1h-2zM165.7 429.0h1v1h-1zM164.1 445.1h4v1h-4zM163.9 392.4h5v1h-5zM166.6 433.8h2v1h-2zM136.1 488.5h1v1h-1zM149.0 454.8h2v1h-2zM156.2 492.5h5v1h-5zM134.6 471.6h6v1h-6zM165.8 410.3h1v1h-1zM155.8 470.4h5v1h-5zM159.5 443.4h2v1h-2zM154.7 404.7h3v1h-3zM154.4 398.5h3v1h-3zM162.6 489.8h2v1h-2zM147.6 478.6h1v1h-1zM139.9 473.1h6v1h-6zM133.6 402.0h5v1h-5zM162.7 395.8h2v1h-2zM147.9 495.5h1v1h-1zM161.7 396.5h2v1h-2zM155.2 493.1h4v1h-4zM133.9 443.3h2v1h-2zM160.2 403.1h3v1h-3zM135.7 407.4h5v1h-5zM138.1 448.1h4v1h-4zM152.1 497.2h1v1h-1zM166.1 391.8h3v1h-3zM133.3 463.2h6v1h-6zM151.8 460.0h1v1h-1zM160.7 450.9h4v1h-4zM134.2 451.8h5v1h-5zM149.6 465.6h2v1h-2zM159.0 394.3h4v1h-4zM149.5 484.0h6v1h-6zM136.9 463.4h2v1h-2zM157.8 500.2h2v1h-2zM167.4 451.9h4v1h-4zM158.0 401.3h2v1h-2zM164.5 485.3h2v1h-2zM135.8 421.8h1v1h-1zM161.2 407.9h2v1h-2zM153.0 428.6h4v1h-4zM132.6 399.9h2v1h-2zM158.9 476.3h1v1h-1zM152.0 441.9h2v1h-2zM166.4 455.0h3v1h-3zM167.0 472.5h2v1h-2zM135.0 394.0h6v1h-6zM160.2 395.0h1v1h-1zM137.0 492.2h5v1h-5zM162.1 411.5h6v1h-6zM149.0 469.6h2v1h-2zM162.2 485.0h2v1h-2zM144.9 402.1h1v1h-1zM138.3 496.1h3v1h-3zM164.8 475.8h5v1h-5zM157.8 474.5h6v1h-6zM142.7 419.2h2v1h-2zM152.1 429.2h3v1h-3zM164.1 493.3h4v1h-4zM132.4 476.7h2v1h-2zM166.0 479.3h2v1h-2zM138.1 395.5h4v1h-4zM142.9 460.8h6v1h-6zM134.7 405.1h2v1h-2zM138.2 450.2h3v1h-3zM155.5 418.6h5v1h-5zM166.7 448.9h3v1h-3zM165.1 401.5h6v1h-6zM140.6 475.0h2v1h-2zM160.1 439.2h1v1h-1zM170.8 411.1h1v1h-1zM155.0 410.0h3v1h-3zM142.2 434.8h5v1h-5zM142.0 394.7h2v1h-2zM162.5 462.4h5v1h-5zM166.9 462.6h4v1h-4zM137.4 399.3h4v1h-4zM159.3 425.2h1v1h-1zM160.7 450.7h1v1h-1zM146.4 407.3h1v1h-1zM160.4 463.2h1v1h-1zM157.0 421.8h4v1h-4zM147.6 490.9h6v1h-6zM143.8 436.7h2v1h-2zM138.3 500.8h5v1h-5zM165.8 442.5h1v1h-1zM163.8 395.0h2v1h-2zM158.9 403.4h6v1h-6zM162.7 465.6h2v1h-2zM156.0 485.0h2v1h-2zM167.5 409.0h1v1h-1zM155.4 426.0h5v1h-5zM139.1 407.5h2v1h-2zM164.9 397.9h1v1h-1zM157.0 454.5h2v1h-2zM134.7 424.3h2v1h-2zM164.6 406.0h2v1h-2zM146.1 471.4h2v1h-2zM146.3 473.0h2v1h-2zM146.2 449.3h2v1h-2zM166.2 492.0h1v1h-1zM143.1 433.6h2v1h-2zM133.3 463.2h6v1h-6zM161.2 485.8h2v1h-2zM156.6 443.7h2v1h-2zM132.6 402.6h6v1h-6zM163.2 417.5h3v1h-3zM150.7 445.4h1v1h-1zM150.2 470.2h1v1h-1zM148.0 445.1h1v1h-1zM166.8 438.6h2v1h-2zM136.9 399.1h1v1h-1zM149.1 418.0h2v1h-2zM153.3 399.5h2v1h-2zM150.6 415.4h2v1h-2zM163.5 497.9h4v1h-4zM145.1 398.2h6v1h-6zM151.7 418.1h3v1h-3zM151.6 426.5h2v1h-2zM135.5 420.9h1v1h-1zM161.3 406.1h3v1h-3zM147.7 426.7h6v1h-6zM142.9 478.7h2v1h-2zM137.0 500.3h1v1h-1zM141.8 447.9h3v1h-3zM155.1 448.4h5v1h-5zM157.3 467.4h1v1h-1zM153.2 417.4h1v1h-1zM156.8 407.0h3v1h-3zM137.8 480.3h2v1h-2zM160.4 486.2h2v1h-2zM157.2 463.5h2v1h-2zM140.2 457.6h5v1h-5zM135.2 415.6h5v1h-5zM143.4 499.3h1v1h-1zM138.8 474.3h6v1h-6zM139.5 398.9h4v1h-4zM158.7 393.0h1v1h-1zM140.9 444.3h3v1h-3zM162.9 473.6h4v1h-4zM166.9 460.2h5v1h-5zM139.6 443.5h2v1h-2zM170.2 442.0h2v1h-2zM169.3 475.0h2v1h-2zM148.1 429.5h1v1h-1zM157.0 454.4h5v1h-5zM137.8 483.0h6v1h-6zM138.3 481.2h1v1h-1zM148.6 453.6h4v1h-4zM145.8 420.4h5v1h-5zM136.6 497.6h4v1h-4zM166.8 501.8h2v1h-2zM154.3 489.5h2v1h-2zM138.8 438.3h1v1h-1zM155.1 441.5h1v1h-1zM141.6 454.5h3v1h-3zM164.9 497.2h2v1h-2zM169.0 470.2h2v1h-2zM134.3 492.6h1v1h-1zM169.9 491.4h1v1h-1zM143.5 498.3h1v1h-1zM137.0 399.7h6v1h-6zM163.6 480.7h3v1h-3zM156.9 456.0h5v1h-5zM141.3 464.3h3v1h-3zM156.7 432.4h4v1h-4zM166.8 412.9h4v1h-4zM155.3 419.6h1v1h-1zM139.0 468.0h3v1h-3zM156.7 437.1h2v1h-2zM141.5 482.4h4v1h-4zM158.2 460.5h5v1h-5zM140.1 427.8h3v1h-3zM149.6 429.1h1v1h-1zM156.3 463.1h6v1h-6zM149.9 427.4h2v1h-2zM169.4 401.4h2v1h-2zM152.9 435.9h2v1h-2zM166.4 417.3h2v1h-2zM157.0 433.6h5v1h-5zM160.6 405.7h3v1h-3zM156.5 488.6h2v1h-2zM133.7 406.6h1v1h-1zM155.0 463.0h3v1h-3zM153.8 495.6h3v1h-3zM151.8 429.7h4v1h-4zM147.1 411.0h6v1h-6zM157.9 466.3h3v1h-3zM137.8 432.4h6v1h-6zM159.1 483.8h5v1h-5zM139.4 419.0h5v1h-5zM167.0 413.3h4v1h-4zM161.1 463.2h6v1h-6zM163.4 458.0h2v1h-2zM154.9 476.3h6v1h-6zM140.0 393.3h1v1h-1zM147.1 453.5h4v1h-4zM135.0 392.1h1v1h-1zM135.6 419.1h2v1h-2zM141.0 420.9h2v1h-2zM159.7 417.7h5v1h-5zM136.7 494.8h1v1h-1zM137.9 428.6h2v1h-2zM144.8 423.8h4v1h-4zM149.0 420.1h5v1h-5zM168.4 420.7h1v1h-1zM135.8 460.5h2v1h-2zM166.3 406.1h5v1h-5zM157.0 429.3h6v1h-6zM137.5 458.4h3v1h-3zM161.2 474.5h4v1h-4zM155.8 434.1h6v1h-6zM132.9 426.0h5v1h-5zM163.5 402.0h1v1h-1zM137.8 479.2h4v1h-4zM162.0 479.0h3v1h-3zM155.9 482.7h2v1h-2zM153.1 406.9h3v1h-3zM167.7 415.4h2v1h-2zM153.8 418.2h6v1h-6zM151.3 449.2h2v1h-2zM159.8 395.0h2v1h-2zM133.1 448.2h5v1h-5zM156.5 467.9h2v1h-2zM139.2 411.9h4v1h-4zM170.0 490.8h2v1h-2zM138.3 416.6h2v1h-2zM143.8 469.3h6v1h-6zM165.8 479.3h5v1h-5zM147.3 449.3h2v1h-2zM134.4 458.9h2v1h-2zM143.7 427.5h1v1h-1zM138.0 494.5h2v1h-2zM149.8 413.4h2v1h-2zM162.8 470.9h1v1h-1zM144.6 470.7h6v1h-6zM143.5 399.9h4v1h-4zM134.7 434.3h5v1h-5zM134.8 480.3h3v1h-3zM140.3 426.7h4v1h-4zM166.9 437.8h3v1h-3zM145.3 440.9h5v1h-5zM164.9 459.9h5v1h-5zM162.2 401.3h1v1h-1zM137.3 486.3h2v1h-2zM136.9 443.0h4v1h-4zM133.6 464.2h4v1h-4zM157.7 476.7h6v1h-6zM151.5 407.6h3v1h-3zM135.6 498.0h5v1h-5zM133.5 492.0h1v1h-1zM137.0 403.4h5v1h-5zM144.6 482.0h1v1h-1zM162.2 410.3h4v1h-4zM147.0 480.7h2v1h-2zM144.1 405.2h5v1h-5zM149.7 452.5h2v1h-2zM142.4 473.4h1v1h-1zM163.9 443.8h5v1h-5zM155.2 423.5h2v1h-2zM146.8 413.9h3v1h-3zM136.7 413.0h6v1h-6zM136.2 481.4h3v1h-3zM162.7 394.7h2v1h-2zM149.1 501.0h4v1h-4zM169.3 459.5h2v1h-2zM138.8 473.8h2v1h-2zM158.2 464.4h2v1h-2zM164.3 486.9h1v1h-1zM144.6 478.5h4v1h-4zM155.3 490.9h2v1h-2zM140.9 426.7h2v1h-2zM168.3 424.9h2v1h-2zM145.0 433.4h4v1h-4zM169.0 393.0h1v1h-1zM146.6 461.8h5v1h-5zM159.4 418.6h4v1h-4zM160.4 501.0h5v1h-5zM138.3 408.2h5v1h-5zM141.9 464.0h2v1h-2zM148.4 425.5h3v1h-3zM152.7 428.7h2v1h-2zM134.2 490.5h6v1h-6zM164.4 488.6h2v1h-2zM164.8 497.0h2v1h-2zM155.2 463.6h6v1h-6zM163.2 484.6h1v1h-1zM167.2 443.5h3v1h-3zM161.2 487.6h3v1h-3zM159.9 431.4h2v1h-2zM136.2 427.7h1v1h-1zM167.4 394.4h1v1h-1zM135.0 399.1h2v1h-2zM134.1 486.5h5v1h-5zM146.3 480.2h5v1h-5zM143.7 461.4h3v1h-3zM149.2 490.9h4v1h-4zM161.6 473.2h5v1h-5zM154.0 403.3h2v1h-2zM168.1 490.5h4v1h-4zM151.1 437.6h1v1h-1zM140.2 414.6h5v1h-5zM145.3 497.4h4v1h-4zM162.4 463.9h5v1h-5zM133.6 456.8h4v1h-4zM133.2 406.1h3v1h-3zM139.5 423.7h1v1h-1zM160.6 431.0h4v1h-4zM162.4 458.3h2v1h-2zM140.8 489.1h1v1h-1zM147.4 433.6h5v1h-5zM135.0 437.6h5v1h-5zM143.7 427.9h2v1h-2zM166.2 445.8h5v1h-5zM149.3 465.4h6v1h-6zM155.2 433.3h2v1h-2zM151.3 479.4h6v1h-6zM133.0 463.3h2v1h-2zM136.1 454.4h6v1h-6zM168.2 414.5h1v1h-1zM167.4 485.6h1v1h-1zM163.7 497.0h5v1h-5zM148.9 408.7h4v1h-4zM137.7 461.3h2v1h-2zM133.3 406.6h6v1h-6zM141.3 422.1h5v1h-5zM140.3 461.0h3v1h-3zM135.9 392.2h1v1h-1zM166.5 409.9h2v1h-2zM140.3 419.8h6v1h-6zM161.8 417.2h4v1h-4zM166.6 413.9h2v1h-2zM158.2 403.7h4v1h-4zM158.6 470.0h3v1h-3zM164.0 438.5h2v1h-2zM134.2 495.8h4v1h-4zM164.4 487.5h3v1h-3zM151.3 437.4h6v1h-6zM149.7 462.1h2v1h-2zM144.4 476.2h4v1h-4zM170.1 416.7h2v1h-2zM146.2 459.9h6v1h-6zM144.1 461.7h2v1h-2zM135.4 412.9h3v1h-3zM137.0 424.3h2v1h-2zM150.0 440.2h3v1h-3zM149.8 495.9h4v1h-4zM151.4 443.7h3v1h-3z" fill="#b8c8cf" opacity="0.385"/>
<path d="M137.5 410.3h4v1h-4zM146.0 433.9h1v1h-1zM148.0 430.7h1v1h-1zM144.7 469.4h3v1h-3zM156.1 443.0h3v1h-3zM152.0 396.2h4v1h-4zM145.4 461.1h3v1h-3zM167.4 460.0h3v1h-3zM153.9 464.8h1v1h-1zM169.2 407.6h1v1h-1zM158.0 435.6h2v1h-2zM154.7 466.4h2v1h-2zM162.7 408.9h2v1h-2zM146.8 411.7h4v1h-4zM137.6 491.4h1v1h-1zM156.3 480.6h1v1h-1zM150.6 431.7h3v1h-3z" fill="#3f5868" opacity="0.45"/>
<rect x="150.25" y="391.3" width="4" height="112.00" fill="#c8dadf" opacity="0.8"/>
<rect x="151.55" y="391.3" width="1.4" height="112.00" fill="#9cb4c0" opacity="0.45"/>
<path d="M151.3 430.2h1.9v1.5h-1.9zM151.3 444.2h1.7v2h-1.7zM151.7 453.9h1.7v1h-1.7zM151.4 434.3h1.5v1h-1.5zM151.8 428.2h1.4v1h-1.4zM150.9 433.2h2v1h-2zM151.3 480.4h1.2v1h-1.2zM151.3 439.7h1.4v1h-1.4zM151.6 452.3h2v1h-2zM151.6 408.0h1.8v1h-1.8zM151.3 486.2h1.8v1h-1.8zM151.1 469.7h1.7v1h-1.7zM150.9 395.8h2v1h-2zM151.8 427.7h1.2v1h-1.2zM151.3 409.5h1.3v1.5h-1.3zM151.3 498.4h1.7v2h-1.7zM151.5 436.7h1.5v2h-1.5zM151.4 501.2h2v1h-2zM151.8 490.0h1.3v1h-1.3zM151.8 460.2h1.6v2h-1.6zM151.0 489.1h1.6v2h-1.6zM151.2 457.8h1.9v2h-1.9zM151.1 407.9h1.6v1h-1.6zM151.2 467.5h1.6v1h-1.6zM151.6 493.3h1.6v1h-1.6z" fill="#4a6474" opacity="0.35"/>
<rect x="132.0" y="391.3" width="40.50" height="112.00" fill="none" stroke="#939ea2" stroke-width="0.85"/>
<path d="M131.4 400.6h1.8M171.3 400.6h1.8M131.4 410.0h1.8M171.3 410.0h1.8M131.4 419.3h1.8M171.3 419.3h1.8M131.4 428.6h1.8M171.3 428.6h1.8M131.4 438.0h1.8M171.3 438.0h1.8M131.4 447.3h1.8M171.3 447.3h1.8M131.4 456.6h1.8M171.3 456.6h1.8M131.4 466.0h1.8M171.3 466.0h1.8M131.4 475.3h1.8M171.3 475.3h1.8M131.4 484.6h1.8M171.3 484.6h1.8M131.4 494.0h1.8M171.3 494.0h1.8" stroke="#7a858a" stroke-width="0.6"/>
<text x="134.10" y="511.70" font-size="6.4" text-anchor="middle" textLength="12.20" lengthAdjust="spacingAndGlyphs" fill="#222">-5kb</text>
<text x="152.65" y="511.70" font-size="6.4" text-anchor="middle" textLength="12.30" lengthAdjust="spacingAndGlyphs" fill="#222">Peak</text>
<text x="170.70" y="511.70" font-size="6.4" text-anchor="middle" textLength="13.80" lengthAdjust="spacingAndGlyphs" fill="#222">+5kb</text>
<rect x="187.0" y="391.3" width="41.00" height="112.00" fill="#dfe7ea"/>
<path d="M214.8 437.3h6v1h-6zM194.0 433.6h5v1h-5zM201.8 497.6h5v1h-5zM221.1 459.5h4v1h-4zM221.7 412.7h2v1h-2zM217.7 478.6h2v1h-2zM187.4 455.6h6v1h-6zM199.5 475.2h2v1h-2zM218.1 428.8h2v1h-2zM218.5 445.6h4v1h-4zM220.3 500.8h2v1h-2zM222.1 475.2h3v1h-3zM203.7 400.7h2v1h-2zM221.2 456.4h3v1h-3zM213.7 392.1h3v1h-3zM215.6 403.0h4v1h-4zM221.0 458.5h2v1h-2zM203.8 471.8h3v1h-3zM190.4 441.2h2v1h-2zM191.0 446.1h2v1h-2zM197.9 398.8h5v1h-5zM198.0 432.5h2v1h-2zM221.6 501.8h4v1h-4zM216.1 468.1h3v1h-3zM214.2 442.0h5v1h-5zM198.2 467.1h6v1h-6zM204.0 404.7h5v1h-5zM216.9 481.2h5v1h-5zM189.4 500.7h2v1h-2zM214.1 495.1h4v1h-4zM211.8 433.2h2v1h-2zM197.3 447.5h2v1h-2zM205.2 401.2h3v1h-3zM214.5 489.1h6v1h-6zM205.1 443.4h2v1h-2zM190.1 423.7h5v1h-5zM219.4 412.1h6v1h-6zM212.1 475.3h2v1h-2zM193.9 446.8h5v1h-5zM193.6 491.7h2v1h-2zM205.5 478.4h2v1h-2zM197.3 398.3h2v1h-2zM222.1 459.3h2v1h-2zM189.5 433.9h6v1h-6zM218.4 440.6h4v1h-4zM203.7 443.4h1v1h-1zM213.5 473.8h2v1h-2zM212.4 444.7h2v1h-2zM222.3 493.5h4v1h-4zM207.3 404.8h2v1h-2zM202.9 410.1h2v1h-2zM221.8 443.4h2v1h-2zM208.9 402.5h2v1h-2zM215.8 456.7h3v1h-3zM200.5 402.1h2v1h-2zM223.2 500.0h3v1h-3zM206.4 422.8h2v1h-2zM202.1 452.0h2v1h-2zM216.9 426.7h2v1h-2zM191.9 423.0h3v1h-3zM200.4 477.5h5v1h-5zM211.9 444.7h5v1h-5zM194.3 497.4h5v1h-5zM211.0 431.4h5v1h-5zM194.2 424.0h4v1h-4zM195.9 499.0h5v1h-5zM203.9 414.7h1v1h-1zM195.4 447.6h1v1h-1zM217.0 417.8h1v1h-1zM214.3 493.9h1v1h-1zM213.3 470.3h2v1h-2zM197.8 499.2h1v1h-1zM225.5 426.2h1v1h-1zM212.5 448.5h4v1h-4zM222.0 456.7h2v1h-2zM193.5 454.9h6v1h-6zM222.1 416.3h2v1h-2zM223.1 421.1h2v1h-2zM205.6 427.3h5v1h-5zM202.4 468.6h3v1h-3zM210.8 468.6h1v1h-1zM191.4 474.0h3v1h-3zM207.1 438.8h2v1h-2zM210.1 496.9h6v1h-6zM226.4 460.4h1v1h-1zM200.9 432.6h5v1h-5zM208.5 431.2h2v1h-2zM197.1 407.2h2v1h-2zM193.1 403.8h2v1h-2zM214.8 409.3h6v1h-6zM207.9 402.2h4v1h-4zM202.7 451.6h3v1h-3zM216.0 417.7h1v1h-1zM196.4 475.2h2v1h-2zM221.7 431.1h2v1h-2zM190.5 444.3h6v1h-6zM203.4 444.2h3v1h-3zM196.1 465.6h1v1h-1zM189.0 500.7h6v1h-6zM222.8 458.3h2v1h-2zM194.9 420.3h2v1h-2zM198.7 401.4h6v1h-6zM190.1 474.9h5v1h-5zM207.5 495.0h1v1h-1zM213.6 410.6h2v1h-2zM199.4 492.1h3v1h-3zM205.5 494.1h5v1h-5zM189.0 405.1h4v1h-4zM212.6 473.5h6v1h-6zM208.8 398.0h6v1h-6zM188.7 396.9h4v1h-4zM214.3 470.7h4v1h-4zM202.0 416.9h4v1h-4zM203.9 464.6h2v1h-2zM196.8 443.2h1v1h-1zM195.2 435.6h5v1h-5zM203.0 450.8h2v1h-2zM225.5 428.6h2v1h-2zM212.7 428.1h2v1h-2zM203.1 467.6h1v1h-1zM189.9 401.0h3v1h-3zM208.7 501.0h1v1h-1zM190.8 447.1h5v1h-5zM196.8 402.6h3v1h-3zM208.3 441.0h3v1h-3zM224.1 481.5h1v1h-1zM192.0 399.0h3v1h-3zM192.1 467.3h3v1h-3zM193.8 500.3h5v1h-5zM188.9 470.6h5v1h-5zM189.9 480.1h6v1h-6zM189.4 456.0h2v1h-2zM196.8 410.4h5v1h-5zM199.9 470.2h6v1h-6zM193.5 439.9h2v1h-2zM187.4 401.7h2v1h-2zM202.5 417.6h5v1h-5zM212.6 420.4h2v1h-2zM191.8 433.6h1v1h-1zM195.1 408.5h5v1h-5zM199.5 488.2h6v1h-6zM198.9 491.9h4v1h-4zM206.5 494.8h6v1h-6zM223.6 462.7h3v1h-3zM206.8 413.3h6v1h-6zM194.7 471.9h4v1h-4zM201.7 448.0h2v1h-2zM223.3 460.0h4v1h-4zM205.1 447.2h5v1h-5zM203.4 457.6h3v1h-3zM208.3 422.0h1v1h-1zM208.9 440.8h6v1h-6zM207.2 419.1h2v1h-2zM204.9 433.0h6v1h-6zM198.6 483.2h2v1h-2zM219.6 444.9h1v1h-1zM211.4 472.1h5v1h-5zM199.6 425.4h6v1h-6zM190.6 431.4h2v1h-2zM194.6 417.4h5v1h-5zM202.2 472.8h6v1h-6zM211.7 468.2h2v1h-2zM208.4 429.3h2v1h-2zM188.5 497.8h3v1h-3zM219.7 487.5h4v1h-4zM218.2 416.9h2v1h-2zM205.4 471.0h2v1h-2zM213.4 445.4h5v1h-5zM194.9 490.6h2v1h-2zM215.4 490.4h1v1h-1zM201.8 497.3h6v1h-6zM203.5 426.3h2v1h-2zM193.8 409.0h5v1h-5zM189.6 466.1h2v1h-2zM200.0 485.6h2v1h-2zM204.1 412.8h1v1h-1zM214.3 447.8h6v1h-6zM222.9 440.1h1v1h-1zM224.5 500.7h3v1h-3zM202.7 412.1h1v1h-1zM187.7 432.6h6v1h-6zM198.3 405.6h6v1h-6zM211.9 412.4h1v1h-1zM210.1 454.8h1v1h-1zM198.6 413.7h2v1h-2zM216.5 418.2h6v1h-6zM209.2 455.0h3v1h-3zM192.0 454.7h2v1h-2zM210.8 458.1h4v1h-4zM204.1 417.8h4v1h-4zM198.9 437.6h3v1h-3zM187.9 416.8h2v1h-2zM225.2 418.1h2v1h-2zM201.8 428.4h6v1h-6zM201.8 395.8h2v1h-2zM206.2 425.1h6v1h-6zM216.3 444.5h3v1h-3zM189.4 433.6h1v1h-1zM210.3 410.9h2v1h-2zM218.0 452.1h4v1h-4zM193.3 497.2h3v1h-3zM216.4 474.2h2v1h-2zM199.5 487.8h1v1h-1zM187.4 401.9h5v1h-5zM194.5 392.1h1v1h-1zM206.3 423.5h3v1h-3zM199.6 432.3h5v1h-5zM193.3 448.0h5v1h-5zM191.6 423.6h3v1h-3zM194.9 488.5h4v1h-4zM219.9 458.1h2v1h-2zM207.8 423.0h4v1h-4zM211.7 470.7h1v1h-1zM191.2 464.1h6v1h-6zM210.7 406.8h4v1h-4zM217.2 429.0h5v1h-5zM188.1 490.8h3v1h-3zM202.7 409.5h2v1h-2zM194.3 450.3h5v1h-5zM202.9 417.3h2v1h-2zM211.5 409.8h6v1h-6zM218.6 398.0h2v1h-2zM195.5 497.6h3v1h-3zM201.5 396.3h5v1h-5zM204.5 413.4h4v1h-4zM189.9 410.9h2v1h-2zM197.2 462.8h2v1h-2zM214.3 476.7h2v1h-2zM205.3 426.3h5v1h-5zM206.7 470.7h4v1h-4zM209.1 406.5h5v1h-5zM198.9 413.8h2v1h-2zM216.0 495.4h4v1h-4zM194.9 440.5h6v1h-6zM198.3 405.5h6v1h-6zM199.8 441.1h6v1h-6zM218.9 463.7h2v1h-2zM190.5 460.6h1v1h-1zM221.3 498.9h4v1h-4zM192.5 480.6h5v1h-5zM194.3 483.0h1v1h-1zM188.2 459.9h4v1h-4zM204.2 483.3h2v1h-2zM203.4 417.9h5v1h-5zM195.1 490.8h2v1h-2zM210.5 406.1h2v1h-2zM189.8 399.6h2v1h-2zM213.5 397.2h4v1h-4zM197.7 422.4h5v1h-5zM219.4 487.7h5v1h-5zM209.8 498.8h3v1h-3zM221.0 481.1h4v1h-4zM197.4 425.6h5v1h-5zM206.8 459.2h5v1h-5zM217.7 433.8h6v1h-6zM204.2 478.4h4v1h-4zM218.3 495.3h3v1h-3zM198.1 473.8h2v1h-2zM204.9 406.3h6v1h-6zM202.5 416.3h2v1h-2zM204.2 478.9h2v1h-2zM206.4 446.9h3v1h-3zM211.9 476.2h1v1h-1zM217.4 431.0h6v1h-6zM193.4 446.4h2v1h-2zM220.3 408.9h5v1h-5zM192.6 493.0h6v1h-6zM223.6 414.7h3v1h-3zM212.4 419.1h2v1h-2zM216.9 402.0h4v1h-4zM200.7 405.0h2v1h-2zM201.8 455.5h2v1h-2zM199.4 480.7h2v1h-2zM214.8 419.6h6v1h-6zM192.0 452.6h6v1h-6zM210.1 405.4h4v1h-4zM193.1 465.8h6v1h-6zM218.3 466.5h1v1h-1zM203.4 483.7h6v1h-6zM221.0 412.5h5v1h-5zM193.5 410.6h1v1h-1zM199.5 462.7h2v1h-2zM201.8 408.0h3v1h-3zM215.0 484.4h2v1h-2zM205.5 451.0h2v1h-2zM211.5 445.3h3v1h-3zM188.0 494.3h1v1h-1zM204.4 489.8h2v1h-2zM207.5 451.0h5v1h-5zM219.9 500.4h2v1h-2zM213.0 416.8h5v1h-5zM193.6 429.9h4v1h-4zM206.2 398.8h1v1h-1zM192.9 425.5h5v1h-5zM208.4 472.5h2v1h-2zM189.7 454.8h1v1h-1zM195.1 414.3h1v1h-1zM197.0 401.1h2v1h-2zM194.1 391.6h3v1h-3zM195.6 418.4h3v1h-3zM201.9 474.9h5v1h-5zM187.6 428.0h6v1h-6zM205.1 445.7h1v1h-1zM226.5 414.7h1v1h-1zM199.6 434.5h1v1h-1zM220.3 434.9h5v1h-5zM203.3 459.9h2v1h-2zM204.9 440.3h6v1h-6zM209.2 450.2h3v1h-3zM203.7 411.3h6v1h-6zM221.2 482.2h3v1h-3zM212.7 453.4h2v1h-2zM222.9 491.2h3v1h-3zM205.8 404.7h4v1h-4zM200.4 488.8h5v1h-5zM187.8 460.8h1v1h-1zM192.9 412.9h5v1h-5zM191.8 424.7h6v1h-6zM209.8 494.7h5v1h-5zM212.0 464.1h2v1h-2zM197.8 433.8h5v1h-5zM198.8 457.5h5v1h-5zM189.9 397.0h2v1h-2zM198.6 478.9h1v1h-1zM217.8 467.6h2v1h-2zM191.7 472.3h2v1h-2zM226.5 424.6h1v1h-1zM212.2 432.3h6v1h-6zM211.0 461.9h2v1h-2zM202.0 405.1h5v1h-5zM204.2 445.4h4v1h-4zM201.6 439.7h3v1h-3zM201.9 413.7h2v1h-2zM211.5 483.5h3v1h-3zM206.7 453.0h3v1h-3zM191.1 396.3h6v1h-6zM197.1 493.6h3v1h-3zM204.2 475.8h2v1h-2zM201.2 458.2h2v1h-2zM203.6 495.2h2v1h-2zM195.5 453.5h6v1h-6zM190.4 459.4h3v1h-3zM219.7 425.0h5v1h-5zM203.3 475.8h4v1h-4zM223.7 403.7h1v1h-1zM206.7 481.9h2v1h-2zM200.2 405.6h6v1h-6zM190.6 394.6h3v1h-3zM195.4 400.6h4v1h-4zM209.1 458.3h1v1h-1zM192.7 482.3h1v1h-1zM203.8 456.3h3v1h-3zM219.5 396.8h2v1h-2zM221.9 451.6h5v1h-5zM201.8 457.6h5v1h-5zM191.1 438.8h6v1h-6zM212.5 456.5h4v1h-4zM217.8 466.4h5v1h-5zM194.5 439.9h2v1h-2zM204.8 427.5h2v1h-2zM197.3 462.5h4v1h-4zM191.0 448.6h1v1h-1zM196.1 404.3h2v1h-2zM217.6 423.8h4v1h-4zM201.7 437.1h2v1h-2zM197.3 499.9h4v1h-4zM225.3 495.7h2v1h-2zM223.6 486.1h2v1h-2zM194.3 501.7h6v1h-6zM191.8 481.0h5v1h-5zM190.4 486.9h1v1h-1zM201.1 467.8h2v1h-2zM202.6 410.8h2v1h-2zM190.7 464.5h5v1h-5zM194.6 462.5h1v1h-1zM212.3 396.4h4v1h-4zM224.1 434.9h2v1h-2zM202.3 433.0h5v1h-5zM207.2 499.4h5v1h-5zM202.8 454.5h2v1h-2zM201.7 434.7h4v1h-4zM224.4 477.4h2v1h-2zM204.2 484.2h4v1h-4zM213.5 400.0h2v1h-2zM221.5 483.6h4v1h-4zM196.5 478.5h6v1h-6zM199.7 458.0h3v1h-3zM217.9 411.9h6v1h-6zM211.7 410.4h4v1h-4zM221.6 450.1h2v1h-2zM199.9 402.9h3v1h-3zM192.8 452.4h2v1h-2zM215.2 498.7h6v1h-6zM198.9 421.1h2v1h-2zM221.7 496.4h3v1h-3zM201.9 393.0h2v1h-2zM209.0 478.4h6v1h-6zM225.1 416.8h1v1h-1zM196.5 457.1h2v1h-2zM213.8 455.9h3v1h-3zM190.6 441.1h4v1h-4zM224.6 432.7h2v1h-2zM222.2 405.4h1v1h-1zM207.6 461.0h6v1h-6zM216.8 468.4h4v1h-4zM192.6 435.6h4v1h-4zM204.1 429.8h4v1h-4zM194.6 469.8h2v1h-2zM215.9 464.9h4v1h-4zM210.3 493.4h2v1h-2zM197.3 467.0h6v1h-6zM223.9 432.6h1v1h-1zM188.8 419.7h1v1h-1zM220.3 462.9h5v1h-5zM197.0 439.1h5v1h-5zM203.5 442.6h4v1h-4zM206.8 493.2h6v1h-6zM209.2 480.9h5v1h-5zM215.8 466.4h2v1h-2zM191.8 406.6h5v1h-5zM212.3 412.4h3v1h-3zM225.6 440.8h2v1h-2zM188.9 484.1h6v1h-6zM220.7 410.9h6v1h-6zM190.0 395.0h1v1h-1zM215.1 447.3h3v1h-3zM203.6 485.4h1v1h-1zM189.0 437.0h6v1h-6zM199.0 445.9h2v1h-2zM189.4 489.0h3v1h-3zM200.0 458.6h1v1h-1zM194.9 428.7h3v1h-3zM188.4 484.6h1v1h-1zM201.8 484.0h6v1h-6zM204.8 432.8h5v1h-5zM210.4 455.7h1v1h-1zM225.1 460.9h1v1h-1zM210.5 398.8h3v1h-3zM206.5 403.0h4v1h-4zM203.2 402.9h1v1h-1zM202.6 447.3h5v1h-5zM191.9 457.7h1v1h-1zM213.7 485.2h6v1h-6zM189.1 488.6h2v1h-2zM208.4 465.4h5v1h-5zM219.8 490.4h1v1h-1zM200.8 443.3h2v1h-2zM199.0 475.6h1v1h-1zM189.2 425.5h4v1h-4zM222.9 454.2h2v1h-2zM216.4 464.4h4v1h-4zM204.5 452.6h3v1h-3zM207.8 407.7h5v1h-5zM204.2 461.6h5v1h-5zM188.9 423.6h4v1h-4zM187.8 427.0h5v1h-5zM189.4 478.8h5v1h-5zM223.2 409.8h1v1h-1zM196.4 433.7h2v1h-2zM215.9 470.9h2v1h-2zM215.3 459.4h4v1h-4zM224.0 477.6h2v1h-2zM197.0 448.6h1v1h-1zM222.9 408.6h3v1h-3zM193.8 453.3h3v1h-3zM197.2 432.5h6v1h-6zM197.2 446.0h4v1h-4zM193.7 484.4h1v1h-1z" fill="#afc0c9" opacity="0.42"/>
<path d="M218.5 466.8h3v1h-3zM200.2 399.5h1v1h-1zM192.3 425.1h3v1h-3zM210.2 405.0h1v1h-1zM206.3 407.4h3v1h-3zM195.8 495.3h1v1h-1zM196.1 391.7h2v1h-2zM191.0 476.2h2v1h-2zM211.0 483.5h3v1h-3zM224.8 405.9h2v1h-2zM199.7 467.1h1v1h-1zM220.7 454.2h1v1h-1zM218.2 458.4h2v1h-2zM192.6 486.5h1v1h-1zM196.8 468.6h1v1h-1zM195.2 425.4h1v1h-1zM199.4 402.4h1v1h-1zM222.6 466.5h2v1h-2zM193.1 403.4h4v1h-4zM202.7 411.5h2v1h-2zM190.2 474.7h1v1h-1zM223.1 435.9h1v1h-1zM197.0 464.9h1v1h-1zM210.7 404.5h3v1h-3zM200.0 418.3h3v1h-3zM214.0 478.2h3v1h-3zM200.5 485.5h4v1h-4zM189.8 437.8h3v1h-3z" fill="#3f5868" opacity="0.5"/>
<rect x="204.50" y="391.3" width="6" height="112.00" fill="#b6c9d4" opacity="0.85"/>
<rect x="206.50" y="391.3" width="2.0" height="112.00" fill="#4f6a7c" opacity="0.6"/>
<path d="M206.5 404.5h2v2h-2zM206.6 486.8h1.9v2h-1.9zM206.2 460.2h2v1h-2zM206.7 454.1h2.1v1.5h-2.1zM206.2 435.1h2.2v1h-2.2zM206.0 412.6h2.2v2h-2.2zM206.1 497.9h2.6v1h-2.6zM206.0 471.3h2.3v2h-2.3zM206.3 425.5h2.4v1.5h-2.4zM206.3 483.1h2v2h-2zM206.1 460.1h2.3v1.5h-2.3zM206.2 487.7h2.4v1h-2.4zM206.5 450.7h1.9v1h-1.9zM206.8 393.8h2.1v1h-2.1zM206.0 466.8h2.4v1h-2.4zM206.4 413.9h2v2h-2zM206.0 431.9h2.4v1h-2.4zM206.7 404.3h2v2h-2zM206.4 454.5h2.4v1h-2.4zM206.2 456.7h2.7v2h-2.7zM206.9 434.1h2v2h-2zM206.7 446.7h1.6v1h-1.6zM206.1 397.8h2.6v1h-2.6zM206.4 417.6h2.7v2h-2.7zM205.8 436.7h2.7v1h-2.7zM206.3 414.4h1.8v1h-1.8zM206.0 482.0h2.7v1h-2.7zM206.6 427.4h1.8v1h-1.8zM206.3 445.3h1.7v2h-1.7zM206.3 422.4h2.4v1h-2.4zM206.3 443.1h1.9v2h-1.9zM206.3 490.9h2.7v1h-2.7zM206.3 463.7h2.3v1h-2.3zM206.7 498.9h1.8v1h-1.8zM206.2 402.6h2.4v1h-2.4zM205.9 426.7h2.3v2h-2.3zM206.1 470.8h2.5v1h-2.5zM206.1 415.9h2.3v1.5h-2.3zM206.2 444.2h2.3v2h-2.3zM206.7 487.0h1.7v1h-1.7zM206.5 467.9h2.3v1.5h-2.3zM206.5 439.6h2.2v1h-2.2zM206.6 395.6h2.2v1h-2.2zM206.7 477.3h2v1.5h-2zM206.4 475.8h2.4v2h-2.4zM206.5 460.4h2.6v1.5h-2.6zM206.6 457.5h2.2v1h-2.2zM205.7 435.5h2.8v1.5h-2.8zM206.6 472.0h2v1h-2zM206.4 423.1h2.1v1h-2.1zM206.3 425.0h2.8v2h-2.8zM206.9 489.0h1.9v1.5h-1.9zM206.6 466.4h2.5v1.5h-2.5zM206.9 496.2h1.9v1h-1.9zM206.8 416.9h1.9v2h-1.9zM206.7 429.3h1.9v1.5h-1.9zM206.9 448.1h1.9v1h-1.9zM206.5 404.5h1.9v1h-1.9zM206.1 438.7h2.2v2h-2.2zM206.4 431.9h2.2v1h-2.2zM206.7 492.8h2v1h-2zM206.1 427.9h2.2v1.5h-2.2zM206.7 402.5h2.3v1h-2.3zM206.5 468.8h1.6v2h-1.6zM206.6 446.5h2v1h-2zM206.3 417.0h2.4v2h-2.4zM206.2 470.0h1.8v1.5h-1.8zM206.5 445.1h2v1h-2zM206.1 461.2h2.7v1h-2.7zM206.0 405.5h2.6v1.5h-2.6zM206.3 494.3h2.2v2h-2.2zM206.2 476.8h1.8v2h-1.8zM206.2 413.7h2.7v1h-2.7zM206.7 442.3h2.4v1h-2.4zM206.7 402.6h2.3v1h-2.3z" fill="#24384a" opacity="0.45"/>
<rect x="187.0" y="391.3" width="41.00" height="112.00" fill="none" stroke="#939ea2" stroke-width="0.85"/>
<path d="M186.4 400.6h1.8M226.8 400.6h1.8M186.4 410.0h1.8M226.8 410.0h1.8M186.4 419.3h1.8M226.8 419.3h1.8M186.4 428.6h1.8M226.8 428.6h1.8M186.4 438.0h1.8M226.8 438.0h1.8M186.4 447.3h1.8M226.8 447.3h1.8M186.4 456.6h1.8M226.8 456.6h1.8M186.4 466.0h1.8M226.8 466.0h1.8M186.4 475.3h1.8M226.8 475.3h1.8M186.4 484.6h1.8M226.8 484.6h1.8M186.4 494.0h1.8M226.8 494.0h1.8" stroke="#7a858a" stroke-width="0.6"/>
<text x="189.10" y="511.70" font-size="6.4" text-anchor="middle" textLength="12.20" lengthAdjust="spacingAndGlyphs" fill="#222">-5kb</text>
<text x="207.65" y="511.70" font-size="6.4" text-anchor="middle" textLength="12.30" lengthAdjust="spacingAndGlyphs" fill="#222">Peak</text>
<text x="225.70" y="511.70" font-size="6.4" text-anchor="middle" textLength="13.80" lengthAdjust="spacingAndGlyphs" fill="#222">+5kb</text>
<text x="125.40" y="551.90" font-size="10.2" text-anchor="middle" textLength="123.20" lengthAdjust="spacingAndGlyphs">Dynamic sites upon DOT1Li</text>
<text x="69.80" y="565.10" font-size="7.4" text-anchor="middle" textLength="24.40" lengthAdjust="spacingAndGlyphs">DOT1Li</text>
<text x="179.65" y="565.10" font-size="7.4" text-anchor="middle" textLength="19.00" lengthAdjust="spacingAndGlyphs">LSD1i</text>
<text x="42.50" y="574.50" font-size="7.8" text-anchor="middle" textLength="25.00" lengthAdjust="spacingAndGlyphs">Control</text>
<text x="97.15" y="574.50" font-size="7.8" text-anchor="middle" textLength="33.10" lengthAdjust="spacingAndGlyphs">Treatment</text>
<text x="152.40" y="574.50" font-size="7.8" text-anchor="middle" textLength="25.00" lengthAdjust="spacingAndGlyphs">Control</text>
<text x="207.25" y="574.50" font-size="7.8" text-anchor="middle" textLength="33.00" lengthAdjust="spacingAndGlyphs">Treatment</text>
<rect x="22.0" y="579.7" width="40.50" height="110.50" fill="#eff3f4"/>
<path d="M52.0 658.8h2v1h-2zM36.0 588.5h2v1h-2zM51.5 584.7h1v1h-1zM35.7 667.5h5v1h-5zM32.3 617.3h3v1h-3zM40.8 582.7h6v1h-6zM28.9 602.2h3v1h-3zM48.0 626.3h2v1h-2zM55.3 684.2h5v1h-5zM42.9 672.1h1v1h-1zM45.9 581.7h1v1h-1zM38.5 644.8h3v1h-3zM30.9 679.8h6v1h-6zM56.4 609.5h3v1h-3zM32.8 630.2h1v1h-1zM50.3 602.9h2v1h-2zM23.4 649.2h2v1h-2zM42.6 594.3h5v1h-5zM35.7 677.8h3v1h-3zM37.8 586.2h3v1h-3zM41.7 643.7h1v1h-1zM47.1 584.6h6v1h-6zM27.0 664.0h5v1h-5zM27.8 635.8h2v1h-2zM52.0 634.8h6v1h-6zM32.6 589.3h3v1h-3zM40.2 650.5h1v1h-1zM25.8 672.7h4v1h-4zM40.7 687.7h4v1h-4zM27.5 590.0h2v1h-2zM34.2 593.5h2v1h-2zM29.0 590.1h3v1h-3zM40.2 675.7h3v1h-3zM52.9 603.0h5v1h-5zM33.4 659.4h3v1h-3zM27.7 654.2h2v1h-2zM50.9 598.3h3v1h-3zM43.4 602.8h2v1h-2zM59.4 592.9h2v1h-2zM39.0 592.8h2v1h-2zM48.3 650.6h5v1h-5zM54.3 643.0h6v1h-6zM57.2 650.6h2v1h-2zM31.7 580.8h5v1h-5zM49.5 642.4h4v1h-4zM34.8 648.4h2v1h-2zM39.1 641.1h1v1h-1zM41.9 596.1h2v1h-2zM36.4 685.8h2v1h-2zM39.4 615.2h1v1h-1zM37.7 628.9h1v1h-1zM26.6 584.0h4v1h-4zM22.9 675.2h4v1h-4zM32.3 630.7h5v1h-5zM56.8 678.9h2v1h-2zM54.0 606.3h2v1h-2zM53.6 675.3h2v1h-2zM38.7 592.7h3v1h-3zM52.6 674.0h2v1h-2zM34.7 618.1h6v1h-6zM55.7 657.9h6v1h-6zM56.1 685.4h3v1h-3zM49.3 587.5h3v1h-3zM37.4 643.2h6v1h-6zM52.5 681.6h6v1h-6zM27.0 655.8h4v1h-4zM38.7 607.2h1v1h-1zM47.8 593.3h5v1h-5zM39.0 603.7h2v1h-2zM25.7 646.6h2v1h-2zM28.5 658.4h6v1h-6zM58.9 659.1h2v1h-2zM35.0 646.0h1v1h-1zM32.0 681.9h1v1h-1zM46.5 617.3h2v1h-2zM39.7 615.1h1v1h-1zM28.8 613.3h2v1h-2zM27.6 686.8h4v1h-4zM32.0 643.8h2v1h-2zM39.2 659.0h2v1h-2zM32.2 627.8h2v1h-2zM28.2 600.9h4v1h-4zM55.5 659.0h2v1h-2zM37.3 662.7h2v1h-2zM53.8 686.8h3v1h-3zM51.6 678.4h2v1h-2zM52.8 650.2h3v1h-3zM59.4 637.2h2v1h-2zM29.5 686.8h5v1h-5zM26.9 676.4h6v1h-6zM60.1 669.2h2v1h-2zM41.2 602.5h4v1h-4zM46.7 687.2h2v1h-2zM40.7 580.3h6v1h-6zM48.4 600.3h5v1h-5zM25.8 591.9h2v1h-2zM43.1 615.6h2v1h-2zM59.7 669.8h2v1h-2zM34.0 666.1h6v1h-6zM24.1 661.1h6v1h-6zM45.8 592.4h4v1h-4zM23.2 641.7h1v1h-1zM40.2 669.5h6v1h-6zM53.4 601.0h4v1h-4zM58.5 662.0h3v1h-3zM39.5 672.4h2v1h-2zM32.0 672.3h2v1h-2zM37.8 664.9h1v1h-1zM52.4 612.4h6v1h-6zM51.3 683.7h1v1h-1zM55.5 650.0h6v1h-6zM33.6 609.9h5v1h-5zM25.4 687.2h4v1h-4zM25.6 621.6h1v1h-1zM29.0 627.5h4v1h-4zM31.7 597.9h2v1h-2zM55.8 636.2h5v1h-5zM29.1 675.2h2v1h-2zM43.8 583.3h1v1h-1zM41.8 631.9h2v1h-2zM56.4 625.7h4v1h-4zM39.1 584.6h4v1h-4zM25.2 650.8h6v1h-6zM27.2 645.6h6v1h-6zM28.5 613.1h6v1h-6zM51.2 655.0h6v1h-6zM42.0 597.2h1v1h-1zM46.2 639.1h3v1h-3zM34.4 594.6h2v1h-2zM39.2 599.6h2v1h-2zM36.9 640.0h2v1h-2zM30.9 620.3h4v1h-4zM25.3 615.9h6v1h-6zM54.2 680.3h3v1h-3zM47.8 640.3h6v1h-6zM42.3 592.8h5v1h-5zM45.4 596.5h2v1h-2zM34.5 624.4h2v1h-2zM25.8 599.6h4v1h-4zM36.6 683.2h6v1h-6zM34.3 595.8h2v1h-2zM31.6 593.6h6v1h-6zM35.3 596.7h2v1h-2zM37.8 651.1h6v1h-6zM35.5 615.0h1v1h-1zM25.9 614.3h4v1h-4zM36.0 655.5h1v1h-1zM47.5 618.8h3v1h-3zM42.2 619.5h4v1h-4zM27.5 587.7h2v1h-2zM32.6 589.2h6v1h-6zM47.2 626.9h2v1h-2zM53.8 637.6h1v1h-1zM55.2 599.7h4v1h-4zM41.6 594.5h4v1h-4zM26.2 595.1h2v1h-2zM37.7 647.9h5v1h-5zM45.8 681.4h6v1h-6zM31.1 658.8h1v1h-1zM48.7 596.6h6v1h-6zM53.9 596.2h4v1h-4zM40.2 678.1h6v1h-6zM42.4 685.5h5v1h-5zM31.7 684.6h6v1h-6zM30.2 614.4h6v1h-6zM48.6 633.0h4v1h-4zM23.5 627.5h6v1h-6zM48.2 629.1h2v1h-2zM43.8 652.0h4v1h-4zM58.7 580.8h2v1h-2zM46.9 640.1h5v1h-5zM27.6 616.8h4v1h-4zM51.2 623.3h5v1h-5zM58.0 650.6h4v1h-4zM57.9 631.1h1v1h-1zM44.5 615.1h1v1h-1zM47.1 650.5h2v1h-2zM55.8 671.3h3v1h-3zM55.8 643.2h4v1h-4zM43.9 617.8h4v1h-4zM54.7 659.1h6v1h-6zM36.9 625.0h6v1h-6zM34.7 593.7h4v1h-4zM56.2 652.5h3v1h-3zM58.6 604.1h2v1h-2zM35.2 623.7h2v1h-2zM24.4 637.5h2v1h-2zM57.2 665.8h2v1h-2zM44.3 612.7h3v1h-3zM42.3 648.7h5v1h-5zM40.2 630.5h2v1h-2zM37.5 590.6h2v1h-2zM33.9 649.3h4v1h-4zM53.9 673.0h4v1h-4zM53.9 674.5h6v1h-6zM32.6 660.3h2v1h-2zM26.3 580.7h4v1h-4zM57.0 622.2h2v1h-2zM26.1 671.9h6v1h-6zM34.8 658.1h2v1h-2zM32.7 599.1h6v1h-6zM45.2 669.9h1v1h-1zM40.3 687.1h1v1h-1zM59.6 682.0h2v1h-2zM22.4 603.5h1v1h-1zM42.0 684.2h3v1h-3zM42.6 588.2h2v1h-2zM31.8 641.1h4v1h-4zM25.1 640.5h2v1h-2zM55.3 675.5h5v1h-5zM56.8 662.5h2v1h-2zM38.1 682.8h2v1h-2zM22.9 585.4h2v1h-2zM31.5 657.1h1v1h-1zM38.3 644.7h5v1h-5zM25.0 655.9h2v1h-2zM26.0 684.3h2v1h-2zM57.1 667.1h5v1h-5zM38.9 605.7h3v1h-3zM57.4 638.0h2v1h-2zM57.8 617.0h2v1h-2zM47.1 652.9h6v1h-6zM30.8 647.4h6v1h-6zM52.8 601.7h4v1h-4zM55.5 639.1h6v1h-6zM41.8 595.9h6v1h-6zM37.2 600.2h6v1h-6zM53.5 612.2h3v1h-3zM22.4 590.1h2v1h-2zM41.3 593.9h5v1h-5zM52.1 673.8h3v1h-3zM28.4 580.6h5v1h-5zM23.2 672.2h6v1h-6zM23.0 627.0h2v1h-2zM31.5 591.5h2v1h-2zM30.0 588.2h3v1h-3zM30.3 605.1h5v1h-5zM39.4 687.4h1v1h-1zM38.8 688.3h2v1h-2zM52.4 631.3h2v1h-2zM34.6 666.7h2v1h-2zM42.6 654.0h2v1h-2zM39.9 680.0h1v1h-1zM25.2 606.2h1v1h-1zM34.9 594.0h6v1h-6zM46.6 624.9h4v1h-4zM36.2 594.9h3v1h-3zM36.7 600.3h6v1h-6zM32.9 590.4h3v1h-3zM58.0 640.6h4v1h-4zM36.4 644.9h2v1h-2zM47.3 607.0h6v1h-6zM50.8 673.5h5v1h-5zM56.0 627.5h4v1h-4zM49.8 595.6h5v1h-5zM35.4 687.2h2v1h-2zM25.1 592.8h1v1h-1zM50.5 648.7h2v1h-2zM38.7 623.9h5v1h-5zM23.6 627.0h4v1h-4zM60.6 682.3h1v1h-1zM30.0 673.2h2v1h-2zM34.3 602.8h3v1h-3zM43.9 639.0h5v1h-5zM30.0 678.3h2v1h-2zM58.5 661.0h2v1h-2zM39.3 584.0h6v1h-6zM22.8 657.0h2v1h-2zM23.3 684.7h1v1h-1zM52.3 661.3h4v1h-4zM59.8 680.1h2v1h-2zM48.0 656.2h5v1h-5zM44.6 597.2h2v1h-2zM45.1 648.7h6v1h-6zM43.9 663.4h2v1h-2zM40.3 582.2h6v1h-6zM56.1 582.0h2v1h-2zM55.5 678.3h6v1h-6zM48.9 637.1h6v1h-6zM26.1 659.0h6v1h-6zM50.7 589.9h6v1h-6zM32.8 622.4h1v1h-1zM40.3 648.5h6v1h-6zM37.3 604.1h2v1h-2zM33.6 580.2h5v1h-5zM37.2 664.0h4v1h-4zM41.6 598.0h6v1h-6zM50.1 681.0h4v1h-4zM25.5 661.7h1v1h-1zM28.9 688.7h2v1h-2zM58.8 586.6h3v1h-3zM46.8 634.5h3v1h-3zM39.1 656.4h6v1h-6zM22.6 602.1h4v1h-4zM29.9 629.1h3v1h-3zM34.0 672.4h2v1h-2zM35.8 605.0h5v1h-5zM36.1 589.9h4v1h-4zM34.4 593.4h1v1h-1zM55.9 589.5h1v1h-1zM43.8 602.4h5v1h-5zM26.7 676.4h5v1h-5zM30.5 641.5h4v1h-4zM31.1 617.6h3v1h-3zM52.5 648.9h5v1h-5zM39.3 684.8h2v1h-2zM24.5 612.9h3v1h-3zM30.5 612.8h4v1h-4zM46.2 643.1h4v1h-4zM48.9 619.9h6v1h-6zM50.8 639.0h1v1h-1zM26.7 592.2h5v1h-5zM50.1 649.7h2v1h-2zM23.0 633.8h6v1h-6zM43.4 619.8h1v1h-1zM29.3 580.3h6v1h-6zM48.3 673.3h2v1h-2zM38.0 619.2h2v1h-2zM27.9 635.0h2v1h-2zM50.3 633.7h2v1h-2zM47.6 588.7h1v1h-1zM39.2 602.4h3v1h-3zM38.7 594.8h6v1h-6zM38.6 687.6h4v1h-4zM34.7 647.3h1v1h-1zM28.9 645.6h5v1h-5zM35.1 587.5h6v1h-6zM29.9 642.5h1v1h-1zM53.0 588.3h6v1h-6zM26.2 628.4h6v1h-6zM30.1 673.7h1v1h-1zM53.9 686.5h6v1h-6zM57.8 608.3h2v1h-2zM26.5 625.3h4v1h-4zM36.8 590.9h2v1h-2zM40.3 597.7h6v1h-6zM31.7 649.7h6v1h-6zM27.3 664.9h5v1h-5zM48.6 602.8h5v1h-5zM56.5 602.5h4v1h-4zM27.9 588.4h2v1h-2zM48.6 614.8h2v1h-2zM25.4 603.9h5v1h-5zM55.7 581.9h4v1h-4zM25.6 641.6h5v1h-5zM49.4 591.4h4v1h-4zM31.4 644.2h2v1h-2zM56.9 620.7h4v1h-4zM36.1 626.1h5v1h-5zM58.1 655.5h4v1h-4zM51.5 638.7h2v1h-2zM50.3 680.9h5v1h-5zM60.1 662.8h1v1h-1zM28.5 623.4h2v1h-2zM38.6 631.1h2v1h-2zM47.1 633.3h5v1h-5zM37.5 609.2h3v1h-3zM59.8 688.8h2v1h-2zM47.3 657.3h6v1h-6zM39.1 682.4h6v1h-6z" fill="#bcc7cc" opacity="0.385"/>
<path d="M40.7 634.5h3v1h-3zM28.3 670.8h3v1h-3zM26.3 632.7h2v1h-2zM56.6 627.8h1v1h-1zM40.4 610.2h2v1h-2zM37.0 594.5h2v1h-2zM46.7 589.4h1v1h-1zM33.0 618.3h2v1h-2zM34.5 624.9h2v1h-2zM50.9 580.6h4v1h-4zM59.9 678.6h1v1h-1zM37.8 622.0h1v1h-1zM38.1 642.7h4v1h-4zM47.3 644.8h1v1h-1zM35.3 583.9h1v1h-1zM43.1 643.4h1v1h-1zM57.3 613.6h1v1h-1zM46.0 610.9h3v1h-3zM35.5 610.0h4v1h-4zM31.0 609.5h1v1h-1zM49.7 639.6h3v1h-3z" fill="#3f5868" opacity="0.45"/>
<rect x="39.75" y="579.7" width="5" height="110.50" fill="#ccd8dd" opacity="0.8"/>
<rect x="41.45" y="579.7" width="1.6" height="110.50" fill="#3a5060" opacity="0.62"/>
<path d="M41.4 631.0h2.3v2h-2.3zM41.1 655.0h1.9v1h-1.9zM41.4 676.7h1.5v1h-1.5zM41.3 676.9h1.9v1.5h-1.9zM40.8 679.2h2.3v1h-2.3zM41.2 601.9h2.1v1h-2.1zM41.0 608.9h1.6v2h-1.6zM41.6 680.2h1.7v1.5h-1.7zM41.2 683.7h2.3v1h-2.3zM41.8 649.2h1.7v1h-1.7zM41.6 679.4h2v1h-2zM41.5 595.3h1.9v1.5h-1.9zM41.7 670.6h1.7v1.5h-1.7zM41.0 587.5h2.4v2h-2.4zM41.8 664.7h1.6v1h-1.6zM41.9 635.0h1.5v2h-1.5zM41.3 614.1h1.6v2h-1.6zM41.0 600.2h2.2v2h-2.2zM41.2 646.4h1.4v1h-1.4zM41.1 680.6h1.8v1h-1.8zM41.1 585.2h1.6v1h-1.6zM41.2 684.9h2.2v1h-2.2zM41.2 583.7h2.1v1h-2.1zM41.6 661.1h1.9v1h-1.9zM40.8 655.2h2.2v1h-2.2zM41.5 605.6h1.7v1h-1.7zM40.8 674.0h2.4v2h-2.4zM41.1 606.5h2.4v1h-2.4zM41.5 594.1h1.6v1h-1.6zM40.8 588.4h2.4v1.5h-2.4zM41.1 679.7h1.6v1.5h-1.6zM41.2 641.1h2.3v1h-2.3zM41.4 601.2h1.6v1h-1.6zM41.6 604.2h1.5v1h-1.5zM41.4 611.4h2.1v2h-2.1zM41.6 618.8h1.9v1h-1.9zM41.2 629.1h1.5v2h-1.5zM41.4 621.4h1.9v2h-1.9zM41.3 643.3h1.6v2h-1.6zM41.8 596.3h1.4v1.5h-1.4zM41.6 645.1h1.7v2h-1.7zM40.8 590.1h2.3v1h-2.3zM41.1 637.9h1.9v2h-1.9zM41.1 615.8h1.6v1.5h-1.6zM40.9 682.0h2.3v1h-2.3zM40.9 647.7h2v1.5h-2zM41.5 628.0h1.7v1h-1.7zM41.0 605.0h1.8v2h-1.8zM41.0 591.2h2v1.5h-2zM41.2 612.9h2.3v2h-2.3zM41.4 640.3h2.3v2h-2.3zM41.2 618.2h1.4v1h-1.4zM40.7 633.0h2.3v1.5h-2.3zM40.7 589.4h2.4v2h-2.4zM41.1 607.1h1.8v2h-1.8zM41.6 656.2h1.4v1h-1.4zM41.8 629.1h1.4v1h-1.4zM41.9 593.5h1.4v1h-1.4zM41.9 671.3h1.6v1h-1.6zM41.3 684.4h1.7v1h-1.7zM41.3 643.1h1.6v1h-1.6zM41.9 640.6h1.5v2h-1.5zM41.2 591.4h2.3v1h-2.3zM41.5 679.3h2.2v1h-2.2zM40.9 672.4h2.3v1h-2.3zM41.5 588.2h2.2v2h-2.2zM40.7 633.5h2.3v1h-2.3zM41.3 670.7h2.2v1h-2.2zM41.4 615.5h1.9v1h-1.9zM41.3 610.0h1.9v1h-1.9z" fill="#101c28" opacity="0.55"/>
<rect x="22.0" y="579.7" width="40.50" height="110.50" fill="none" stroke="#939ea2" stroke-width="0.85"/>
<path d="M21.4 588.9h1.8M61.3 588.9h1.8M21.4 598.1h1.8M61.3 598.1h1.8M21.4 607.3h1.8M61.3 607.3h1.8M21.4 616.5h1.8M61.3 616.5h1.8M21.4 625.7h1.8M61.3 625.7h1.8M21.4 635.0h1.8M61.3 635.0h1.8M21.4 644.2h1.8M61.3 644.2h1.8M21.4 653.4h1.8M61.3 653.4h1.8M21.4 662.6h1.8M61.3 662.6h1.8M21.4 671.8h1.8M61.3 671.8h1.8M21.4 681.0h1.8M61.3 681.0h1.8" stroke="#7a858a" stroke-width="0.6"/>
<text x="24.10" y="698.50" font-size="6.4" text-anchor="middle" textLength="12.20" lengthAdjust="spacingAndGlyphs" fill="#222">-5kb</text>
<text x="42.65" y="698.50" font-size="6.4" text-anchor="middle" textLength="12.30" lengthAdjust="spacingAndGlyphs" fill="#222">Peak</text>
<text x="60.70" y="698.50" font-size="6.4" text-anchor="middle" textLength="13.80" lengthAdjust="spacingAndGlyphs" fill="#222">+5kb</text>
<rect x="76.5" y="579.7" width="41.00" height="110.50" fill="#f0f4f5"/>
<path d="M82.9 632.7h2v1h-2zM90.2 663.0h5v1h-5zM113.1 609.1h3v1h-3zM98.7 591.6h6v1h-6zM96.0 674.7h1v1h-1zM87.8 688.8h6v1h-6zM92.4 667.2h4v1h-4zM96.8 599.9h2v1h-2zM93.5 652.2h5v1h-5zM109.5 641.9h2v1h-2zM107.2 630.7h4v1h-4zM91.5 640.1h2v1h-2zM103.4 621.7h1v1h-1zM115.0 678.9h2v1h-2zM89.9 633.2h5v1h-5zM87.7 667.6h2v1h-2zM82.4 687.2h5v1h-5zM86.3 670.8h5v1h-5zM107.2 672.1h4v1h-4zM86.6 624.7h2v1h-2zM98.1 663.2h2v1h-2zM101.8 633.3h4v1h-4zM95.4 628.9h4v1h-4zM90.9 654.7h1v1h-1zM79.0 653.0h4v1h-4zM84.5 653.0h6v1h-6zM77.7 648.0h2v1h-2zM111.1 610.1h5v1h-5zM84.2 590.8h4v1h-4zM79.7 634.6h2v1h-2zM105.3 619.6h3v1h-3zM109.6 674.3h2v1h-2zM106.7 673.2h5v1h-5zM103.7 655.4h1v1h-1zM91.7 626.3h2v1h-2zM90.3 665.7h4v1h-4zM111.2 615.6h2v1h-2zM107.8 640.6h1v1h-1zM100.0 588.1h5v1h-5zM84.2 658.4h1v1h-1zM94.0 686.0h4v1h-4zM98.9 602.6h2v1h-2zM98.3 660.5h2v1h-2zM81.8 674.3h2v1h-2zM108.5 666.1h2v1h-2zM104.3 639.6h2v1h-2zM106.8 685.5h6v1h-6zM99.8 599.4h6v1h-6zM79.5 632.4h2v1h-2zM104.5 611.7h5v1h-5zM79.0 586.7h4v1h-4zM104.8 643.0h2v1h-2zM90.6 622.3h2v1h-2zM79.2 602.9h6v1h-6zM97.3 669.2h3v1h-3zM86.9 637.2h4v1h-4zM114.2 602.4h3v1h-3zM95.2 667.0h4v1h-4zM78.4 624.4h3v1h-3zM109.7 656.7h2v1h-2zM96.3 673.1h5v1h-5zM92.1 662.3h4v1h-4zM103.4 615.6h3v1h-3zM94.7 610.6h6v1h-6zM83.7 594.4h4v1h-4zM110.4 601.1h4v1h-4zM78.3 653.7h2v1h-2zM83.8 682.2h2v1h-2zM84.8 638.4h3v1h-3zM87.9 652.9h1v1h-1zM100.6 616.0h3v1h-3zM94.3 640.7h2v1h-2zM98.6 686.1h5v1h-5zM80.0 592.2h3v1h-3zM90.2 646.7h2v1h-2zM103.5 605.5h5v1h-5zM84.8 606.8h6v1h-6zM94.6 656.3h2v1h-2zM97.3 607.4h5v1h-5zM79.3 633.7h6v1h-6zM97.7 651.5h6v1h-6zM104.5 672.4h3v1h-3zM112.2 620.7h3v1h-3zM79.4 623.5h5v1h-5zM110.9 620.6h1v1h-1zM114.9 687.9h2v1h-2zM85.1 594.0h1v1h-1zM108.1 605.9h5v1h-5zM113.8 675.2h2v1h-2zM109.0 582.7h2v1h-2zM84.2 620.8h2v1h-2zM100.4 647.5h2v1h-2zM82.0 643.3h3v1h-3zM96.2 609.9h5v1h-5zM87.9 626.7h1v1h-1zM108.7 612.0h4v1h-4zM100.5 584.5h4v1h-4zM85.0 650.5h1v1h-1zM104.8 586.2h4v1h-4zM95.5 637.0h2v1h-2zM99.2 621.0h6v1h-6zM87.9 667.4h4v1h-4zM85.1 595.1h2v1h-2zM79.8 657.1h4v1h-4zM90.2 636.0h3v1h-3zM112.9 622.6h2v1h-2zM78.2 655.4h4v1h-4zM78.4 676.1h4v1h-4zM108.7 584.9h4v1h-4zM106.5 651.6h2v1h-2zM89.8 645.7h6v1h-6zM101.1 638.8h4v1h-4zM105.0 597.7h2v1h-2zM95.2 622.3h4v1h-4zM82.4 651.2h6v1h-6zM80.9 641.0h4v1h-4zM96.3 581.4h3v1h-3zM93.6 673.4h6v1h-6zM85.2 683.1h1v1h-1zM85.3 624.2h1v1h-1zM99.9 630.5h1v1h-1zM104.4 598.9h1v1h-1zM93.8 589.0h5v1h-5zM112.3 612.2h3v1h-3zM78.3 620.2h5v1h-5zM106.8 663.2h4v1h-4zM85.5 633.7h4v1h-4zM115.0 683.4h1v1h-1zM97.2 581.7h2v1h-2zM108.2 667.4h3v1h-3zM111.6 611.8h3v1h-3zM101.3 638.8h3v1h-3zM84.2 686.4h6v1h-6zM94.6 590.6h2v1h-2zM81.2 584.0h6v1h-6zM85.0 594.6h4v1h-4zM103.0 680.8h6v1h-6zM97.3 640.2h6v1h-6zM94.8 638.8h5v1h-5zM83.8 600.0h3v1h-3zM80.7 655.4h5v1h-5zM103.7 639.1h5v1h-5zM91.1 646.5h2v1h-2zM96.4 675.8h4v1h-4zM97.5 619.5h6v1h-6zM107.0 632.3h3v1h-3zM92.9 602.5h6v1h-6zM95.5 659.1h4v1h-4zM92.3 670.3h3v1h-3zM91.5 625.7h3v1h-3zM110.5 627.4h2v1h-2zM90.3 652.1h3v1h-3zM105.6 603.3h3v1h-3zM87.9 639.4h2v1h-2zM84.7 587.0h2v1h-2zM90.5 680.8h2v1h-2zM97.2 584.6h1v1h-1zM112.0 615.3h2v1h-2zM87.6 678.5h5v1h-5zM97.7 670.9h3v1h-3zM81.2 636.6h1v1h-1zM98.0 667.6h5v1h-5zM88.4 661.1h3v1h-3zM83.4 664.7h4v1h-4zM83.5 600.2h4v1h-4zM103.1 596.4h5v1h-5zM92.0 610.8h4v1h-4zM105.4 635.6h3v1h-3zM77.5 637.5h5v1h-5zM101.2 620.9h1v1h-1zM79.6 657.1h3v1h-3zM83.3 671.3h2v1h-2zM77.2 659.4h2v1h-2zM111.7 619.9h5v1h-5zM78.2 684.0h4v1h-4zM79.6 655.9h2v1h-2zM83.2 661.9h1v1h-1zM104.3 603.2h1v1h-1zM80.0 631.3h2v1h-2zM93.8 592.1h2v1h-2zM110.0 671.9h6v1h-6zM95.8 587.1h2v1h-2zM98.5 637.4h2v1h-2zM85.1 593.4h2v1h-2zM83.7 646.9h5v1h-5zM79.4 620.2h2v1h-2zM89.3 619.2h6v1h-6zM96.3 648.8h2v1h-2zM112.3 682.5h2v1h-2zM103.1 643.6h4v1h-4zM85.4 668.8h2v1h-2zM77.3 648.8h6v1h-6zM86.5 589.0h4v1h-4zM95.6 631.9h1v1h-1zM104.2 688.3h5v1h-5zM86.8 644.2h2v1h-2zM95.5 597.6h2v1h-2zM110.3 619.6h3v1h-3zM105.8 609.3h1v1h-1zM104.2 685.7h4v1h-4zM99.1 592.3h5v1h-5zM111.8 631.2h4v1h-4zM86.8 679.1h6v1h-6zM93.0 598.5h4v1h-4zM109.9 613.1h3v1h-3zM80.7 623.5h5v1h-5zM79.6 671.1h1v1h-1zM78.0 638.8h2v1h-2zM94.7 678.2h2v1h-2zM108.4 684.7h6v1h-6zM98.8 660.0h2v1h-2zM111.1 647.3h5v1h-5zM95.3 603.5h4v1h-4zM95.8 597.2h2v1h-2zM103.6 655.0h2v1h-2zM100.0 599.7h4v1h-4zM77.1 628.3h4v1h-4zM84.5 630.9h3v1h-3zM88.0 629.5h1v1h-1zM78.1 667.0h2v1h-2zM90.9 593.9h6v1h-6zM110.7 620.5h4v1h-4zM101.7 687.0h3v1h-3zM102.9 592.0h2v1h-2zM105.4 625.0h1v1h-1zM109.3 607.2h1v1h-1zM100.8 600.9h5v1h-5zM102.0 670.9h5v1h-5zM105.4 584.5h1v1h-1zM99.7 655.2h1v1h-1zM85.6 674.1h2v1h-2zM102.3 641.3h6v1h-6zM80.3 679.7h2v1h-2zM77.4 584.9h1v1h-1zM101.8 609.0h3v1h-3zM81.4 661.6h5v1h-5zM106.2 661.9h6v1h-6zM112.9 647.2h4v1h-4zM95.9 645.6h3v1h-3zM113.5 613.8h2v1h-2zM108.7 685.8h3v1h-3zM100.5 599.8h6v1h-6zM97.7 684.7h5v1h-5zM80.5 645.1h6v1h-6zM101.7 618.8h6v1h-6zM79.0 632.1h6v1h-6zM98.8 684.3h2v1h-2zM94.3 638.6h2v1h-2zM101.7 628.4h4v1h-4zM87.4 600.1h2v1h-2zM98.0 583.0h1v1h-1zM81.6 619.2h2v1h-2zM106.5 686.5h6v1h-6zM88.5 587.2h2v1h-2zM85.1 687.5h2v1h-2zM86.0 631.5h4v1h-4zM103.8 669.6h5v1h-5zM88.8 589.9h4v1h-4zM104.3 674.9h1v1h-1zM78.4 667.6h4v1h-4zM84.9 646.6h6v1h-6zM109.1 588.9h1v1h-1zM81.6 619.7h1v1h-1zM111.9 662.1h2v1h-2zM99.8 626.2h1v1h-1zM81.8 652.5h6v1h-6zM94.0 623.5h5v1h-5zM91.6 687.9h2v1h-2zM101.3 647.7h5v1h-5zM90.0 647.5h1v1h-1zM84.4 644.9h4v1h-4zM103.5 638.1h5v1h-5zM85.1 667.7h2v1h-2zM77.0 636.7h3v1h-3zM105.0 596.4h6v1h-6zM95.3 643.5h4v1h-4zM79.0 678.5h4v1h-4zM93.0 580.8h5v1h-5zM107.7 654.1h1v1h-1zM106.1 624.7h1v1h-1zM90.4 633.5h2v1h-2zM94.6 606.7h2v1h-2zM91.1 656.2h2v1h-2zM82.9 648.5h2v1h-2zM89.7 675.6h6v1h-6zM106.0 655.6h6v1h-6zM107.0 625.3h3v1h-3zM90.7 662.9h2v1h-2zM110.2 679.8h3v1h-3zM89.2 677.9h6v1h-6zM77.1 601.8h2v1h-2zM111.9 652.4h2v1h-2zM81.7 651.1h3v1h-3zM85.2 614.7h3v1h-3zM89.7 582.6h1v1h-1zM84.0 658.0h6v1h-6zM86.9 608.7h6v1h-6zM91.1 580.2h5v1h-5zM77.5 605.0h5v1h-5zM88.0 626.1h1v1h-1zM81.9 644.4h5v1h-5zM107.2 604.8h1v1h-1zM104.7 661.6h6v1h-6zM86.4 588.1h2v1h-2zM95.8 588.8h6v1h-6zM109.5 584.1h2v1h-2zM79.8 596.7h6v1h-6zM83.1 595.3h1v1h-1zM100.0 612.9h3v1h-3zM103.9 639.2h6v1h-6zM107.4 661.5h6v1h-6zM80.7 658.8h1v1h-1zM103.6 685.6h4v1h-4zM87.2 603.0h3v1h-3zM101.0 592.4h6v1h-6zM104.7 584.2h2v1h-2zM104.1 597.3h3v1h-3zM103.0 654.5h4v1h-4zM86.5 631.7h2v1h-2zM103.5 581.0h2v1h-2zM104.3 641.5h6v1h-6zM81.5 625.4h4v1h-4zM103.1 629.8h5v1h-5zM112.8 600.5h3v1h-3z" fill="#bcc7cc" opacity="0.35"/>
<path d="M92.3 616.5h3v1h-3zM77.9 673.5h3v1h-3zM111.7 629.7h1v1h-1zM81.4 636.2h4v1h-4zM107.6 622.2h1v1h-1zM112.9 656.8h1v1h-1zM101.2 617.7h3v1h-3zM78.0 599.9h1v1h-1zM102.3 662.3h2v1h-2zM98.0 645.0h4v1h-4zM99.7 645.1h1v1h-1zM113.5 608.9h1v1h-1zM86.1 633.0h4v1h-4zM101.4 679.1h2v1h-2zM88.6 586.0h1v1h-1zM97.3 588.1h2v1h-2zM103.8 589.0h3v1h-3z" fill="#3f5868" opacity="0.4"/>
<rect x="95.00" y="579.7" width="4" height="110.50" fill="#d0dce1" opacity="0.8"/>
<rect x="96.40" y="579.7" width="1.2" height="110.50" fill="#7890a0" opacity="0.5"/>
<path d="M96.2 677.6h1.8v1h-1.8zM96.2 662.1h1.6v1h-1.6zM96.4 599.2h1.8v1h-1.8zM96.2 681.8h1.7v2h-1.7zM95.9 651.5h1.4v2h-1.4zM96.8 592.6h1.1v1h-1.1zM96.5 612.6h1.1v1h-1.1zM96.6 592.0h1v2h-1zM96.7 643.0h1v1h-1zM96.3 588.5h1.6v1h-1.6zM96.1 592.2h1.8v1.5h-1.8zM95.7 607.4h1.9v2h-1.9zM96.4 627.5h1.3v2h-1.3zM96.7 622.8h1.1v1h-1.1zM96.0 623.4h2v1.5h-2zM96.0 660.0h1.8v1h-1.8zM96.4 605.1h1.2v1h-1.2zM96.0 681.0h1.3v1h-1.3zM96.8 618.1h1.1v1h-1.1zM96.3 628.7h1.9v1h-1.9zM96.3 650.7h1.2v1.5h-1.2zM96.4 589.1h1.1v2h-1.1zM96.8 641.7h1.2v1.5h-1.2zM96.6 616.3h1.2v2h-1.2zM96.1 683.2h1.9v1h-1.9zM96.2 610.4h1.1v2h-1.1zM96.4 675.2h1.4v2h-1.4zM96.6 580.5h1.5v1h-1.5zM96.2 584.6h1.8v1.5h-1.8zM96.1 660.0h1.3v1.5h-1.3zM96.0 637.5h1.4v1.5h-1.4zM96.4 665.8h1.2v2h-1.2zM96.2 655.6h1.6v1h-1.6zM95.9 652.3h1.6v2h-1.6zM96.0 672.8h1.7v1.5h-1.7zM96.5 603.6h1.2v1h-1.2zM95.9 667.0h1.5v2h-1.5zM96.3 656.0h1.3v2h-1.3zM96.2 688.1h1.3v1h-1.3zM96.1 666.4h1.8v2h-1.8z" fill="#2a3c4c" opacity="0.5"/>
<rect x="76.5" y="579.7" width="41.00" height="110.50" fill="none" stroke="#939ea2" stroke-width="0.85"/>
<path d="M75.9 588.9h1.8M116.3 588.9h1.8M75.9 598.1h1.8M116.3 598.1h1.8M75.9 607.3h1.8M116.3 607.3h1.8M75.9 616.5h1.8M116.3 616.5h1.8M75.9 625.7h1.8M116.3 625.7h1.8M75.9 635.0h1.8M116.3 635.0h1.8M75.9 644.2h1.8M116.3 644.2h1.8M75.9 653.4h1.8M116.3 653.4h1.8M75.9 662.6h1.8M116.3 662.6h1.8M75.9 671.8h1.8M116.3 671.8h1.8M75.9 681.0h1.8M116.3 681.0h1.8" stroke="#7a858a" stroke-width="0.6"/>
<text x="78.60" y="698.50" font-size="6.4" text-anchor="middle" textLength="12.20" lengthAdjust="spacingAndGlyphs" fill="#222">-5kb</text>
<text x="97.15" y="698.50" font-size="6.4" text-anchor="middle" textLength="12.30" lengthAdjust="spacingAndGlyphs" fill="#222">Peak</text>
<text x="115.20" y="698.50" font-size="6.4" text-anchor="middle" textLength="13.80" lengthAdjust="spacingAndGlyphs" fill="#222">+5kb</text>
<rect x="132.0" y="579.7" width="40.50" height="110.50" fill="#e8eff1"/>
<path d="M162.6 625.6h6v1h-6zM132.7 633.5h6v1h-6zM155.8 645.1h3v1h-3zM146.5 634.0h5v1h-5zM159.4 618.9h1v1h-1zM138.3 675.5h4v1h-4zM149.3 609.7h1v1h-1zM170.1 595.1h2v1h-2zM161.9 614.4h2v1h-2zM165.7 582.1h4v1h-4zM135.6 653.9h2v1h-2zM136.2 653.4h2v1h-2zM165.3 667.8h6v1h-6zM161.9 625.9h1v1h-1zM136.9 606.5h2v1h-2zM161.9 643.5h5v1h-5zM143.4 587.2h1v1h-1zM159.7 582.7h6v1h-6zM169.4 602.5h2v1h-2zM169.3 613.0h2v1h-2zM154.3 636.4h3v1h-3zM139.0 585.5h6v1h-6zM165.3 580.5h5v1h-5zM136.2 647.3h3v1h-3zM148.7 671.4h2v1h-2zM141.1 601.3h5v1h-5zM150.0 688.8h4v1h-4zM145.4 609.9h2v1h-2zM134.7 680.5h2v1h-2zM158.0 683.3h1v1h-1zM140.8 586.6h4v1h-4zM140.7 588.6h2v1h-2zM142.4 631.1h5v1h-5zM154.0 608.9h1v1h-1zM145.2 619.0h2v1h-2zM158.4 669.0h5v1h-5zM141.7 657.4h3v1h-3zM145.8 664.8h2v1h-2zM143.3 657.5h3v1h-3zM139.9 599.0h2v1h-2zM161.7 615.9h2v1h-2zM160.3 615.0h1v1h-1zM156.8 684.0h6v1h-6zM165.9 627.3h3v1h-3zM157.0 651.6h2v1h-2zM152.3 612.1h2v1h-2zM161.8 640.8h1v1h-1zM135.5 676.5h5v1h-5zM132.9 594.1h3v1h-3zM142.0 609.5h1v1h-1zM140.9 637.2h2v1h-2zM151.3 633.0h1v1h-1zM164.1 587.6h4v1h-4zM151.6 616.4h5v1h-5zM164.2 649.8h2v1h-2zM158.1 679.7h2v1h-2zM138.3 592.9h1v1h-1zM167.2 666.2h2v1h-2zM158.7 622.6h5v1h-5zM140.3 649.0h4v1h-4zM152.7 641.9h2v1h-2zM162.3 642.3h5v1h-5zM158.0 621.6h5v1h-5zM156.3 581.6h5v1h-5zM152.2 632.7h2v1h-2zM158.4 661.9h6v1h-6zM146.8 651.0h3v1h-3zM145.3 605.1h2v1h-2zM160.7 624.9h1v1h-1zM142.7 649.3h1v1h-1zM135.4 686.7h6v1h-6zM163.8 614.5h4v1h-4zM141.9 616.7h1v1h-1zM137.5 604.8h5v1h-5zM142.6 641.5h2v1h-2zM143.4 595.4h5v1h-5zM155.9 589.1h2v1h-2zM157.0 638.5h5v1h-5zM167.8 618.3h2v1h-2zM133.0 633.5h6v1h-6zM132.5 669.8h4v1h-4zM154.0 658.6h3v1h-3zM136.5 630.4h2v1h-2zM156.1 585.9h2v1h-2zM147.1 647.5h2v1h-2zM143.1 643.0h3v1h-3zM154.6 597.2h2v1h-2zM137.1 604.5h3v1h-3zM151.4 671.5h2v1h-2zM156.5 676.4h4v1h-4zM158.7 582.1h1v1h-1zM143.7 594.6h3v1h-3zM140.8 630.4h3v1h-3zM166.0 686.5h5v1h-5zM158.1 682.0h3v1h-3zM154.8 676.2h3v1h-3zM137.6 598.1h2v1h-2zM133.8 674.0h5v1h-5zM153.9 582.5h5v1h-5zM142.8 686.2h5v1h-5zM132.4 659.8h2v1h-2zM154.0 619.9h5v1h-5zM140.7 668.1h2v1h-2zM145.8 604.1h3v1h-3zM147.2 628.2h5v1h-5zM162.9 596.4h2v1h-2zM148.2 673.1h6v1h-6zM142.0 658.4h3v1h-3zM165.2 662.2h6v1h-6zM161.3 595.4h5v1h-5zM150.9 622.2h5v1h-5zM145.6 613.8h1v1h-1zM132.3 688.2h6v1h-6zM149.6 611.6h2v1h-2zM144.9 665.3h5v1h-5zM160.0 617.0h5v1h-5zM135.4 670.5h6v1h-6zM155.6 662.2h6v1h-6zM162.8 633.8h2v1h-2zM153.3 654.0h3v1h-3zM149.0 643.6h5v1h-5zM146.5 653.4h2v1h-2zM132.5 655.7h3v1h-3zM159.4 621.5h5v1h-5zM164.9 677.3h2v1h-2zM133.5 639.4h4v1h-4zM134.6 677.1h4v1h-4zM140.0 619.4h4v1h-4zM158.8 662.0h3v1h-3zM155.1 601.2h3v1h-3zM163.8 658.6h4v1h-4zM155.3 630.4h2v1h-2zM162.2 667.6h2v1h-2zM168.5 648.3h3v1h-3zM164.0 599.3h5v1h-5zM133.7 647.0h6v1h-6zM151.4 660.6h6v1h-6zM155.0 601.2h2v1h-2zM158.8 633.8h6v1h-6zM158.3 591.4h5v1h-5zM132.5 677.5h2v1h-2zM135.0 604.3h4v1h-4zM162.5 622.0h6v1h-6zM146.7 659.1h3v1h-3zM140.6 667.8h6v1h-6zM146.2 617.3h2v1h-2zM139.8 652.6h3v1h-3zM169.8 666.1h2v1h-2zM150.5 640.5h4v1h-4zM136.9 668.1h6v1h-6zM161.4 663.2h3v1h-3zM165.4 649.9h1v1h-1zM159.3 651.5h3v1h-3zM161.8 656.7h1v1h-1zM139.3 639.0h2v1h-2zM159.6 645.5h2v1h-2zM168.0 600.7h2v1h-2zM145.4 583.4h5v1h-5zM134.9 655.9h6v1h-6zM157.6 639.7h3v1h-3zM132.6 685.5h3v1h-3zM152.9 618.4h4v1h-4zM166.2 644.9h2v1h-2zM164.4 597.3h1v1h-1zM160.6 671.9h4v1h-4zM163.5 613.8h3v1h-3zM136.3 666.5h2v1h-2zM142.4 637.6h2v1h-2zM138.3 611.5h5v1h-5zM135.1 614.5h2v1h-2zM155.0 596.4h6v1h-6zM148.8 634.2h1v1h-1zM137.5 585.2h1v1h-1zM144.0 609.9h5v1h-5zM158.5 597.5h2v1h-2zM158.6 681.5h3v1h-3zM144.2 675.6h6v1h-6zM165.2 629.4h6v1h-6zM151.7 651.4h2v1h-2zM168.9 681.1h3v1h-3zM142.5 624.2h6v1h-6zM151.0 617.6h5v1h-5zM148.7 623.8h2v1h-2zM135.4 679.7h2v1h-2zM138.9 632.0h5v1h-5zM136.5 644.9h2v1h-2zM136.7 633.0h2v1h-2zM141.4 649.0h2v1h-2zM139.8 605.1h6v1h-6zM167.5 684.2h2v1h-2zM161.9 666.2h6v1h-6zM166.7 658.6h3v1h-3zM148.4 683.6h5v1h-5zM162.7 637.5h1v1h-1zM160.9 612.8h6v1h-6zM153.7 600.5h3v1h-3zM150.2 667.2h5v1h-5zM149.7 677.3h5v1h-5zM141.6 645.1h3v1h-3zM170.0 683.5h1v1h-1zM151.0 619.4h2v1h-2zM169.2 675.7h1v1h-1zM136.9 590.8h1v1h-1zM165.6 661.8h5v1h-5zM147.5 687.0h3v1h-3zM153.0 602.4h6v1h-6zM152.2 629.1h6v1h-6zM163.8 591.1h6v1h-6zM141.1 635.0h5v1h-5zM156.4 672.7h4v1h-4zM163.1 628.8h2v1h-2zM135.7 593.6h2v1h-2zM158.9 660.6h4v1h-4zM158.0 644.5h4v1h-4zM145.3 597.8h1v1h-1zM145.6 662.4h5v1h-5zM137.6 599.0h1v1h-1zM143.6 617.1h4v1h-4zM132.7 637.5h4v1h-4zM146.1 669.5h2v1h-2zM138.2 623.7h1v1h-1zM170.2 667.9h2v1h-2zM160.9 675.4h1v1h-1zM155.9 680.7h2v1h-2zM137.8 671.1h1v1h-1zM149.2 677.0h5v1h-5zM155.0 640.3h2v1h-2zM167.2 672.5h1v1h-1zM133.5 633.3h3v1h-3zM146.7 607.8h2v1h-2zM142.2 636.0h1v1h-1zM144.0 618.4h2v1h-2zM158.5 627.3h2v1h-2zM161.2 610.9h1v1h-1zM164.5 625.8h6v1h-6zM142.0 585.2h4v1h-4zM135.1 665.8h2v1h-2zM134.2 619.6h4v1h-4zM146.8 687.1h6v1h-6zM142.4 591.6h4v1h-4zM152.8 592.7h3v1h-3zM156.5 582.5h3v1h-3zM146.2 599.1h5v1h-5zM135.5 587.3h6v1h-6zM162.5 614.3h4v1h-4zM147.6 688.4h3v1h-3zM162.4 582.3h5v1h-5zM166.4 640.6h3v1h-3zM166.1 615.3h2v1h-2zM170.1 612.7h1v1h-1zM157.5 667.5h1v1h-1zM137.5 680.6h6v1h-6zM137.0 683.0h2v1h-2zM160.5 614.3h5v1h-5zM154.0 613.3h6v1h-6zM142.3 632.9h4v1h-4zM148.7 585.9h4v1h-4zM162.5 658.8h6v1h-6zM165.0 612.5h4v1h-4zM160.7 639.4h2v1h-2zM168.2 583.5h1v1h-1zM136.6 650.0h3v1h-3zM138.3 581.4h2v1h-2zM163.3 661.4h3v1h-3zM151.0 592.6h3v1h-3zM164.6 646.2h5v1h-5zM154.3 662.9h1v1h-1zM136.4 651.8h5v1h-5zM160.9 629.7h2v1h-2zM138.7 678.9h1v1h-1zM155.2 687.0h5v1h-5zM142.0 654.5h6v1h-6zM166.0 655.8h4v1h-4zM152.0 624.5h1v1h-1zM146.2 598.1h2v1h-2zM167.5 639.8h3v1h-3zM135.9 659.1h4v1h-4zM148.8 659.4h2v1h-2zM156.2 650.1h2v1h-2zM161.2 636.5h2v1h-2zM155.0 600.2h3v1h-3zM146.9 674.6h3v1h-3zM140.8 616.4h5v1h-5zM134.1 632.1h6v1h-6zM164.7 687.7h4v1h-4zM156.4 665.0h1v1h-1zM142.5 629.2h5v1h-5zM148.7 677.1h1v1h-1zM160.3 601.5h3v1h-3zM137.7 608.2h2v1h-2zM152.0 662.0h2v1h-2zM139.3 615.0h4v1h-4zM152.1 584.7h5v1h-5zM158.9 633.1h2v1h-2zM165.5 585.9h3v1h-3zM161.8 610.0h1v1h-1zM153.3 644.9h2v1h-2zM132.8 588.0h1v1h-1zM159.5 665.2h3v1h-3zM135.6 680.1h5v1h-5zM163.3 599.0h6v1h-6zM169.1 680.1h2v1h-2zM133.2 655.3h5v1h-5zM136.8 680.3h3v1h-3zM166.2 626.4h1v1h-1zM160.2 657.8h3v1h-3zM164.2 663.1h3v1h-3zM156.1 597.3h5v1h-5zM166.4 606.6h4v1h-4zM137.5 676.0h5v1h-5zM163.8 614.2h5v1h-5zM152.0 685.9h6v1h-6zM159.6 620.4h5v1h-5zM144.5 608.5h3v1h-3zM137.1 599.9h3v1h-3zM151.5 595.8h3v1h-3zM139.0 581.5h2v1h-2zM151.6 647.5h6v1h-6zM156.0 653.1h3v1h-3zM156.1 589.3h5v1h-5zM168.0 664.3h2v1h-2zM162.8 594.8h4v1h-4zM137.6 617.5h4v1h-4zM164.5 670.3h3v1h-3zM167.0 623.4h4v1h-4zM160.4 610.3h3v1h-3zM168.9 638.6h2v1h-2zM136.1 677.0h2v1h-2zM136.1 581.1h5v1h-5zM145.6 624.2h5v1h-5zM147.8 590.8h5v1h-5zM162.0 589.5h6v1h-6zM145.4 612.9h1v1h-1zM163.2 624.1h2v1h-2zM163.3 604.8h2v1h-2zM155.0 585.9h2v1h-2zM154.7 603.3h1v1h-1zM158.5 630.9h6v1h-6zM148.1 657.2h2v1h-2zM156.9 627.6h2v1h-2zM140.6 626.7h5v1h-5zM157.0 599.9h5v1h-5zM145.5 642.1h2v1h-2zM164.5 631.1h2v1h-2zM146.5 599.9h1v1h-1zM137.6 608.9h6v1h-6zM135.9 640.3h2v1h-2zM139.3 668.5h4v1h-4zM165.8 614.7h2v1h-2zM144.6 588.1h1v1h-1zM155.9 618.1h4v1h-4zM144.2 655.2h3v1h-3zM140.9 613.1h4v1h-4zM145.0 655.3h3v1h-3zM148.6 665.8h5v1h-5zM164.4 660.0h1v1h-1zM157.9 612.4h3v1h-3zM148.2 637.2h2v1h-2zM158.6 679.4h3v1h-3zM157.4 617.4h3v1h-3zM142.0 658.2h2v1h-2zM148.7 673.5h3v1h-3zM133.2 624.1h2v1h-2zM165.7 667.9h2v1h-2zM150.4 641.0h4v1h-4zM147.5 638.1h2v1h-2zM133.8 596.7h1v1h-1zM154.9 609.5h1v1h-1zM159.8 672.3h3v1h-3zM138.6 652.7h3v1h-3zM158.9 581.4h5v1h-5zM136.2 604.3h3v1h-3zM132.4 660.9h2v1h-2zM136.1 642.5h2v1h-2zM161.6 638.9h4v1h-4zM149.6 676.6h1v1h-1zM135.7 609.1h6v1h-6zM145.9 668.9h2v1h-2zM160.1 659.7h3v1h-3zM133.9 650.6h1v1h-1zM157.3 603.0h5v1h-5zM162.2 608.6h5v1h-5zM144.7 653.8h4v1h-4zM146.7 617.5h3v1h-3zM157.2 688.8h4v1h-4zM138.7 634.8h2v1h-2zM163.4 620.0h4v1h-4zM155.2 626.7h5v1h-5zM142.3 679.5h3v1h-3zM151.6 598.0h2v1h-2zM144.9 640.0h3v1h-3zM155.8 669.8h6v1h-6zM146.5 594.5h4v1h-4zM164.7 649.7h1v1h-1zM133.9 627.3h5v1h-5zM152.3 614.9h2v1h-2z" fill="#b4c4cc" opacity="0.35"/>
<path d="M160.0 653.9h4v1h-4zM147.3 684.0h1v1h-1zM157.1 627.4h3v1h-3zM143.0 620.1h4v1h-4zM164.6 644.8h1v1h-1zM147.9 594.5h3v1h-3zM147.1 607.3h3v1h-3zM154.5 612.3h4v1h-4zM147.5 592.5h3v1h-3zM149.6 631.9h1v1h-1zM143.1 681.0h3v1h-3zM151.0 662.5h1v1h-1zM144.2 631.5h3v1h-3zM150.8 661.0h4v1h-4zM156.5 687.2h2v1h-2zM171.1 661.0h1v1h-1zM143.0 603.2h3v1h-3z" fill="#3f5868" opacity="0.4"/>
<rect x="149.75" y="579.7" width="5" height="110.50" fill="#c8d7dc" opacity="0.8"/>
<rect x="151.55" y="579.7" width="1.4" height="110.50" fill="#4a6272" opacity="0.52"/>
<path d="M151.5 667.7h1.2v2h-1.2zM150.9 666.6h2v1h-2zM151.3 648.7h2.1v2h-2.1zM151.3 589.0h1.3v1.5h-1.3zM151.2 631.2h1.7v1h-1.7zM150.8 651.1h2v2h-2zM151.7 630.3h1.6v2h-1.6zM151.2 638.1h1.9v1h-1.9zM151.5 599.7h2v1h-2zM151.1 658.6h1.7v1h-1.7zM151.0 674.9h1.9v2h-1.9zM151.3 590.2h1.4v2h-1.4zM151.8 591.7h1.3v1.5h-1.3zM151.2 676.5h1.5v1h-1.5zM151.0 627.7h2v1h-2zM151.7 658.7h1.4v1h-1.4zM151.6 585.1h1.3v1h-1.3zM151.5 609.0h1.3v1h-1.3zM151.5 651.2h2v1h-2zM151.7 586.7h1.5v1h-1.5zM151.3 679.9h1.7v1h-1.7zM151.4 686.4h2v1.5h-2zM150.9 627.5h2.2v2h-2.2zM151.9 666.5h1.4v1.5h-1.4zM151.3 685.5h1.5v1.5h-1.5zM151.3 648.1h1.6v1.5h-1.6zM151.8 618.9h1.7v1.5h-1.7zM151.6 682.3h2v1h-2zM151.4 652.6h1.6v1h-1.6zM151.2 608.4h1.9v1h-1.9zM151.1 624.8h2.1v1h-2.1zM151.5 630.9h2.2v1h-2.2zM151.1 609.0h1.8v2h-1.8zM151.1 662.6h1.7v2h-1.7zM151.2 591.6h2.2v1h-2.2zM151.4 616.4h1.8v2h-1.8zM151.4 658.3h1.5v2h-1.5zM151.5 614.3h1.4v1h-1.4zM151.8 630.4h1.7v1h-1.7zM151.0 587.2h1.9v1h-1.9zM151.2 628.6h1.9v1.5h-1.9zM151.1 624.4h2.1v2h-2.1zM151.6 603.6h1.6v1h-1.6zM151.5 635.8h1.9v2h-1.9zM151.1 605.1h2.1v1h-2.1zM151.6 653.5h1.9v1h-1.9zM151.3 657.6h1.5v1h-1.5zM151.7 606.4h1.2v1.5h-1.2zM151.7 640.3h1.5v1h-1.5zM151.7 599.1h1.6v1.5h-1.6z" fill="#1c2c3c" opacity="0.45"/>
<rect x="132.0" y="579.7" width="40.50" height="110.50" fill="none" stroke="#939ea2" stroke-width="0.85"/>
<path d="M131.4 588.9h1.8M171.3 588.9h1.8M131.4 598.1h1.8M171.3 598.1h1.8M131.4 607.3h1.8M171.3 607.3h1.8M131.4 616.5h1.8M171.3 616.5h1.8M131.4 625.7h1.8M171.3 625.7h1.8M131.4 635.0h1.8M171.3 635.0h1.8M131.4 644.2h1.8M171.3 644.2h1.8M131.4 653.4h1.8M171.3 653.4h1.8M131.4 662.6h1.8M171.3 662.6h1.8M131.4 671.8h1.8M171.3 671.8h1.8M131.4 681.0h1.8M171.3 681.0h1.8" stroke="#7a858a" stroke-width="0.6"/>
<text x="134.10" y="698.50" font-size="6.4" text-anchor="middle" textLength="12.20" lengthAdjust="spacingAndGlyphs" fill="#222">-5kb</text>
<text x="152.65" y="698.50" font-size="6.4" text-anchor="middle" textLength="12.30" lengthAdjust="spacingAndGlyphs" fill="#222">Peak</text>
<text x="170.70" y="698.50" font-size="6.4" text-anchor="middle" textLength="13.80" lengthAdjust="spacingAndGlyphs" fill="#222">+5kb</text>
<rect x="187.0" y="579.7" width="41.00" height="110.50" fill="#e8eff1"/>
<path d="M190.6 612.1h3v1h-3zM200.0 644.2h6v1h-6zM203.7 605.1h2v1h-2zM196.4 652.6h2v1h-2zM187.8 640.3h2v1h-2zM222.7 652.8h2v1h-2zM196.2 602.9h2v1h-2zM200.3 655.5h6v1h-6zM206.4 651.9h6v1h-6zM221.5 679.1h5v1h-5zM191.3 605.1h3v1h-3zM199.8 600.8h4v1h-4zM194.2 628.1h2v1h-2zM196.4 659.7h2v1h-2zM204.3 603.2h1v1h-1zM201.6 623.6h5v1h-5zM195.3 581.7h3v1h-3zM198.4 663.3h6v1h-6zM201.1 638.9h3v1h-3zM190.0 667.5h2v1h-2zM216.5 669.1h5v1h-5zM194.7 604.6h2v1h-2zM211.6 639.4h3v1h-3zM196.0 583.0h2v1h-2zM209.4 625.4h4v1h-4zM211.8 598.5h2v1h-2zM215.6 662.9h5v1h-5zM221.8 586.4h3v1h-3zM192.4 655.8h4v1h-4zM188.4 584.7h2v1h-2zM196.5 597.8h6v1h-6zM201.7 650.3h6v1h-6zM221.7 596.8h1v1h-1zM196.7 672.0h2v1h-2zM216.4 583.4h3v1h-3zM212.2 670.5h5v1h-5zM215.0 616.2h3v1h-3zM197.4 674.8h2v1h-2zM198.0 586.5h2v1h-2zM219.9 595.3h5v1h-5zM194.0 662.6h3v1h-3zM196.7 582.2h2v1h-2zM213.8 591.3h4v1h-4zM197.0 648.9h3v1h-3zM189.4 631.2h2v1h-2zM203.4 594.2h2v1h-2zM212.9 655.4h4v1h-4zM215.2 640.9h1v1h-1zM205.0 650.6h2v1h-2zM221.6 618.3h3v1h-3zM211.2 684.4h4v1h-4zM188.8 654.2h4v1h-4zM208.7 584.7h1v1h-1zM202.3 672.5h1v1h-1zM206.6 644.6h5v1h-5zM197.6 615.1h5v1h-5zM213.8 592.6h6v1h-6zM207.2 645.7h6v1h-6zM218.3 639.9h3v1h-3zM216.5 645.6h3v1h-3zM215.4 666.5h1v1h-1zM206.2 682.9h4v1h-4zM213.8 641.6h2v1h-2zM207.0 664.2h4v1h-4zM206.7 627.0h2v1h-2zM194.3 672.8h4v1h-4zM199.2 614.6h4v1h-4zM215.4 604.4h4v1h-4zM189.4 596.2h3v1h-3zM214.7 621.3h4v1h-4zM222.8 601.9h2v1h-2zM200.9 665.7h1v1h-1zM201.3 623.1h5v1h-5zM198.3 655.4h2v1h-2zM200.4 679.6h4v1h-4zM196.9 612.7h3v1h-3zM204.3 679.1h2v1h-2zM201.7 592.8h1v1h-1zM206.6 659.8h4v1h-4zM213.1 580.1h1v1h-1zM200.5 610.2h1v1h-1zM190.5 604.3h4v1h-4zM205.1 587.5h3v1h-3zM220.2 589.9h6v1h-6zM189.5 645.5h1v1h-1zM214.3 679.5h3v1h-3zM196.9 644.7h2v1h-2zM198.1 664.0h1v1h-1zM225.3 630.1h2v1h-2zM207.0 679.9h6v1h-6zM200.0 609.4h3v1h-3zM197.8 675.3h2v1h-2zM194.0 671.7h2v1h-2zM209.8 612.9h1v1h-1zM208.5 645.2h1v1h-1zM223.2 684.8h3v1h-3zM209.6 675.7h2v1h-2zM200.7 679.0h4v1h-4zM213.3 612.3h6v1h-6zM191.1 599.9h5v1h-5zM214.4 683.9h2v1h-2zM199.1 603.5h3v1h-3zM200.0 580.3h6v1h-6zM211.5 676.6h1v1h-1zM208.7 582.8h2v1h-2zM199.5 581.6h3v1h-3zM195.4 671.3h3v1h-3zM218.5 681.5h2v1h-2zM201.1 639.2h3v1h-3zM215.6 589.2h3v1h-3zM195.3 629.1h5v1h-5zM194.2 674.2h4v1h-4zM187.5 622.2h2v1h-2zM190.7 636.5h5v1h-5zM221.2 609.1h4v1h-4zM209.4 683.7h4v1h-4zM202.4 667.3h4v1h-4zM215.3 654.1h2v1h-2zM194.1 587.7h5v1h-5zM200.5 605.3h3v1h-3zM190.1 584.3h1v1h-1zM198.1 612.4h2v1h-2zM207.7 664.2h2v1h-2zM207.0 639.8h3v1h-3zM187.7 632.4h3v1h-3zM205.8 635.8h5v1h-5zM191.0 655.8h2v1h-2zM190.7 611.0h2v1h-2zM208.8 589.4h1v1h-1zM196.8 634.7h1v1h-1zM211.3 626.9h2v1h-2zM197.8 647.7h6v1h-6zM215.5 595.1h4v1h-4zM201.2 604.4h3v1h-3zM213.5 628.8h1v1h-1zM195.9 681.4h6v1h-6zM220.8 613.2h1v1h-1zM213.4 665.2h2v1h-2zM199.2 589.2h3v1h-3zM199.9 637.5h2v1h-2zM209.9 677.4h4v1h-4zM197.1 617.5h1v1h-1zM207.5 623.5h6v1h-6zM193.8 658.8h1v1h-1zM208.5 586.3h6v1h-6zM208.8 646.3h4v1h-4zM198.3 625.0h2v1h-2zM199.8 663.5h4v1h-4zM203.5 616.8h3v1h-3zM196.2 649.3h5v1h-5zM206.6 643.8h4v1h-4zM200.2 688.5h5v1h-5zM210.1 645.3h6v1h-6zM201.1 650.9h2v1h-2zM215.3 640.3h6v1h-6zM198.7 650.3h2v1h-2zM193.7 593.8h3v1h-3zM203.8 642.5h6v1h-6zM226.5 665.8h1v1h-1zM194.0 607.1h6v1h-6zM194.0 584.1h1v1h-1zM202.3 644.1h4v1h-4zM221.7 595.0h4v1h-4zM204.7 680.7h6v1h-6zM207.5 656.0h5v1h-5zM192.4 650.4h2v1h-2zM207.8 616.5h6v1h-6zM197.9 657.0h2v1h-2zM187.5 606.1h6v1h-6zM202.3 582.6h2v1h-2zM202.2 637.9h2v1h-2zM190.6 611.2h2v1h-2zM220.6 617.4h3v1h-3zM223.6 637.8h1v1h-1zM194.4 604.3h2v1h-2zM220.3 658.3h5v1h-5zM205.7 635.6h6v1h-6zM189.3 613.9h5v1h-5zM212.9 647.4h4v1h-4zM189.9 674.3h2v1h-2zM210.2 607.6h5v1h-5zM218.2 595.7h5v1h-5zM191.6 658.5h5v1h-5zM214.8 683.2h6v1h-6zM219.3 601.7h3v1h-3zM200.4 683.8h3v1h-3zM220.4 633.3h4v1h-4zM205.0 666.1h5v1h-5zM223.5 666.8h1v1h-1zM206.9 681.4h2v1h-2zM195.6 664.5h2v1h-2zM191.5 678.9h1v1h-1zM217.2 634.9h4v1h-4zM209.9 671.9h5v1h-5zM206.8 593.9h3v1h-3zM224.5 594.5h2v1h-2zM198.3 597.8h5v1h-5zM220.0 665.2h3v1h-3zM217.2 601.2h2v1h-2zM219.4 592.1h3v1h-3zM196.3 632.5h1v1h-1zM219.8 635.4h4v1h-4zM215.0 652.6h3v1h-3zM197.6 600.1h3v1h-3zM195.8 584.1h2v1h-2zM216.2 627.4h3v1h-3zM191.6 631.8h6v1h-6zM218.3 685.2h2v1h-2zM195.3 668.4h1v1h-1zM207.0 656.3h6v1h-6zM207.5 589.7h6v1h-6zM199.0 606.3h5v1h-5zM197.5 668.2h3v1h-3zM200.0 626.3h5v1h-5zM193.7 667.3h6v1h-6zM191.5 612.6h4v1h-4zM225.1 655.7h2v1h-2zM203.8 687.4h3v1h-3zM197.1 613.3h6v1h-6zM205.1 589.5h6v1h-6zM213.7 635.0h2v1h-2zM216.6 664.3h3v1h-3zM223.5 661.4h2v1h-2zM210.9 677.6h3v1h-3zM198.7 582.6h6v1h-6zM189.3 633.9h2v1h-2zM198.2 661.0h1v1h-1zM217.2 620.9h6v1h-6zM196.9 653.5h2v1h-2zM207.1 664.9h4v1h-4zM200.6 678.7h3v1h-3zM190.5 593.2h4v1h-4zM193.0 600.5h3v1h-3zM211.7 688.8h3v1h-3zM204.0 605.8h5v1h-5zM201.7 674.1h6v1h-6zM200.9 603.0h5v1h-5zM198.3 599.5h2v1h-2zM191.3 622.0h2v1h-2zM196.7 623.4h3v1h-3zM202.0 685.8h4v1h-4zM199.3 675.7h5v1h-5zM196.0 596.6h2v1h-2zM195.5 635.6h3v1h-3zM191.4 640.0h3v1h-3zM199.8 652.5h4v1h-4zM208.5 615.7h6v1h-6zM190.2 603.1h4v1h-4zM199.8 648.6h4v1h-4zM222.8 679.6h4v1h-4zM203.6 652.2h2v1h-2zM199.3 619.9h4v1h-4zM203.6 646.5h5v1h-5zM208.3 592.7h3v1h-3zM202.1 641.7h3v1h-3zM208.0 656.5h1v1h-1zM223.4 631.9h4v1h-4zM202.6 686.9h4v1h-4zM196.0 658.4h2v1h-2zM206.4 619.3h5v1h-5zM200.1 606.5h3v1h-3zM199.0 584.4h6v1h-6zM208.4 630.1h3v1h-3zM207.9 648.2h2v1h-2zM225.3 679.1h2v1h-2zM200.5 615.5h2v1h-2zM191.6 654.8h1v1h-1zM202.4 612.4h2v1h-2zM190.5 674.5h4v1h-4zM195.0 661.0h4v1h-4zM214.3 604.6h6v1h-6zM191.6 589.8h5v1h-5zM198.7 604.7h4v1h-4zM200.7 681.4h2v1h-2zM220.9 621.3h2v1h-2zM189.0 680.6h4v1h-4zM193.0 683.8h4v1h-4zM217.9 615.9h4v1h-4zM192.6 659.3h6v1h-6zM202.2 656.0h1v1h-1zM211.9 668.4h4v1h-4zM220.3 686.8h1v1h-1zM200.2 644.3h2v1h-2zM214.8 589.6h6v1h-6zM224.3 652.2h3v1h-3zM202.8 626.9h5v1h-5zM197.0 663.9h1v1h-1zM202.1 658.4h4v1h-4zM223.5 610.1h2v1h-2zM198.6 646.0h2v1h-2zM215.9 621.9h5v1h-5zM206.2 652.0h5v1h-5zM200.1 649.0h6v1h-6zM225.0 634.5h2v1h-2zM193.9 586.0h5v1h-5zM197.0 673.9h1v1h-1zM208.4 651.5h4v1h-4zM218.7 615.2h2v1h-2zM209.6 591.9h2v1h-2zM221.3 667.4h4v1h-4zM194.5 640.4h6v1h-6zM207.2 580.6h2v1h-2zM195.5 593.5h5v1h-5zM222.8 629.6h4v1h-4zM203.0 635.8h4v1h-4zM202.4 682.3h4v1h-4zM214.5 615.2h4v1h-4zM203.6 657.6h4v1h-4zM206.8 613.8h1v1h-1zM211.7 672.9h3v1h-3zM223.1 589.0h1v1h-1zM222.1 585.9h3v1h-3zM221.2 602.5h4v1h-4zM202.2 643.8h6v1h-6zM193.5 678.2h4v1h-4zM198.5 656.8h5v1h-5zM212.1 593.9h4v1h-4zM196.0 665.2h3v1h-3zM217.5 591.1h1v1h-1zM190.9 618.0h4v1h-4zM221.0 647.5h5v1h-5zM212.0 658.0h5v1h-5zM220.8 586.9h2v1h-2zM191.2 624.1h3v1h-3zM201.7 680.3h4v1h-4zM212.8 597.7h2v1h-2zM213.5 626.7h4v1h-4zM189.3 658.4h2v1h-2zM214.3 604.7h3v1h-3zM199.1 589.4h6v1h-6zM220.4 582.7h2v1h-2zM200.4 651.3h2v1h-2zM198.5 667.2h2v1h-2zM196.2 605.0h4v1h-4zM196.1 626.5h3v1h-3zM213.4 606.5h4v1h-4zM193.8 620.8h3v1h-3zM197.2 637.3h2v1h-2zM190.9 607.4h2v1h-2zM194.2 658.7h3v1h-3zM187.6 649.9h6v1h-6zM220.6 643.7h2v1h-2zM205.5 688.2h4v1h-4zM201.8 677.8h1v1h-1zM210.0 684.2h5v1h-5zM198.1 686.6h1v1h-1zM224.9 678.6h2v1h-2zM205.5 599.9h5v1h-5zM207.5 685.6h3v1h-3zM207.3 678.5h3v1h-3zM195.0 630.7h2v1h-2zM217.7 616.6h6v1h-6zM204.5 648.6h3v1h-3zM200.1 672.2h6v1h-6zM195.7 650.0h5v1h-5zM217.4 625.2h1v1h-1zM202.5 603.9h2v1h-2zM220.4 666.8h1v1h-1zM218.7 656.3h5v1h-5zM225.5 580.1h2v1h-2zM211.1 619.5h2v1h-2zM197.6 647.4h3v1h-3zM200.3 603.7h1v1h-1zM193.8 591.0h3v1h-3zM193.4 630.7h4v1h-4zM191.4 618.7h2v1h-2zM195.2 580.4h4v1h-4zM218.7 644.2h3v1h-3zM210.4 634.1h2v1h-2zM192.9 581.0h1v1h-1zM202.3 618.6h4v1h-4zM191.6 677.5h5v1h-5zM195.7 597.8h2v1h-2zM196.5 587.1h3v1h-3zM219.6 654.7h1v1h-1zM190.8 652.2h1v1h-1zM199.3 661.5h3v1h-3zM211.1 659.9h4v1h-4zM190.8 586.5h2v1h-2zM208.5 647.5h2v1h-2zM192.6 670.0h6v1h-6zM224.0 660.4h2v1h-2zM212.5 601.6h6v1h-6zM212.5 643.2h5v1h-5zM221.1 656.8h6v1h-6zM187.3 637.7h2v1h-2zM205.3 610.0h4v1h-4zM216.0 686.8h3v1h-3zM211.0 586.6h2v1h-2zM215.1 678.8h1v1h-1zM221.7 683.1h4v1h-4zM216.7 649.1h1v1h-1zM223.2 589.8h1v1h-1zM218.1 622.1h4v1h-4zM224.3 605.2h2v1h-2zM216.3 594.2h2v1h-2zM212.0 628.2h2v1h-2zM196.7 676.8h3v1h-3zM200.6 643.9h3v1h-3zM192.5 675.7h3v1h-3zM209.2 592.6h1v1h-1zM188.7 604.2h3v1h-3zM217.7 625.8h5v1h-5zM215.0 604.2h6v1h-6zM213.7 641.8h4v1h-4zM218.2 581.5h4v1h-4zM193.9 677.8h4v1h-4zM216.8 601.1h6v1h-6zM197.1 622.6h6v1h-6zM199.8 681.1h4v1h-4zM219.8 651.6h2v1h-2zM198.8 652.3h2v1h-2zM221.2 656.0h2v1h-2zM218.9 671.8h6v1h-6z" fill="#b4c4cc" opacity="0.385"/>
<path d="M217.3 615.8h1v1h-1zM223.6 584.6h2v1h-2zM189.6 657.7h2v1h-2zM206.2 623.5h1v1h-1zM216.6 616.6h2v1h-2zM219.5 605.5h4v1h-4zM189.8 653.7h3v1h-3zM223.2 681.2h2v1h-2zM211.7 583.1h4v1h-4zM210.4 679.6h4v1h-4zM207.6 628.3h1v1h-1zM188.4 679.5h1v1h-1zM201.1 587.8h1v1h-1zM189.5 606.0h3v1h-3zM225.3 594.7h1v1h-1zM197.0 687.4h4v1h-4zM200.8 652.0h2v1h-2zM212.7 645.9h1v1h-1zM221.0 638.0h1v1h-1zM206.6 600.4h4v1h-4zM196.3 660.6h1v1h-1z" fill="#3f5868" opacity="0.45"/>
<rect x="205.00" y="579.7" width="5" height="110.50" fill="#c4d3d9" opacity="0.8"/>
<rect x="206.70" y="579.7" width="1.6" height="110.50" fill="#3c5668" opacity="0.58"/>
<path d="M207.1 640.8h1.4v1h-1.4zM206.3 658.1h2.1v2h-2.1zM207.0 677.8h1.4v2h-1.4zM206.8 683.7h1.6v1h-1.6zM206.8 683.1h1.4v1.5h-1.4zM206.5 644.9h2.3v1h-2.3zM206.4 624.4h2.1v1h-2.1zM206.8 594.0h2.1v2h-2.1zM206.8 687.6h1.5v1h-1.5zM206.9 619.6h1.6v1.5h-1.6zM206.6 587.8h2.3v1h-2.3zM206.5 658.6h1.7v2h-1.7zM206.8 591.4h2v1h-2zM206.4 642.6h2.3v1h-2.3zM206.3 634.0h1.6v1.5h-1.6zM206.7 679.2h2v1.5h-2zM206.8 628.0h1.6v1h-1.6zM206.7 643.1h2v1h-2zM206.4 592.8h1.5v1h-1.5zM206.7 664.6h2.1v1h-2.1zM206.7 645.6h1.7v2h-1.7zM206.5 687.7h2v1.5h-2zM206.9 677.2h1.7v1h-1.7zM206.3 581.1h2.3v1.5h-2.3zM206.3 602.2h1.6v1h-1.6zM206.7 618.9h2v1h-2zM206.5 584.2h1.5v1.5h-1.5zM206.4 603.3h1.5v1h-1.5zM206.9 592.5h1.6v1h-1.6zM206.6 647.1h1.6v1h-1.6zM206.4 634.5h1.9v1h-1.9zM206.8 599.7h2.1v1.5h-2.1zM206.8 610.8h1.4v1.5h-1.4zM206.6 632.6h1.7v1.5h-1.7zM206.5 639.8h2v1.5h-2zM206.9 627.9h1.9v1h-1.9zM206.3 622.5h2.1v2h-2.1zM206.4 636.7h1.9v1h-1.9zM206.8 624.1h1.8v1h-1.8zM206.8 626.1h1.9v2h-1.9zM206.0 612.8h2.2v1.5h-2.2zM206.5 644.7h1.6v1.5h-1.6zM206.5 683.9h1.5v1h-1.5zM206.2 646.3h2.1v1h-2.1zM206.5 665.3h2.2v1h-2.2zM206.9 596.6h1.9v1.5h-1.9zM206.8 623.5h1.7v1.5h-1.7zM206.2 681.1h2.3v1h-2.3zM206.2 624.1h2v1h-2zM206.3 642.5h2.4v1h-2.4zM206.4 612.0h1.8v1h-1.8zM206.3 609.7h2.1v1.5h-2.1zM206.8 642.1h1.7v1h-1.7zM206.9 599.7h1.9v2h-1.9zM206.4 676.0h2.3v1h-2.3zM206.6 654.8h2v1h-2zM206.7 679.4h1.6v2h-1.6zM206.9 598.1h1.8v2h-1.8zM206.7 580.3h1.8v1h-1.8zM206.5 605.4h1.7v2h-1.7z" fill="#18283a" opacity="0.48"/>
<rect x="187.0" y="579.7" width="41.00" height="110.50" fill="none" stroke="#939ea2" stroke-width="0.85"/>
<path d="M186.4 588.9h1.8M226.8 588.9h1.8M186.4 598.1h1.8M226.8 598.1h1.8M186.4 607.3h1.8M226.8 607.3h1.8M186.4 616.5h1.8M226.8 616.5h1.8M186.4 625.7h1.8M226.8 625.7h1.8M186.4 635.0h1.8M226.8 635.0h1.8M186.4 644.2h1.8M226.8 644.2h1.8M186.4 653.4h1.8M226.8 653.4h1.8M186.4 662.6h1.8M226.8 662.6h1.8M186.4 671.8h1.8M226.8 671.8h1.8M186.4 681.0h1.8M226.8 681.0h1.8" stroke="#7a858a" stroke-width="0.6"/>
<text x="189.10" y="698.50" font-size="6.4" text-anchor="middle" textLength="12.20" lengthAdjust="spacingAndGlyphs" fill="#222">-5kb</text>
<text x="207.65" y="698.50" font-size="6.4" text-anchor="middle" textLength="12.30" lengthAdjust="spacingAndGlyphs" fill="#222">Peak</text>
<text x="225.70" y="698.50" font-size="6.4" text-anchor="middle" textLength="13.80" lengthAdjust="spacingAndGlyphs" fill="#222">+5kb</text>
<ellipse cx="376.9" cy="406.2" rx="47.4" ry="46.0" fill="#b0bb87"/>
<ellipse cx="441.1" cy="406.6" rx="31.3" ry="30.6" fill="#a6a8cc"/>
<clipPath id="cpg"><ellipse cx="376.9" cy="406.2" rx="47.4" ry="46.0"/></clipPath>
<ellipse cx="441.1" cy="406.6" rx="31.3" ry="30.6" fill="#78876e" clip-path="url(#cpg)"/>
<ellipse cx="441.1" cy="406.6" rx="31.3" ry="30.6" fill="none" stroke="#dfe6d0" stroke-width="0.7" clip-path="url(#cpg)"/>
<text x="291.30" y="404.20" font-size="7.6" textLength="21.00" lengthAdjust="spacingAndGlyphs">Dot1Li</text>
<text x="291.30" y="413.00" font-size="7.6" textLength="33.60" lengthAdjust="spacingAndGlyphs">ATAC loss</text>
<text x="369.00" y="408.80" font-size="7.8" text-anchor="middle" textLength="15.90" lengthAdjust="spacingAndGlyphs">5027</text>
<text x="416.80" y="408.90" font-size="8.4" text-anchor="middle" textLength="13.00" lengthAdjust="spacingAndGlyphs">378</text>
<text x="449.30" y="408.80" font-size="7.8" text-anchor="middle" textLength="15.60" lengthAdjust="spacingAndGlyphs">1804</text>
<text x="493.80" y="404.40" font-size="7.6" text-anchor="middle" textLength="18.00" lengthAdjust="spacingAndGlyphs">LSD1i</text>
<text x="494.00" y="413.50" font-size="7.4" text-anchor="middle" textLength="35.70" lengthAdjust="spacingAndGlyphs">ATAC gain</text>
<path d="M347.9,532.9 L389.30,532.90 A41.4,41.4 0 0 0 376.87,503.32 Z" fill="#a80029" stroke="#111" stroke-width="0.9" stroke-linejoin="round"/>
<path d="M347.9,532.9 L376.87,503.32 A41.4,41.4 0 0 0 306.53,534.34 Z" fill="#2e4a7a" stroke="#111" stroke-width="0.9" stroke-linejoin="round"/>
<path d="M347.9,532.9 L306.53,534.34 A41.4,41.4 0 0 0 307.01,539.38 Z" fill="#f2c230" stroke="#111" stroke-width="0.9" stroke-linejoin="round"/>
<path d="M347.9,532.9 L307.01,539.38 A41.4,41.4 0 0 0 389.30,532.90 Z" fill="#b1bc89" stroke="#111" stroke-width="0.9" stroke-linejoin="round"/>
<path d="M348.0,652.1 L389.30,652.10 A41.3,41.3 0 0 0 338.01,612.03 Z" fill="#a80029" stroke="#111" stroke-width="0.9" stroke-linejoin="round"/>
<path d="M348.0,652.1 L338.01,612.03 A41.3,41.3 0 0 0 317.12,679.52 Z" fill="#2e4a7a" stroke="#111" stroke-width="0.9" stroke-linejoin="round"/>
<path d="M348.0,652.1 L317.12,679.52 A41.3,41.3 0 0 0 322.35,684.47 Z" fill="#f2c230" stroke="#111" stroke-width="0.9" stroke-linejoin="round"/>
<path d="M348.0,652.1 L322.35,684.47 A41.3,41.3 0 0 0 389.30,652.10 Z" fill="#b1bc89" stroke="#111" stroke-width="0.9" stroke-linejoin="round"/>
<text x="347.80" y="481.60" font-size="10.0" text-anchor="middle" textLength="54.80" lengthAdjust="spacingAndGlyphs">LSD1i vs ctrl</text>
<line x1="320.4" y1="483.4" x2="375.2" y2="483.4" stroke="#1a1a1a" stroke-width="0.8"/>
<text x="348.20" y="604.40" font-size="10.0" text-anchor="middle" textLength="62.60" lengthAdjust="spacingAndGlyphs">DOT1Li vs ctrl</text>
<line x1="316.9" y1="606.4" x2="379.5" y2="606.4" stroke="#1a1a1a" stroke-width="0.8"/>
<text x="308.00" y="492.50" font-size="7.0" textLength="19.00" lengthAdjust="spacingAndGlyphs">intron</text>
<text x="391.00" y="515.60" font-size="7.0" textLength="31.00" lengthAdjust="spacingAndGlyphs">promoter</text>
<text x="284.30" y="539.60" font-size="7.0" textLength="16.50" lengthAdjust="spacingAndGlyphs">exon</text>
<text x="352.10" y="583.50" font-size="7.0" textLength="32.30" lengthAdjust="spacingAndGlyphs">Intergenic</text>
<text x="378.60" y="613.70" font-size="7.0" textLength="30.40" lengthAdjust="spacingAndGlyphs">promoter</text>
<text x="283.50" y="639.00" font-size="7.0" textLength="19.00" lengthAdjust="spacingAndGlyphs">intron</text>
<text x="298.70" y="688.50" font-size="7.0" textLength="15.30" lengthAdjust="spacingAndGlyphs">exon</text>
<text x="370.00" y="698.60" font-size="7.0" textLength="33.50" lengthAdjust="spacingAndGlyphs">intergenic</text>
<line x1="327.5" y1="491.5" x2="331" y2="494.5" stroke="#1a1a1a" stroke-width="0.7"/>
<line x1="389.5" y1="516.5" x2="386.5" y2="518.5" stroke="#1a1a1a" stroke-width="0.7"/>
<line x1="301.5" y1="537.5" x2="305.5" y2="537.0" stroke="#1a1a1a" stroke-width="0.7"/>
<line x1="350.5" y1="574.5" x2="351.0" y2="578.0" stroke="#1a1a1a" stroke-width="0.7"/>
<line x1="376.5" y1="615.5" x2="373.5" y2="618.5" stroke="#1a1a1a" stroke-width="0.7"/>
<line x1="303.5" y1="639.5" x2="307.5" y2="639.0" stroke="#1a1a1a" stroke-width="0.7"/>
<line x1="315.5" y1="686.5" x2="319.5" y2="684.0" stroke="#1a1a1a" stroke-width="0.7"/>
<line x1="367.5" y1="689.5" x2="366.0" y2="692.5" stroke="#1a1a1a" stroke-width="0.7"/>
<rect x="0.75" y="0.75" width="518.5" height="707.5" fill="none" stroke="#000" stroke-width="1.5"/>
</svg>
</body></html>
